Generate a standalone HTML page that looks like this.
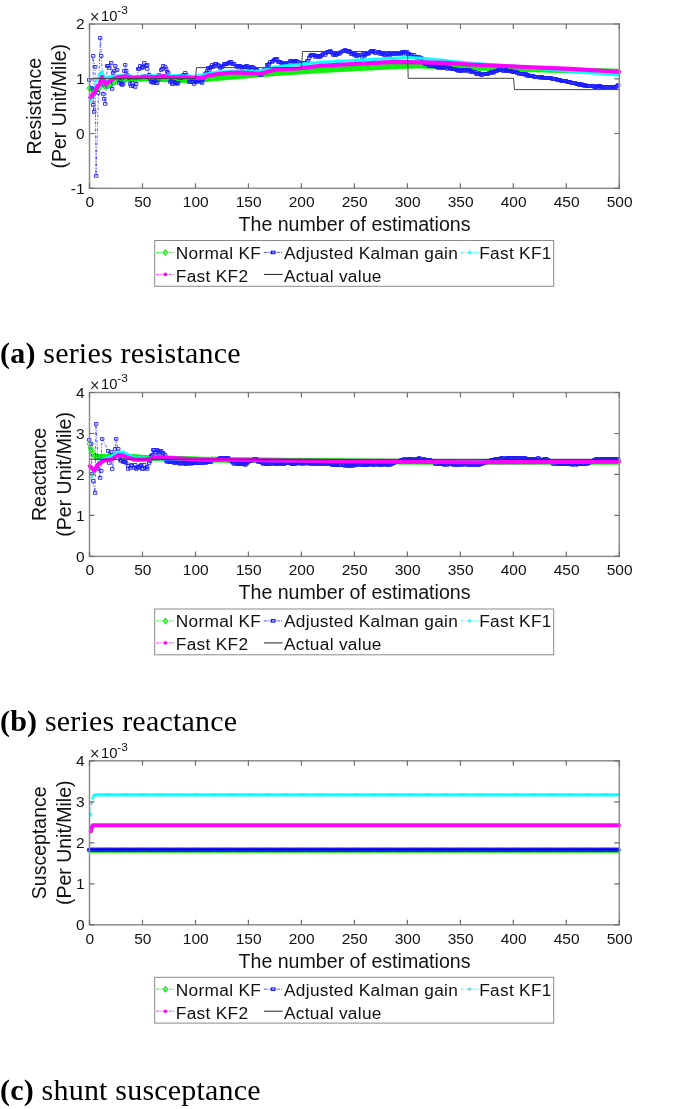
<!DOCTYPE html><html><head><meta charset="utf-8"><style>
html,body{margin:0;padding:0;background:#fff;width:685px;height:1109px;overflow:hidden}
svg{position:absolute;left:0;top:0;display:block;will-change:transform}
text{font-family:"Liberation Sans",sans-serif;fill:#111}
.cap{font-family:"Liberation Serif",serif;fill:#000}
</style></head><body>
<svg width="685" height="1109" viewBox="0 0 685 1109">
<polyline points="89.2,88 93.8,90.4 98.5,89.2 101.4,82.8 105.5,86.9 108.4,85.7 114.3,82.2 118.4,79.3 126,79.3 145,78.6 170,79.5 195,80.5 206.7,79 240,76.1 275,73.2 320,70.3 350,68.6 407.6,65.8 420,65.6 470,67.5 520,69 570,70.4 619,71.6" fill="none" stroke="#00f000" stroke-width="0.8" stroke-dasharray="3 1.5 1 1.5" opacity="0.8"/>
<path d="M89.5 85.5l2.7 2.7l-2.7 2.7l-2.7 -2.7zM90.6 86l2.7 2.7l-2.7 2.7l-2.7 -2.7zM91.6 86.6l2.7 2.7l-2.7 2.7l-2.7 -2.7zM92.7 87.1l2.7 2.7l-2.7 2.7l-2.7 -2.7zM93.7 87.7l2.7 2.7l-2.7 2.7l-2.7 -2.7zM94.8 87.4l2.7 2.7l-2.7 2.7l-2.7 -2.7zM95.9 87.2l2.7 2.7l-2.7 2.7l-2.7 -2.7zM96.9 86.9l2.7 2.7l-2.7 2.7l-2.7 -2.7zM98 86.6l2.7 2.7l-2.7 2.7l-2.7 -2.7zM99 85.3l2.7 2.7l-2.7 2.7l-2.7 -2.7zM100.1 83l2.7 2.7l-2.7 2.7l-2.7 -2.7zM101.2 80.6l2.7 2.7l-2.7 2.7l-2.7 -2.7zM102.2 80.9l2.7 2.7l-2.7 2.7l-2.7 -2.7zM103.3 82l2.7 2.7l-2.7 2.7l-2.7 -2.7zM104.3 83l2.7 2.7l-2.7 2.7l-2.7 -2.7zM105.4 84.1l2.7 2.7l-2.7 2.7l-2.7 -2.7zM106.5 83.8l2.7 2.7l-2.7 2.7l-2.7 -2.7zM107.5 83.4l2.7 2.7l-2.7 2.7l-2.7 -2.7zM108.6 82.9l2.7 2.7l-2.7 2.7l-2.7 -2.7zM109.6 82.3l2.7 2.7l-2.7 2.7l-2.7 -2.7zM110.7 81.6l2.7 2.7l-2.7 2.7l-2.7 -2.7zM111.8 81l2.7 2.7l-2.7 2.7l-2.7 -2.7zM112.8 80.4l2.7 2.7l-2.7 2.7l-2.7 -2.7zM113.9 79.8l2.7 2.7l-2.7 2.7l-2.7 -2.7zM114.9 79.1l2.7 2.7l-2.7 2.7l-2.7 -2.7zM116 78.3l2.7 2.7l-2.7 2.7l-2.7 -2.7zM117 77.6l2.7 2.7l-2.7 2.7l-2.7 -2.7zM118.1 76.8l2.7 2.7l-2.7 2.7l-2.7 -2.7zM119.2 76.6l2.7 2.7l-2.7 2.7l-2.7 -2.7zM120.2 76.6l2.7 2.7l-2.7 2.7l-2.7 -2.7zM121.3 76.6l2.7 2.7l-2.7 2.7l-2.7 -2.7zM122.3 76.6l2.7 2.7l-2.7 2.7l-2.7 -2.7zM123.4 76.6l2.7 2.7l-2.7 2.7l-2.7 -2.7zM124.5 76.6l2.7 2.7l-2.7 2.7l-2.7 -2.7zM125.5 76.6l2.7 2.7l-2.7 2.7l-2.7 -2.7zM126.6 76.6l2.7 2.7l-2.7 2.7l-2.7 -2.7zM127.6 76.5l2.7 2.7l-2.7 2.7l-2.7 -2.7zM128.7 76.5l2.7 2.7l-2.7 2.7l-2.7 -2.7zM129.8 76.5l2.7 2.7l-2.7 2.7l-2.7 -2.7zM130.8 76.4l2.7 2.7l-2.7 2.7l-2.7 -2.7zM131.9 76.4l2.7 2.7l-2.7 2.7l-2.7 -2.7zM132.9 76.3l2.7 2.7l-2.7 2.7l-2.7 -2.7zM134 76.3l2.7 2.7l-2.7 2.7l-2.7 -2.7zM135.1 76.3l2.7 2.7l-2.7 2.7l-2.7 -2.7zM136.1 76.2l2.7 2.7l-2.7 2.7l-2.7 -2.7zM137.2 76.2l2.7 2.7l-2.7 2.7l-2.7 -2.7zM138.2 76.1l2.7 2.7l-2.7 2.7l-2.7 -2.7zM139.3 76.1l2.7 2.7l-2.7 2.7l-2.7 -2.7zM140.4 76.1l2.7 2.7l-2.7 2.7l-2.7 -2.7zM141.4 76l2.7 2.7l-2.7 2.7l-2.7 -2.7zM142.5 76l2.7 2.7l-2.7 2.7l-2.7 -2.7zM143.5 76l2.7 2.7l-2.7 2.7l-2.7 -2.7zM144.6 75.9l2.7 2.7l-2.7 2.7l-2.7 -2.7zM145.7 75.9l2.7 2.7l-2.7 2.7l-2.7 -2.7zM146.7 76l2.7 2.7l-2.7 2.7l-2.7 -2.7zM147.8 76l2.7 2.7l-2.7 2.7l-2.7 -2.7zM148.8 76l2.7 2.7l-2.7 2.7l-2.7 -2.7zM149.9 76.1l2.7 2.7l-2.7 2.7l-2.7 -2.7zM151 76.1l2.7 2.7l-2.7 2.7l-2.7 -2.7zM152 76.2l2.7 2.7l-2.7 2.7l-2.7 -2.7zM153.1 76.2l2.7 2.7l-2.7 2.7l-2.7 -2.7zM154.1 76.2l2.7 2.7l-2.7 2.7l-2.7 -2.7zM155.2 76.3l2.7 2.7l-2.7 2.7l-2.7 -2.7zM156.3 76.3l2.7 2.7l-2.7 2.7l-2.7 -2.7zM157.3 76.3l2.7 2.7l-2.7 2.7l-2.7 -2.7zM158.4 76.4l2.7 2.7l-2.7 2.7l-2.7 -2.7zM159.4 76.4l2.7 2.7l-2.7 2.7l-2.7 -2.7zM160.5 76.5l2.7 2.7l-2.7 2.7l-2.7 -2.7zM161.6 76.5l2.7 2.7l-2.7 2.7l-2.7 -2.7zM162.6 76.5l2.7 2.7l-2.7 2.7l-2.7 -2.7zM163.7 76.6l2.7 2.7l-2.7 2.7l-2.7 -2.7zM164.7 76.6l2.7 2.7l-2.7 2.7l-2.7 -2.7zM165.8 76.6l2.7 2.7l-2.7 2.7l-2.7 -2.7zM166.9 76.7l2.7 2.7l-2.7 2.7l-2.7 -2.7zM167.9 76.7l2.7 2.7l-2.7 2.7l-2.7 -2.7zM169 76.8l2.7 2.7l-2.7 2.7l-2.7 -2.7zM170 76.8l2.7 2.7l-2.7 2.7l-2.7 -2.7zM171.1 76.8l2.7 2.7l-2.7 2.7l-2.7 -2.7zM172.1 76.9l2.7 2.7l-2.7 2.7l-2.7 -2.7zM173.2 76.9l2.7 2.7l-2.7 2.7l-2.7 -2.7zM174.3 77l2.7 2.7l-2.7 2.7l-2.7 -2.7zM175.3 77l2.7 2.7l-2.7 2.7l-2.7 -2.7zM176.4 77.1l2.7 2.7l-2.7 2.7l-2.7 -2.7zM177.4 77.1l2.7 2.7l-2.7 2.7l-2.7 -2.7zM178.5 77.1l2.7 2.7l-2.7 2.7l-2.7 -2.7zM179.6 77.2l2.7 2.7l-2.7 2.7l-2.7 -2.7zM180.6 77.2l2.7 2.7l-2.7 2.7l-2.7 -2.7zM181.7 77.3l2.7 2.7l-2.7 2.7l-2.7 -2.7zM182.7 77.3l2.7 2.7l-2.7 2.7l-2.7 -2.7zM183.8 77.4l2.7 2.7l-2.7 2.7l-2.7 -2.7zM184.9 77.4l2.7 2.7l-2.7 2.7l-2.7 -2.7zM185.9 77.4l2.7 2.7l-2.7 2.7l-2.7 -2.7zM187 77.5l2.7 2.7l-2.7 2.7l-2.7 -2.7zM188 77.5l2.7 2.7l-2.7 2.7l-2.7 -2.7zM189.1 77.6l2.7 2.7l-2.7 2.7l-2.7 -2.7zM190.2 77.6l2.7 2.7l-2.7 2.7l-2.7 -2.7zM191.2 77.6l2.7 2.7l-2.7 2.7l-2.7 -2.7zM192.3 77.7l2.7 2.7l-2.7 2.7l-2.7 -2.7zM193.3 77.7l2.7 2.7l-2.7 2.7l-2.7 -2.7zM194.4 77.8l2.7 2.7l-2.7 2.7l-2.7 -2.7zM195.5 77.7l2.7 2.7l-2.7 2.7l-2.7 -2.7zM196.5 77.6l2.7 2.7l-2.7 2.7l-2.7 -2.7zM197.6 77.5l2.7 2.7l-2.7 2.7l-2.7 -2.7zM198.6 77.3l2.7 2.7l-2.7 2.7l-2.7 -2.7zM199.7 77.2l2.7 2.7l-2.7 2.7l-2.7 -2.7zM200.8 77.1l2.7 2.7l-2.7 2.7l-2.7 -2.7zM201.8 76.9l2.7 2.7l-2.7 2.7l-2.7 -2.7zM202.9 76.8l2.7 2.7l-2.7 2.7l-2.7 -2.7zM203.9 76.7l2.7 2.7l-2.7 2.7l-2.7 -2.7zM205 76.5l2.7 2.7l-2.7 2.7l-2.7 -2.7zM206.1 76.4l2.7 2.7l-2.7 2.7l-2.7 -2.7zM207.1 76.3l2.7 2.7l-2.7 2.7l-2.7 -2.7zM208.2 76.2l2.7 2.7l-2.7 2.7l-2.7 -2.7zM209.2 76.1l2.7 2.7l-2.7 2.7l-2.7 -2.7zM210.3 76l2.7 2.7l-2.7 2.7l-2.7 -2.7zM211.4 75.9l2.7 2.7l-2.7 2.7l-2.7 -2.7zM212.4 75.8l2.7 2.7l-2.7 2.7l-2.7 -2.7zM213.5 75.7l2.7 2.7l-2.7 2.7l-2.7 -2.7zM214.5 75.6l2.7 2.7l-2.7 2.7l-2.7 -2.7zM215.6 75.5l2.7 2.7l-2.7 2.7l-2.7 -2.7zM216.7 75.4l2.7 2.7l-2.7 2.7l-2.7 -2.7zM217.7 75.3l2.7 2.7l-2.7 2.7l-2.7 -2.7zM218.8 75.2l2.7 2.7l-2.7 2.7l-2.7 -2.7zM219.8 75.2l2.7 2.7l-2.7 2.7l-2.7 -2.7zM220.9 75.1l2.7 2.7l-2.7 2.7l-2.7 -2.7zM221.9 75l2.7 2.7l-2.7 2.7l-2.7 -2.7zM223 74.9l2.7 2.7l-2.7 2.7l-2.7 -2.7zM224.1 74.8l2.7 2.7l-2.7 2.7l-2.7 -2.7zM225.1 74.7l2.7 2.7l-2.7 2.7l-2.7 -2.7zM226.2 74.6l2.7 2.7l-2.7 2.7l-2.7 -2.7zM227.2 74.5l2.7 2.7l-2.7 2.7l-2.7 -2.7zM228.3 74.4l2.7 2.7l-2.7 2.7l-2.7 -2.7zM229.4 74.3l2.7 2.7l-2.7 2.7l-2.7 -2.7zM230.4 74.2l2.7 2.7l-2.7 2.7l-2.7 -2.7zM231.5 74.1l2.7 2.7l-2.7 2.7l-2.7 -2.7zM232.5 74l2.7 2.7l-2.7 2.7l-2.7 -2.7zM233.6 74l2.7 2.7l-2.7 2.7l-2.7 -2.7zM234.7 73.9l2.7 2.7l-2.7 2.7l-2.7 -2.7zM235.7 73.8l2.7 2.7l-2.7 2.7l-2.7 -2.7zM236.8 73.7l2.7 2.7l-2.7 2.7l-2.7 -2.7zM237.8 73.6l2.7 2.7l-2.7 2.7l-2.7 -2.7zM238.9 73.5l2.7 2.7l-2.7 2.7l-2.7 -2.7zM240 73.4l2.7 2.7l-2.7 2.7l-2.7 -2.7zM241 73.3l2.7 2.7l-2.7 2.7l-2.7 -2.7zM242.1 73.2l2.7 2.7l-2.7 2.7l-2.7 -2.7zM243.1 73.1l2.7 2.7l-2.7 2.7l-2.7 -2.7zM244.2 73.1l2.7 2.7l-2.7 2.7l-2.7 -2.7zM245.3 73l2.7 2.7l-2.7 2.7l-2.7 -2.7zM246.3 72.9l2.7 2.7l-2.7 2.7l-2.7 -2.7zM247.4 72.8l2.7 2.7l-2.7 2.7l-2.7 -2.7zM248.4 72.7l2.7 2.7l-2.7 2.7l-2.7 -2.7zM249.5 72.6l2.7 2.7l-2.7 2.7l-2.7 -2.7zM250.6 72.5l2.7 2.7l-2.7 2.7l-2.7 -2.7zM251.6 72.4l2.7 2.7l-2.7 2.7l-2.7 -2.7zM252.7 72.3l2.7 2.7l-2.7 2.7l-2.7 -2.7zM253.7 72.3l2.7 2.7l-2.7 2.7l-2.7 -2.7zM254.8 72.2l2.7 2.7l-2.7 2.7l-2.7 -2.7zM255.9 72.1l2.7 2.7l-2.7 2.7l-2.7 -2.7zM256.9 72l2.7 2.7l-2.7 2.7l-2.7 -2.7zM258 71.9l2.7 2.7l-2.7 2.7l-2.7 -2.7zM259 71.8l2.7 2.7l-2.7 2.7l-2.7 -2.7zM260.1 71.7l2.7 2.7l-2.7 2.7l-2.7 -2.7zM261.2 71.6l2.7 2.7l-2.7 2.7l-2.7 -2.7zM262.2 71.6l2.7 2.7l-2.7 2.7l-2.7 -2.7zM263.3 71.5l2.7 2.7l-2.7 2.7l-2.7 -2.7zM264.3 71.4l2.7 2.7l-2.7 2.7l-2.7 -2.7zM265.4 71.3l2.7 2.7l-2.7 2.7l-2.7 -2.7zM266.5 71.2l2.7 2.7l-2.7 2.7l-2.7 -2.7zM267.5 71.1l2.7 2.7l-2.7 2.7l-2.7 -2.7zM268.6 71l2.7 2.7l-2.7 2.7l-2.7 -2.7zM269.6 70.9l2.7 2.7l-2.7 2.7l-2.7 -2.7zM270.7 70.9l2.7 2.7l-2.7 2.7l-2.7 -2.7zM271.8 70.8l2.7 2.7l-2.7 2.7l-2.7 -2.7zM272.8 70.7l2.7 2.7l-2.7 2.7l-2.7 -2.7zM273.9 70.6l2.7 2.7l-2.7 2.7l-2.7 -2.7zM274.9 70.5l2.7 2.7l-2.7 2.7l-2.7 -2.7zM276 70.4l2.7 2.7l-2.7 2.7l-2.7 -2.7zM277 70.4l2.7 2.7l-2.7 2.7l-2.7 -2.7zM278.1 70.3l2.7 2.7l-2.7 2.7l-2.7 -2.7zM279.2 70.2l2.7 2.7l-2.7 2.7l-2.7 -2.7zM280.2 70.2l2.7 2.7l-2.7 2.7l-2.7 -2.7zM281.3 70.1l2.7 2.7l-2.7 2.7l-2.7 -2.7zM282.3 70l2.7 2.7l-2.7 2.7l-2.7 -2.7zM283.4 70l2.7 2.7l-2.7 2.7l-2.7 -2.7zM284.5 69.9l2.7 2.7l-2.7 2.7l-2.7 -2.7zM285.5 69.8l2.7 2.7l-2.7 2.7l-2.7 -2.7zM286.6 69.8l2.7 2.7l-2.7 2.7l-2.7 -2.7zM287.6 69.7l2.7 2.7l-2.7 2.7l-2.7 -2.7zM288.7 69.6l2.7 2.7l-2.7 2.7l-2.7 -2.7zM289.8 69.5l2.7 2.7l-2.7 2.7l-2.7 -2.7zM290.8 69.5l2.7 2.7l-2.7 2.7l-2.7 -2.7zM291.9 69.4l2.7 2.7l-2.7 2.7l-2.7 -2.7zM292.9 69.3l2.7 2.7l-2.7 2.7l-2.7 -2.7zM294 69.3l2.7 2.7l-2.7 2.7l-2.7 -2.7zM295.1 69.2l2.7 2.7l-2.7 2.7l-2.7 -2.7zM296.1 69.1l2.7 2.7l-2.7 2.7l-2.7 -2.7zM297.2 69.1l2.7 2.7l-2.7 2.7l-2.7 -2.7zM298.2 69l2.7 2.7l-2.7 2.7l-2.7 -2.7zM299.3 68.9l2.7 2.7l-2.7 2.7l-2.7 -2.7zM300.4 68.9l2.7 2.7l-2.7 2.7l-2.7 -2.7zM301.4 68.8l2.7 2.7l-2.7 2.7l-2.7 -2.7zM302.5 68.7l2.7 2.7l-2.7 2.7l-2.7 -2.7zM303.5 68.7l2.7 2.7l-2.7 2.7l-2.7 -2.7zM304.6 68.6l2.7 2.7l-2.7 2.7l-2.7 -2.7zM305.7 68.5l2.7 2.7l-2.7 2.7l-2.7 -2.7zM306.7 68.5l2.7 2.7l-2.7 2.7l-2.7 -2.7zM307.8 68.4l2.7 2.7l-2.7 2.7l-2.7 -2.7zM308.8 68.3l2.7 2.7l-2.7 2.7l-2.7 -2.7zM309.9 68.3l2.7 2.7l-2.7 2.7l-2.7 -2.7zM311 68.2l2.7 2.7l-2.7 2.7l-2.7 -2.7zM312 68.1l2.7 2.7l-2.7 2.7l-2.7 -2.7zM313.1 68l2.7 2.7l-2.7 2.7l-2.7 -2.7zM314.1 68l2.7 2.7l-2.7 2.7l-2.7 -2.7zM315.2 67.9l2.7 2.7l-2.7 2.7l-2.7 -2.7zM316.3 67.8l2.7 2.7l-2.7 2.7l-2.7 -2.7zM317.3 67.8l2.7 2.7l-2.7 2.7l-2.7 -2.7zM318.4 67.7l2.7 2.7l-2.7 2.7l-2.7 -2.7zM319.4 67.6l2.7 2.7l-2.7 2.7l-2.7 -2.7zM320.5 67.6l2.7 2.7l-2.7 2.7l-2.7 -2.7zM321.6 67.5l2.7 2.7l-2.7 2.7l-2.7 -2.7zM322.6 67.5l2.7 2.7l-2.7 2.7l-2.7 -2.7zM323.7 67.4l2.7 2.7l-2.7 2.7l-2.7 -2.7zM324.7 67.3l2.7 2.7l-2.7 2.7l-2.7 -2.7zM325.8 67.3l2.7 2.7l-2.7 2.7l-2.7 -2.7zM326.9 67.2l2.7 2.7l-2.7 2.7l-2.7 -2.7zM327.9 67.2l2.7 2.7l-2.7 2.7l-2.7 -2.7zM329 67.1l2.7 2.7l-2.7 2.7l-2.7 -2.7zM330 67l2.7 2.7l-2.7 2.7l-2.7 -2.7zM331.1 67l2.7 2.7l-2.7 2.7l-2.7 -2.7zM332.1 66.9l2.7 2.7l-2.7 2.7l-2.7 -2.7zM333.2 66.9l2.7 2.7l-2.7 2.7l-2.7 -2.7zM334.3 66.8l2.7 2.7l-2.7 2.7l-2.7 -2.7zM335.3 66.7l2.7 2.7l-2.7 2.7l-2.7 -2.7zM336.4 66.7l2.7 2.7l-2.7 2.7l-2.7 -2.7zM337.4 66.6l2.7 2.7l-2.7 2.7l-2.7 -2.7zM338.5 66.6l2.7 2.7l-2.7 2.7l-2.7 -2.7zM339.6 66.5l2.7 2.7l-2.7 2.7l-2.7 -2.7zM340.6 66.4l2.7 2.7l-2.7 2.7l-2.7 -2.7zM341.7 66.4l2.7 2.7l-2.7 2.7l-2.7 -2.7zM342.7 66.3l2.7 2.7l-2.7 2.7l-2.7 -2.7zM343.8 66.3l2.7 2.7l-2.7 2.7l-2.7 -2.7zM344.9 66.2l2.7 2.7l-2.7 2.7l-2.7 -2.7zM345.9 66.1l2.7 2.7l-2.7 2.7l-2.7 -2.7zM347 66.1l2.7 2.7l-2.7 2.7l-2.7 -2.7zM348 66l2.7 2.7l-2.7 2.7l-2.7 -2.7zM349.1 66l2.7 2.7l-2.7 2.7l-2.7 -2.7zM350.2 65.9l2.7 2.7l-2.7 2.7l-2.7 -2.7zM351.2 65.8l2.7 2.7l-2.7 2.7l-2.7 -2.7zM352.3 65.8l2.7 2.7l-2.7 2.7l-2.7 -2.7zM353.3 65.7l2.7 2.7l-2.7 2.7l-2.7 -2.7zM354.4 65.7l2.7 2.7l-2.7 2.7l-2.7 -2.7zM355.5 65.6l2.7 2.7l-2.7 2.7l-2.7 -2.7zM356.5 65.6l2.7 2.7l-2.7 2.7l-2.7 -2.7zM357.6 65.5l2.7 2.7l-2.7 2.7l-2.7 -2.7zM358.6 65.5l2.7 2.7l-2.7 2.7l-2.7 -2.7zM359.7 65.4l2.7 2.7l-2.7 2.7l-2.7 -2.7zM360.8 65.4l2.7 2.7l-2.7 2.7l-2.7 -2.7zM361.8 65.3l2.7 2.7l-2.7 2.7l-2.7 -2.7zM362.9 65.3l2.7 2.7l-2.7 2.7l-2.7 -2.7zM363.9 65.2l2.7 2.7l-2.7 2.7l-2.7 -2.7zM365 65.2l2.7 2.7l-2.7 2.7l-2.7 -2.7zM366.1 65.1l2.7 2.7l-2.7 2.7l-2.7 -2.7zM367.1 65.1l2.7 2.7l-2.7 2.7l-2.7 -2.7zM368.2 65l2.7 2.7l-2.7 2.7l-2.7 -2.7zM369.2 65l2.7 2.7l-2.7 2.7l-2.7 -2.7zM370.3 64.9l2.7 2.7l-2.7 2.7l-2.7 -2.7zM371.4 64.9l2.7 2.7l-2.7 2.7l-2.7 -2.7zM372.4 64.8l2.7 2.7l-2.7 2.7l-2.7 -2.7zM373.5 64.8l2.7 2.7l-2.7 2.7l-2.7 -2.7zM374.5 64.7l2.7 2.7l-2.7 2.7l-2.7 -2.7zM375.6 64.7l2.7 2.7l-2.7 2.7l-2.7 -2.7zM376.7 64.6l2.7 2.7l-2.7 2.7l-2.7 -2.7zM377.7 64.6l2.7 2.7l-2.7 2.7l-2.7 -2.7zM378.8 64.5l2.7 2.7l-2.7 2.7l-2.7 -2.7zM379.8 64.4l2.7 2.7l-2.7 2.7l-2.7 -2.7zM380.9 64.4l2.7 2.7l-2.7 2.7l-2.7 -2.7zM381.9 64.3l2.7 2.7l-2.7 2.7l-2.7 -2.7zM383 64.3l2.7 2.7l-2.7 2.7l-2.7 -2.7zM384.1 64.2l2.7 2.7l-2.7 2.7l-2.7 -2.7zM385.1 64.2l2.7 2.7l-2.7 2.7l-2.7 -2.7zM386.2 64.1l2.7 2.7l-2.7 2.7l-2.7 -2.7zM387.2 64.1l2.7 2.7l-2.7 2.7l-2.7 -2.7zM388.3 64l2.7 2.7l-2.7 2.7l-2.7 -2.7zM389.4 64l2.7 2.7l-2.7 2.7l-2.7 -2.7zM390.4 63.9l2.7 2.7l-2.7 2.7l-2.7 -2.7zM391.5 63.9l2.7 2.7l-2.7 2.7l-2.7 -2.7zM392.5 63.8l2.7 2.7l-2.7 2.7l-2.7 -2.7zM393.6 63.8l2.7 2.7l-2.7 2.7l-2.7 -2.7zM394.7 63.7l2.7 2.7l-2.7 2.7l-2.7 -2.7zM395.7 63.7l2.7 2.7l-2.7 2.7l-2.7 -2.7zM396.8 63.6l2.7 2.7l-2.7 2.7l-2.7 -2.7zM397.8 63.6l2.7 2.7l-2.7 2.7l-2.7 -2.7zM398.9 63.5l2.7 2.7l-2.7 2.7l-2.7 -2.7zM400 63.5l2.7 2.7l-2.7 2.7l-2.7 -2.7zM401 63.4l2.7 2.7l-2.7 2.7l-2.7 -2.7zM402.1 63.4l2.7 2.7l-2.7 2.7l-2.7 -2.7zM403.1 63.3l2.7 2.7l-2.7 2.7l-2.7 -2.7zM404.2 63.3l2.7 2.7l-2.7 2.7l-2.7 -2.7zM405.3 63.2l2.7 2.7l-2.7 2.7l-2.7 -2.7zM406.3 63.2l2.7 2.7l-2.7 2.7l-2.7 -2.7zM407.4 63.1l2.7 2.7l-2.7 2.7l-2.7 -2.7zM408.4 63.1l2.7 2.7l-2.7 2.7l-2.7 -2.7zM409.5 63.1l2.7 2.7l-2.7 2.7l-2.7 -2.7zM410.6 63.1l2.7 2.7l-2.7 2.7l-2.7 -2.7zM411.6 63l2.7 2.7l-2.7 2.7l-2.7 -2.7zM412.7 63l2.7 2.7l-2.7 2.7l-2.7 -2.7zM413.7 63l2.7 2.7l-2.7 2.7l-2.7 -2.7zM414.8 63l2.7 2.7l-2.7 2.7l-2.7 -2.7zM415.9 63l2.7 2.7l-2.7 2.7l-2.7 -2.7zM416.9 62.9l2.7 2.7l-2.7 2.7l-2.7 -2.7zM418 62.9l2.7 2.7l-2.7 2.7l-2.7 -2.7zM419 62.9l2.7 2.7l-2.7 2.7l-2.7 -2.7zM420.1 62.9l2.7 2.7l-2.7 2.7l-2.7 -2.7zM421.2 62.9l2.7 2.7l-2.7 2.7l-2.7 -2.7zM422.2 63l2.7 2.7l-2.7 2.7l-2.7 -2.7zM423.3 63l2.7 2.7l-2.7 2.7l-2.7 -2.7zM424.3 63.1l2.7 2.7l-2.7 2.7l-2.7 -2.7zM425.4 63.1l2.7 2.7l-2.7 2.7l-2.7 -2.7zM426.5 63.1l2.7 2.7l-2.7 2.7l-2.7 -2.7zM427.5 63.2l2.7 2.7l-2.7 2.7l-2.7 -2.7zM428.6 63.2l2.7 2.7l-2.7 2.7l-2.7 -2.7zM429.6 63.3l2.7 2.7l-2.7 2.7l-2.7 -2.7zM430.7 63.3l2.7 2.7l-2.7 2.7l-2.7 -2.7zM431.8 63.3l2.7 2.7l-2.7 2.7l-2.7 -2.7zM432.8 63.4l2.7 2.7l-2.7 2.7l-2.7 -2.7zM433.9 63.4l2.7 2.7l-2.7 2.7l-2.7 -2.7zM434.9 63.5l2.7 2.7l-2.7 2.7l-2.7 -2.7zM436 63.5l2.7 2.7l-2.7 2.7l-2.7 -2.7zM437 63.5l2.7 2.7l-2.7 2.7l-2.7 -2.7zM438.1 63.6l2.7 2.7l-2.7 2.7l-2.7 -2.7zM439.2 63.6l2.7 2.7l-2.7 2.7l-2.7 -2.7zM440.2 63.7l2.7 2.7l-2.7 2.7l-2.7 -2.7zM441.3 63.7l2.7 2.7l-2.7 2.7l-2.7 -2.7zM442.3 63.7l2.7 2.7l-2.7 2.7l-2.7 -2.7zM443.4 63.8l2.7 2.7l-2.7 2.7l-2.7 -2.7zM444.5 63.8l2.7 2.7l-2.7 2.7l-2.7 -2.7zM445.5 63.9l2.7 2.7l-2.7 2.7l-2.7 -2.7zM446.6 63.9l2.7 2.7l-2.7 2.7l-2.7 -2.7zM447.6 64l2.7 2.7l-2.7 2.7l-2.7 -2.7zM448.7 64l2.7 2.7l-2.7 2.7l-2.7 -2.7zM449.8 64l2.7 2.7l-2.7 2.7l-2.7 -2.7zM450.8 64.1l2.7 2.7l-2.7 2.7l-2.7 -2.7zM451.9 64.1l2.7 2.7l-2.7 2.7l-2.7 -2.7zM452.9 64.2l2.7 2.7l-2.7 2.7l-2.7 -2.7zM454 64.2l2.7 2.7l-2.7 2.7l-2.7 -2.7zM455.1 64.2l2.7 2.7l-2.7 2.7l-2.7 -2.7zM456.1 64.3l2.7 2.7l-2.7 2.7l-2.7 -2.7zM457.2 64.3l2.7 2.7l-2.7 2.7l-2.7 -2.7zM458.2 64.4l2.7 2.7l-2.7 2.7l-2.7 -2.7zM459.3 64.4l2.7 2.7l-2.7 2.7l-2.7 -2.7zM460.4 64.4l2.7 2.7l-2.7 2.7l-2.7 -2.7zM461.4 64.5l2.7 2.7l-2.7 2.7l-2.7 -2.7zM462.5 64.5l2.7 2.7l-2.7 2.7l-2.7 -2.7zM463.5 64.6l2.7 2.7l-2.7 2.7l-2.7 -2.7zM464.6 64.6l2.7 2.7l-2.7 2.7l-2.7 -2.7zM465.7 64.6l2.7 2.7l-2.7 2.7l-2.7 -2.7zM466.7 64.7l2.7 2.7l-2.7 2.7l-2.7 -2.7zM467.8 64.7l2.7 2.7l-2.7 2.7l-2.7 -2.7zM468.8 64.8l2.7 2.7l-2.7 2.7l-2.7 -2.7zM469.9 64.8l2.7 2.7l-2.7 2.7l-2.7 -2.7zM471 64.8l2.7 2.7l-2.7 2.7l-2.7 -2.7zM472 64.9l2.7 2.7l-2.7 2.7l-2.7 -2.7zM473.1 64.9l2.7 2.7l-2.7 2.7l-2.7 -2.7zM474.1 64.9l2.7 2.7l-2.7 2.7l-2.7 -2.7zM475.2 65l2.7 2.7l-2.7 2.7l-2.7 -2.7zM476.3 65l2.7 2.7l-2.7 2.7l-2.7 -2.7zM477.3 65l2.7 2.7l-2.7 2.7l-2.7 -2.7zM478.4 65.1l2.7 2.7l-2.7 2.7l-2.7 -2.7zM479.4 65.1l2.7 2.7l-2.7 2.7l-2.7 -2.7zM480.5 65.1l2.7 2.7l-2.7 2.7l-2.7 -2.7zM481.6 65.1l2.7 2.7l-2.7 2.7l-2.7 -2.7zM482.6 65.2l2.7 2.7l-2.7 2.7l-2.7 -2.7zM483.7 65.2l2.7 2.7l-2.7 2.7l-2.7 -2.7zM484.7 65.2l2.7 2.7l-2.7 2.7l-2.7 -2.7zM485.8 65.3l2.7 2.7l-2.7 2.7l-2.7 -2.7zM486.8 65.3l2.7 2.7l-2.7 2.7l-2.7 -2.7zM487.9 65.3l2.7 2.7l-2.7 2.7l-2.7 -2.7zM489 65.4l2.7 2.7l-2.7 2.7l-2.7 -2.7zM490 65.4l2.7 2.7l-2.7 2.7l-2.7 -2.7zM491.1 65.4l2.7 2.7l-2.7 2.7l-2.7 -2.7zM492.1 65.5l2.7 2.7l-2.7 2.7l-2.7 -2.7zM493.2 65.5l2.7 2.7l-2.7 2.7l-2.7 -2.7zM494.3 65.5l2.7 2.7l-2.7 2.7l-2.7 -2.7zM495.3 65.6l2.7 2.7l-2.7 2.7l-2.7 -2.7zM496.4 65.6l2.7 2.7l-2.7 2.7l-2.7 -2.7zM497.4 65.6l2.7 2.7l-2.7 2.7l-2.7 -2.7zM498.5 65.7l2.7 2.7l-2.7 2.7l-2.7 -2.7zM499.6 65.7l2.7 2.7l-2.7 2.7l-2.7 -2.7zM500.6 65.7l2.7 2.7l-2.7 2.7l-2.7 -2.7zM501.7 65.8l2.7 2.7l-2.7 2.7l-2.7 -2.7zM502.7 65.8l2.7 2.7l-2.7 2.7l-2.7 -2.7zM503.8 65.8l2.7 2.7l-2.7 2.7l-2.7 -2.7zM504.9 65.8l2.7 2.7l-2.7 2.7l-2.7 -2.7zM505.9 65.9l2.7 2.7l-2.7 2.7l-2.7 -2.7zM507 65.9l2.7 2.7l-2.7 2.7l-2.7 -2.7zM508 65.9l2.7 2.7l-2.7 2.7l-2.7 -2.7zM509.1 66l2.7 2.7l-2.7 2.7l-2.7 -2.7zM510.2 66l2.7 2.7l-2.7 2.7l-2.7 -2.7zM511.2 66l2.7 2.7l-2.7 2.7l-2.7 -2.7zM512.3 66.1l2.7 2.7l-2.7 2.7l-2.7 -2.7zM513.3 66.1l2.7 2.7l-2.7 2.7l-2.7 -2.7zM514.4 66.1l2.7 2.7l-2.7 2.7l-2.7 -2.7zM515.5 66.2l2.7 2.7l-2.7 2.7l-2.7 -2.7zM516.5 66.2l2.7 2.7l-2.7 2.7l-2.7 -2.7zM517.6 66.2l2.7 2.7l-2.7 2.7l-2.7 -2.7zM518.6 66.3l2.7 2.7l-2.7 2.7l-2.7 -2.7zM519.7 66.3l2.7 2.7l-2.7 2.7l-2.7 -2.7zM520.8 66.3l2.7 2.7l-2.7 2.7l-2.7 -2.7zM521.8 66.4l2.7 2.7l-2.7 2.7l-2.7 -2.7zM522.9 66.4l2.7 2.7l-2.7 2.7l-2.7 -2.7zM523.9 66.4l2.7 2.7l-2.7 2.7l-2.7 -2.7zM525 66.4l2.7 2.7l-2.7 2.7l-2.7 -2.7zM526.1 66.5l2.7 2.7l-2.7 2.7l-2.7 -2.7zM527.1 66.5l2.7 2.7l-2.7 2.7l-2.7 -2.7zM528.2 66.5l2.7 2.7l-2.7 2.7l-2.7 -2.7zM529.2 66.6l2.7 2.7l-2.7 2.7l-2.7 -2.7zM530.3 66.6l2.7 2.7l-2.7 2.7l-2.7 -2.7zM531.4 66.6l2.7 2.7l-2.7 2.7l-2.7 -2.7zM532.4 66.6l2.7 2.7l-2.7 2.7l-2.7 -2.7zM533.5 66.7l2.7 2.7l-2.7 2.7l-2.7 -2.7zM534.5 66.7l2.7 2.7l-2.7 2.7l-2.7 -2.7zM535.6 66.7l2.7 2.7l-2.7 2.7l-2.7 -2.7zM536.7 66.8l2.7 2.7l-2.7 2.7l-2.7 -2.7zM537.7 66.8l2.7 2.7l-2.7 2.7l-2.7 -2.7zM538.8 66.8l2.7 2.7l-2.7 2.7l-2.7 -2.7zM539.8 66.9l2.7 2.7l-2.7 2.7l-2.7 -2.7zM540.9 66.9l2.7 2.7l-2.7 2.7l-2.7 -2.7zM541.9 66.9l2.7 2.7l-2.7 2.7l-2.7 -2.7zM543 66.9l2.7 2.7l-2.7 2.7l-2.7 -2.7zM544.1 67l2.7 2.7l-2.7 2.7l-2.7 -2.7zM545.1 67l2.7 2.7l-2.7 2.7l-2.7 -2.7zM546.2 67l2.7 2.7l-2.7 2.7l-2.7 -2.7zM547.2 67.1l2.7 2.7l-2.7 2.7l-2.7 -2.7zM548.3 67.1l2.7 2.7l-2.7 2.7l-2.7 -2.7zM549.4 67.1l2.7 2.7l-2.7 2.7l-2.7 -2.7zM550.4 67.2l2.7 2.7l-2.7 2.7l-2.7 -2.7zM551.5 67.2l2.7 2.7l-2.7 2.7l-2.7 -2.7zM552.5 67.2l2.7 2.7l-2.7 2.7l-2.7 -2.7zM553.6 67.2l2.7 2.7l-2.7 2.7l-2.7 -2.7zM554.7 67.3l2.7 2.7l-2.7 2.7l-2.7 -2.7zM555.7 67.3l2.7 2.7l-2.7 2.7l-2.7 -2.7zM556.8 67.3l2.7 2.7l-2.7 2.7l-2.7 -2.7zM557.8 67.4l2.7 2.7l-2.7 2.7l-2.7 -2.7zM558.9 67.4l2.7 2.7l-2.7 2.7l-2.7 -2.7zM560 67.4l2.7 2.7l-2.7 2.7l-2.7 -2.7zM561 67.4l2.7 2.7l-2.7 2.7l-2.7 -2.7zM562.1 67.5l2.7 2.7l-2.7 2.7l-2.7 -2.7zM563.1 67.5l2.7 2.7l-2.7 2.7l-2.7 -2.7zM564.2 67.5l2.7 2.7l-2.7 2.7l-2.7 -2.7zM565.3 67.6l2.7 2.7l-2.7 2.7l-2.7 -2.7zM566.3 67.6l2.7 2.7l-2.7 2.7l-2.7 -2.7zM567.4 67.6l2.7 2.7l-2.7 2.7l-2.7 -2.7zM568.4 67.7l2.7 2.7l-2.7 2.7l-2.7 -2.7zM569.5 67.7l2.7 2.7l-2.7 2.7l-2.7 -2.7zM570.6 67.7l2.7 2.7l-2.7 2.7l-2.7 -2.7zM571.6 67.7l2.7 2.7l-2.7 2.7l-2.7 -2.7zM572.7 67.8l2.7 2.7l-2.7 2.7l-2.7 -2.7zM573.7 67.8l2.7 2.7l-2.7 2.7l-2.7 -2.7zM574.8 67.8l2.7 2.7l-2.7 2.7l-2.7 -2.7zM575.9 67.8l2.7 2.7l-2.7 2.7l-2.7 -2.7zM576.9 67.9l2.7 2.7l-2.7 2.7l-2.7 -2.7zM578 67.9l2.7 2.7l-2.7 2.7l-2.7 -2.7zM579 67.9l2.7 2.7l-2.7 2.7l-2.7 -2.7zM580.1 67.9l2.7 2.7l-2.7 2.7l-2.7 -2.7zM581.2 68l2.7 2.7l-2.7 2.7l-2.7 -2.7zM582.2 68l2.7 2.7l-2.7 2.7l-2.7 -2.7zM583.3 68l2.7 2.7l-2.7 2.7l-2.7 -2.7zM584.3 68.1l2.7 2.7l-2.7 2.7l-2.7 -2.7zM585.4 68.1l2.7 2.7l-2.7 2.7l-2.7 -2.7zM586.5 68.1l2.7 2.7l-2.7 2.7l-2.7 -2.7zM587.5 68.1l2.7 2.7l-2.7 2.7l-2.7 -2.7zM588.6 68.2l2.7 2.7l-2.7 2.7l-2.7 -2.7zM589.6 68.2l2.7 2.7l-2.7 2.7l-2.7 -2.7zM590.7 68.2l2.7 2.7l-2.7 2.7l-2.7 -2.7zM591.8 68.2l2.7 2.7l-2.7 2.7l-2.7 -2.7zM592.8 68.3l2.7 2.7l-2.7 2.7l-2.7 -2.7zM593.9 68.3l2.7 2.7l-2.7 2.7l-2.7 -2.7zM594.9 68.3l2.7 2.7l-2.7 2.7l-2.7 -2.7zM596 68.3l2.7 2.7l-2.7 2.7l-2.7 -2.7zM597 68.4l2.7 2.7l-2.7 2.7l-2.7 -2.7zM598.1 68.4l2.7 2.7l-2.7 2.7l-2.7 -2.7zM599.2 68.4l2.7 2.7l-2.7 2.7l-2.7 -2.7zM600.2 68.4l2.7 2.7l-2.7 2.7l-2.7 -2.7zM601.3 68.5l2.7 2.7l-2.7 2.7l-2.7 -2.7zM602.3 68.5l2.7 2.7l-2.7 2.7l-2.7 -2.7zM603.4 68.5l2.7 2.7l-2.7 2.7l-2.7 -2.7zM604.5 68.5l2.7 2.7l-2.7 2.7l-2.7 -2.7zM605.5 68.6l2.7 2.7l-2.7 2.7l-2.7 -2.7zM606.6 68.6l2.7 2.7l-2.7 2.7l-2.7 -2.7zM607.6 68.6l2.7 2.7l-2.7 2.7l-2.7 -2.7zM608.7 68.6l2.7 2.7l-2.7 2.7l-2.7 -2.7zM609.8 68.7l2.7 2.7l-2.7 2.7l-2.7 -2.7zM610.8 68.7l2.7 2.7l-2.7 2.7l-2.7 -2.7zM611.9 68.7l2.7 2.7l-2.7 2.7l-2.7 -2.7zM612.9 68.8l2.7 2.7l-2.7 2.7l-2.7 -2.7zM614 68.8l2.7 2.7l-2.7 2.7l-2.7 -2.7zM615.1 68.8l2.7 2.7l-2.7 2.7l-2.7 -2.7zM616.1 68.8l2.7 2.7l-2.7 2.7l-2.7 -2.7zM617.2 68.9l2.7 2.7l-2.7 2.7l-2.7 -2.7zM618.2 68.9l2.7 2.7l-2.7 2.7l-2.7 -2.7z" fill="none" stroke="#00f000" stroke-width="1"/>
<polyline points="89.5,80 90.9,87.8 92,97.1 93.2,105.3 93.9,112.3 92.7,56.3 95,67.1 96,175.4 98.5,93.1 100.3,37.9 101.4,55.7 103.2,94.2 104.4,98.9 105.5,103.8 107.3,66.2 109.6,67.4 110.8,62.7 111.9,89 113.1,73.2 115.4,65.6 117.2,70.3 119.5,82.6 123,83.7 125.4,64.8 126.5,70.9 130,84.3 133.5,86.1 135.9,84 138.2,68.5 141.7,66.8 144.6,62.7 145.8,65.6 147.6,68.5 151.1,81.4 154,82 158,80.2 161,69.7 163.3,66.2 165.8,68.5 167,72 170.5,82 171.1,80.5 172.1,83.9 173.2,83.8 174.3,81.8 175.3,83.2 176.4,83.2 177.4,84.4 178.5,83.1 179.6,78.1 180.6,75.8 181.7,77.4 182.7,74.8 183.8,76.3 184.9,73.1 185.9,75.2 187,76.6 188,76.6 189.1,82 190.2,82.4 191.2,79 192.3,79.4 193.3,82.1 194.4,84.3 195.5,82.1 196.5,81.4 197.6,82.3 198.6,80.5 199.7,81.4 200.8,82.3 201.8,82.6 202.9,79.1 203.9,76.6 205,73.7 206.1,72.7 207.1,70.6 208.2,68.2 209.2,69.5 210.3,67.4 211.4,66.5 212.4,64.7 213.5,66.8 214.5,66.1 215.6,63.6 216.7,63.9 217.7,65.3 218.8,66.3 219.8,68 220.9,67.1 221.9,67.3 223,65.8 224.1,63.7 225.1,63.5 226.2,64.1 227.2,64 228.3,63 229.4,63.3 230.4,61.6 231.5,62.2 232.5,64 233.6,63.6 234.7,63.6 235.7,65.4 236.8,66.6 237.8,66.8 238.9,66 240,66.3 241,66.6 242.1,67.4 243.1,66.7 244.2,66.4 245.3,66.8 246.3,65.7 247.4,65.8 248.4,67.4 249.5,68.2 250.6,67.6 251.6,67.4 252.7,67.2 253.7,68.3 254.8,69.7 255.9,69.5 256.9,70 258,72.6 259,72.9 260.1,74.8 261.2,74.7 262.2,72.6 263.3,71.1 264.3,69.5 265.4,69 266.5,68.5 267.5,64.6 268.6,64.9 269.6,63.4 270.7,62.3 271.8,61.4 272.8,61 273.9,59.8 274.9,59.4 276,59.6 277,59.4 278.1,62 279.2,61.9 280.2,61.6 281.3,62.7 282.3,63.1 283.4,63.2 284.5,63.5 285.5,63.7 286.6,63.5 287.6,63.2 288.7,62.5 289.8,61.1 290.8,61.3 291.9,60.9 292.9,61.5 294,61.9 295.1,61.4 296.1,61.2 297.2,62 298.2,61.5 299.3,63.7 300.4,64.1 301.4,62.9 302.5,62.7 303.5,62.7 304.6,64.5 305.7,62.9 306.7,61 307.8,60.6 308.8,58.3 309.9,56 311,54.7 312,55.3 313.1,54.7 314.1,55.2 315.2,56.4 316.3,56 317.3,55.9 318.4,56.5 319.4,55.7 320.5,56.4 321.6,55.8 322.6,54.5 323.7,53.6 324.7,54.8 325.8,53.2 326.9,51.8 327.9,52 329,52.1 330,50.8 331.1,51.5 332.1,52.4 333.2,54.5 334.3,53.8 335.3,55 336.4,54.5 337.4,53.7 338.5,52.4 339.6,53.8 340.6,52.9 341.7,51.8 342.7,50.6 343.8,51.2 344.9,50.2 345.9,51 347,50.9 348,52 349.1,51.1 350.2,52.1 351.2,54.2 352.3,54.4 353.3,53.3 354.4,55 355.5,54.1 356.5,55.9 357.6,55.8 358.6,55.4 359.7,55.3 360.8,55.1 361.8,56.8 362.9,54.2 363.9,55.5 365,55.4 366.1,53.9 367.1,52.4 368.2,53.5 369.2,53.3 370.3,52.1 371.4,51.3 372.4,51.2 373.5,51.4 374.5,51.3 375.6,52.7 376.7,52.4 377.7,52.1 378.8,52.2 379.8,53.8 380.9,53.1 381.9,53.9 383,53.7 384.1,55.1 385.1,55.3 386.2,53.3 387.2,53.8 388.3,54.2 389.4,55.9 390.4,55.4 391.5,54 392.5,53.4 393.6,54.1 394.7,54.2 395.7,54.1 396.8,52.4 397.8,53.5 398.9,53.1 400,52.6 401,53.8 402.1,52.1 403.1,53.3 404.2,51.7 405.3,52 406.3,53.8 407.4,52.1 408.4,53.9 409.5,54.1 410.6,55.2 411.6,54.6 412.7,55.1 413.7,55.4 414.8,57.1 415.9,56.9 416.9,58.1 418,58.3 419,56.8 420.1,58.1 421.2,58.4 422.2,59.4 423.3,60.5 424.3,62.5 425.4,63.4 426.5,64.1 427.5,64 428.6,64.8 429.6,65.4 430.7,65.4 431.8,66 432.8,65.8 433.9,65.9 434.9,66.3 436,67.3 437,67.1 438.1,67.8 439.2,67.4 440.2,67.2 441.3,67.8 442.3,67.9 443.4,66.9 444.5,67.7 445.5,67.1 446.6,67.4 447.6,68.5 448.7,67.7 449.8,68.2 450.8,69.3 451.9,68.8 452.9,68.7 454,69 455.1,69.3 456.1,70.1 457.2,69.5 458.2,70.5 459.3,69.9 460.4,70.7 461.4,70.7 462.5,70.1 463.5,70.1 464.6,70.4 465.7,70 466.7,70.8 467.8,70.1 468.8,70.3 469.9,71.7 471,71.2 472,71.9 473.1,72 474.1,72.1 475.2,72.1 476.3,73.4 477.3,73.8 478.4,74.1 479.4,73.3 480.5,73.7 481.6,74.4 482.6,74.8 483.7,74.1 484.7,74.2 485.8,74.1 486.8,73.5 487.9,73.7 489,73.2 490,72.8 491.1,72.2 492.1,72 493.2,72.5 494.3,71.5 495.3,71.3 496.4,70.9 497.4,70.9 498.5,69.9 499.6,69.7 500.6,69.9 501.7,69.9 502.7,70.7 503.8,70.8 504.9,70.2 505.9,70.3 507,70.7 508,70.9 509.1,71.2 510.2,71 511.2,71 512.3,71.5 513.3,71.5 514.4,72.4 515.5,72 516.5,72.3 517.6,73.2 518.6,73 519.7,73.9 520.8,73.7 521.8,74.4 522.9,73.8 523.9,74.4 525,74.9 526.1,74.3 527.1,75.6 528.2,74.8 529.2,75.8 530.3,76.2 531.4,76.2 532.4,75.8 533.5,75.8 534.5,76.5 535.6,77.1 536.7,76.5 537.7,77.3 538.8,76.5 539.8,77.5 540.9,76.6 541.9,77 543,77.8 544.1,77.8 545.1,78.1 546.2,78.1 547.2,78.1 548.3,78.1 549.4,77.6 550.4,78.2 551.5,78 552.5,78.9 553.6,79.1 554.7,78.8 555.7,78.8 556.8,80.1 557.8,80.1 558.9,80 560,80.2 561,80.8 562.1,80.5 563.1,80.6 564.2,80.8 565.3,81 566.3,81 567.4,82 568.4,81.9 569.5,82.4 570.6,82 571.6,82.7 572.7,82.7 573.7,82.9 574.8,83.3 575.9,84.3 576.9,84 578,84.3 579,84.7 580.1,84.4 581.2,84.3 582.2,85 583.3,85.1 584.3,85.5 585.4,85.3 586.5,85.8 587.5,86 588.6,85.5 589.6,86 590.7,86.1 591.8,85.9 592.8,86.3 593.9,86.5 594.9,87 596,87 597,86.3 598.1,86.8 599.2,86.1 600.2,86.2 601.3,86.8 602.3,87.2 603.4,86.4 604.5,87.2 605.5,87.4 606.6,86.7 607.6,87.2 608.7,87.3 609.8,86.6 610.8,86.8 611.9,86.7 612.9,86.4 614,86.6 615.1,86.5 616.1,86.4 617.2,85.8 618.2,85.2" fill="none" stroke="#0000ff" stroke-width="0.8" stroke-dasharray="3 1.5 1 1.5" opacity="0.8"/>
<path d="M87.5 78.5h3.4v2.8h-3.4zM89.5 86.5h3.4v2.8h-3.4zM90.5 95.5h3.4v2.8h-3.4zM91.5 54.5h3.4v2.8h-3.4zM91.5 103.5h3.4v2.8h-3.4zM92.5 110.5h3.4v2.8h-3.4zM93.5 65.5h3.4v2.8h-3.4zM94.5 174.5h3.4v2.8h-3.4zM96.5 91.5h3.4v2.8h-3.4zM98.5 36.5h3.4v2.8h-3.4zM99.5 54.5h3.4v2.8h-3.4zM101.5 92.5h3.4v2.8h-3.4zM102.5 97.5h3.4v2.8h-3.4zM103.5 102.5h3.4v2.8h-3.4zM104.5 81.5h3.4v2.8h-3.4zM105.5 64.5h3.4v2.8h-3.4zM106.5 64.5h3.4v2.8h-3.4zM107.5 66.5h3.4v2.8h-3.4zM109.5 61.5h3.4v2.8h-3.4zM110.5 87.5h3.4v2.8h-3.4zM111.5 71.5h3.4v2.8h-3.4zM112.5 69.5h3.4v2.8h-3.4zM113.5 64.5h3.4v2.8h-3.4zM115.5 68.5h3.4v2.8h-3.4zM116.5 75.5h3.4v2.8h-3.4zM117.5 81.5h3.4v2.8h-3.4zM118.5 79.5h3.4v2.8h-3.4zM119.5 82.5h3.4v2.8h-3.4zM120.5 83.5h3.4v2.8h-3.4zM121.5 82.5h3.4v2.8h-3.4zM122.5 69.5h3.4v2.8h-3.4zM123.5 63.5h3.4v2.8h-3.4zM124.5 69.5h3.4v2.8h-3.4zM125.5 73.5h3.4v2.8h-3.4zM127.5 76.5h3.4v2.8h-3.4zM128.5 82.5h3.4v2.8h-3.4zM129.5 84.5h3.4v2.8h-3.4zM130.5 81.5h3.4v2.8h-3.4zM131.5 84.5h3.4v2.8h-3.4zM133.5 85.5h3.4v2.8h-3.4zM134.5 82.5h3.4v2.8h-3.4zM135.5 75.5h3.4v2.8h-3.4zM136.5 67.5h3.4v2.8h-3.4zM137.5 67.5h3.4v2.8h-3.4zM138.5 64.5h3.4v2.8h-3.4zM140.5 65.5h3.4v2.8h-3.4zM140.5 66.5h3.4v2.8h-3.4zM141.5 65.5h3.4v2.8h-3.4zM142.5 61.5h3.4v2.8h-3.4zM144.5 64.5h3.4v2.8h-3.4zM145.5 63.5h3.4v2.8h-3.4zM145.5 67.5h3.4v2.8h-3.4zM147.5 73.5h3.4v2.8h-3.4zM148.5 77.5h3.4v2.8h-3.4zM149.5 80.5h3.4v2.8h-3.4zM150.5 80.5h3.4v2.8h-3.4zM151.5 81.5h3.4v2.8h-3.4zM152.5 80.5h3.4v2.8h-3.4zM153.5 79.5h3.4v2.8h-3.4zM154.5 81.5h3.4v2.8h-3.4zM155.5 81.5h3.4v2.8h-3.4zM156.5 78.5h3.4v2.8h-3.4zM157.5 73.5h3.4v2.8h-3.4zM159.5 68.5h3.4v2.8h-3.4zM160.5 67.5h3.4v2.8h-3.4zM161.5 64.5h3.4v2.8h-3.4zM163.5 65.5h3.4v2.8h-3.4zM164.5 67.5h3.4v2.8h-3.4zM165.5 70.5h3.4v2.8h-3.4zM166.5 71.5h3.4v2.8h-3.4zM167.5 75.5h3.4v2.8h-3.4zM168.5 80.5h3.4v2.8h-3.4zM169.5 79.5h3.4v2.8h-3.4zM170.5 82.5h3.4v2.8h-3.4zM171.5 82.5h3.4v2.8h-3.4zM172.5 80.5h3.4v2.8h-3.4zM173.5 81.5h3.4v2.8h-3.4zM174.5 81.5h3.4v2.8h-3.4zM175.5 82.5h3.4v2.8h-3.4zM176.5 81.5h3.4v2.8h-3.4zM177.5 76.5h3.4v2.8h-3.4zM178.5 74.5h3.4v2.8h-3.4zM179.5 76.5h3.4v2.8h-3.4zM181.5 73.5h3.4v2.8h-3.4zM182.5 74.5h3.4v2.8h-3.4zM183.5 71.5h3.4v2.8h-3.4zM184.5 73.5h3.4v2.8h-3.4zM185.5 75.5h3.4v2.8h-3.4zM186.5 75.5h3.4v2.8h-3.4zM187.5 80.5h3.4v2.8h-3.4zM188.5 80.5h3.4v2.8h-3.4zM189.5 77.5h3.4v2.8h-3.4zM190.5 77.5h3.4v2.8h-3.4zM191.5 80.5h3.4v2.8h-3.4zM192.5 82.5h3.4v2.8h-3.4zM193.5 80.5h3.4v2.8h-3.4zM194.5 79.5h3.4v2.8h-3.4zM195.5 80.5h3.4v2.8h-3.4zM196.5 79.5h3.4v2.8h-3.4zM197.5 79.5h3.4v2.8h-3.4zM199.5 80.5h3.4v2.8h-3.4zM200.5 81.5h3.4v2.8h-3.4zM201.5 77.5h3.4v2.8h-3.4zM202.5 75.5h3.4v2.8h-3.4zM203.5 72.5h3.4v2.8h-3.4zM204.5 71.5h3.4v2.8h-3.4zM205.5 69.5h3.4v2.8h-3.4zM206.5 66.5h3.4v2.8h-3.4zM207.5 68.5h3.4v2.8h-3.4zM208.5 66.5h3.4v2.8h-3.4zM209.5 65.5h3.4v2.8h-3.4zM210.5 63.5h3.4v2.8h-3.4zM211.5 65.5h3.4v2.8h-3.4zM212.5 64.5h3.4v2.8h-3.4zM213.5 62.5h3.4v2.8h-3.4zM214.5 62.5h3.4v2.8h-3.4zM216.5 63.5h3.4v2.8h-3.4zM217.5 64.5h3.4v2.8h-3.4zM218.5 66.5h3.4v2.8h-3.4zM219.5 65.5h3.4v2.8h-3.4zM220.5 65.5h3.4v2.8h-3.4zM221.5 64.5h3.4v2.8h-3.4zM222.5 62.5h3.4v2.8h-3.4zM223.5 62.5h3.4v2.8h-3.4zM224.5 62.5h3.4v2.8h-3.4zM225.5 62.5h3.4v2.8h-3.4zM226.5 61.5h3.4v2.8h-3.4zM227.5 61.5h3.4v2.8h-3.4zM228.5 60.5h3.4v2.8h-3.4zM229.5 60.5h3.4v2.8h-3.4zM230.5 62.5h3.4v2.8h-3.4zM231.5 62.5h3.4v2.8h-3.4zM232.5 62.5h3.4v2.8h-3.4zM234.5 64.5h3.4v2.8h-3.4zM235.5 65.5h3.4v2.8h-3.4zM236.5 65.5h3.4v2.8h-3.4zM237.5 64.5h3.4v2.8h-3.4zM238.5 64.5h3.4v2.8h-3.4zM239.5 65.5h3.4v2.8h-3.4zM240.5 66.5h3.4v2.8h-3.4zM241.5 65.5h3.4v2.8h-3.4zM242.5 65.5h3.4v2.8h-3.4zM243.5 65.5h3.4v2.8h-3.4zM244.5 64.5h3.4v2.8h-3.4zM245.5 64.5h3.4v2.8h-3.4zM246.5 66.5h3.4v2.8h-3.4zM247.5 66.5h3.4v2.8h-3.4zM248.5 66.5h3.4v2.8h-3.4zM249.5 65.5h3.4v2.8h-3.4zM250.5 65.5h3.4v2.8h-3.4zM252.5 66.5h3.4v2.8h-3.4zM253.5 68.5h3.4v2.8h-3.4zM254.5 68.5h3.4v2.8h-3.4zM255.5 68.5h3.4v2.8h-3.4zM256.5 71.5h3.4v2.8h-3.4zM257.5 71.5h3.4v2.8h-3.4zM258.5 73.5h3.4v2.8h-3.4zM259.5 73.5h3.4v2.8h-3.4zM260.5 71.5h3.4v2.8h-3.4zM261.5 69.5h3.4v2.8h-3.4zM262.5 68.5h3.4v2.8h-3.4zM263.5 67.5h3.4v2.8h-3.4zM264.5 67.5h3.4v2.8h-3.4zM265.5 63.5h3.4v2.8h-3.4zM266.5 63.5h3.4v2.8h-3.4zM267.5 62.5h3.4v2.8h-3.4zM268.5 60.5h3.4v2.8h-3.4zM270.5 60.5h3.4v2.8h-3.4zM271.5 59.5h3.4v2.8h-3.4zM272.5 58.5h3.4v2.8h-3.4zM273.5 57.5h3.4v2.8h-3.4zM274.5 58.5h3.4v2.8h-3.4zM275.5 57.5h3.4v2.8h-3.4zM276.5 60.5h3.4v2.8h-3.4zM277.5 60.5h3.4v2.8h-3.4zM278.5 60.5h3.4v2.8h-3.4zM279.5 61.5h3.4v2.8h-3.4zM280.5 61.5h3.4v2.8h-3.4zM281.5 61.5h3.4v2.8h-3.4zM282.5 62.5h3.4v2.8h-3.4zM283.5 62.5h3.4v2.8h-3.4zM284.5 62.5h3.4v2.8h-3.4zM285.5 61.5h3.4v2.8h-3.4zM287.5 61.5h3.4v2.8h-3.4zM288.5 59.5h3.4v2.8h-3.4zM289.5 59.5h3.4v2.8h-3.4zM290.5 59.5h3.4v2.8h-3.4zM291.5 60.5h3.4v2.8h-3.4zM292.5 60.5h3.4v2.8h-3.4zM293.5 59.5h3.4v2.8h-3.4zM294.5 59.5h3.4v2.8h-3.4zM295.5 60.5h3.4v2.8h-3.4zM296.5 60.5h3.4v2.8h-3.4zM297.5 62.5h3.4v2.8h-3.4zM298.5 62.5h3.4v2.8h-3.4zM299.5 61.5h3.4v2.8h-3.4zM300.5 61.5h3.4v2.8h-3.4zM301.5 61.5h3.4v2.8h-3.4zM302.5 63.5h3.4v2.8h-3.4zM303.5 61.5h3.4v2.8h-3.4zM305.5 59.5h3.4v2.8h-3.4zM306.5 59.5h3.4v2.8h-3.4zM307.5 56.5h3.4v2.8h-3.4zM308.5 54.5h3.4v2.8h-3.4zM309.5 53.5h3.4v2.8h-3.4zM310.5 53.5h3.4v2.8h-3.4zM311.5 53.5h3.4v2.8h-3.4zM312.5 53.5h3.4v2.8h-3.4zM313.5 55.5h3.4v2.8h-3.4zM314.5 54.5h3.4v2.8h-3.4zM315.5 54.5h3.4v2.8h-3.4zM316.5 55.5h3.4v2.8h-3.4zM317.5 54.5h3.4v2.8h-3.4zM318.5 55.5h3.4v2.8h-3.4zM319.5 54.5h3.4v2.8h-3.4zM320.5 53.5h3.4v2.8h-3.4zM321.5 52.5h3.4v2.8h-3.4zM323.5 53.5h3.4v2.8h-3.4zM324.5 51.5h3.4v2.8h-3.4zM325.5 50.5h3.4v2.8h-3.4zM326.5 50.5h3.4v2.8h-3.4zM327.5 50.5h3.4v2.8h-3.4zM328.5 49.5h3.4v2.8h-3.4zM329.5 50.5h3.4v2.8h-3.4zM330.5 51.5h3.4v2.8h-3.4zM331.5 53.5h3.4v2.8h-3.4zM332.5 52.5h3.4v2.8h-3.4zM333.5 53.5h3.4v2.8h-3.4zM334.5 53.5h3.4v2.8h-3.4zM335.5 52.5h3.4v2.8h-3.4zM336.5 51.5h3.4v2.8h-3.4zM337.5 52.5h3.4v2.8h-3.4zM338.5 51.5h3.4v2.8h-3.4zM339.5 50.5h3.4v2.8h-3.4zM341.5 49.5h3.4v2.8h-3.4zM342.5 49.5h3.4v2.8h-3.4zM343.5 48.5h3.4v2.8h-3.4zM344.5 49.5h3.4v2.8h-3.4zM345.5 49.5h3.4v2.8h-3.4zM346.5 50.5h3.4v2.8h-3.4zM347.5 49.5h3.4v2.8h-3.4zM348.5 50.5h3.4v2.8h-3.4zM349.5 52.5h3.4v2.8h-3.4zM350.5 52.5h3.4v2.8h-3.4zM351.5 51.5h3.4v2.8h-3.4zM352.5 53.5h3.4v2.8h-3.4zM353.5 52.5h3.4v2.8h-3.4zM354.5 54.5h3.4v2.8h-3.4zM355.5 54.5h3.4v2.8h-3.4zM356.5 53.5h3.4v2.8h-3.4zM357.5 53.5h3.4v2.8h-3.4zM359.5 53.5h3.4v2.8h-3.4zM360.5 55.5h3.4v2.8h-3.4zM361.5 52.5h3.4v2.8h-3.4zM362.5 54.5h3.4v2.8h-3.4zM363.5 53.5h3.4v2.8h-3.4zM364.5 52.5h3.4v2.8h-3.4zM365.5 51.5h3.4v2.8h-3.4zM366.5 52.5h3.4v2.8h-3.4zM367.5 51.5h3.4v2.8h-3.4zM368.5 50.5h3.4v2.8h-3.4zM369.5 49.5h3.4v2.8h-3.4zM370.5 49.5h3.4v2.8h-3.4zM371.5 50.5h3.4v2.8h-3.4zM372.5 49.5h3.4v2.8h-3.4zM373.5 51.5h3.4v2.8h-3.4zM374.5 51.5h3.4v2.8h-3.4zM376.5 50.5h3.4v2.8h-3.4zM377.5 50.5h3.4v2.8h-3.4zM378.5 52.5h3.4v2.8h-3.4zM379.5 51.5h3.4v2.8h-3.4zM380.5 52.5h3.4v2.8h-3.4zM381.5 52.5h3.4v2.8h-3.4zM382.5 53.5h3.4v2.8h-3.4zM383.5 53.5h3.4v2.8h-3.4zM384.5 51.5h3.4v2.8h-3.4zM385.5 52.5h3.4v2.8h-3.4zM386.5 52.5h3.4v2.8h-3.4zM387.5 54.5h3.4v2.8h-3.4zM388.5 53.5h3.4v2.8h-3.4zM389.5 52.5h3.4v2.8h-3.4zM390.5 51.5h3.4v2.8h-3.4zM391.5 52.5h3.4v2.8h-3.4zM392.5 52.5h3.4v2.8h-3.4zM394.5 52.5h3.4v2.8h-3.4zM395.5 51.5h3.4v2.8h-3.4zM396.5 52.5h3.4v2.8h-3.4zM397.5 51.5h3.4v2.8h-3.4zM398.5 51.5h3.4v2.8h-3.4zM399.5 52.5h3.4v2.8h-3.4zM400.5 50.5h3.4v2.8h-3.4zM401.5 51.5h3.4v2.8h-3.4zM402.5 50.5h3.4v2.8h-3.4zM403.5 50.5h3.4v2.8h-3.4zM404.5 52.5h3.4v2.8h-3.4zM405.5 50.5h3.4v2.8h-3.4zM406.5 52.5h3.4v2.8h-3.4zM407.5 52.5h3.4v2.8h-3.4zM408.5 53.5h3.4v2.8h-3.4zM409.5 53.5h3.4v2.8h-3.4zM410.5 53.5h3.4v2.8h-3.4zM412.5 53.5h3.4v2.8h-3.4zM413.5 55.5h3.4v2.8h-3.4zM414.5 55.5h3.4v2.8h-3.4zM415.5 56.5h3.4v2.8h-3.4zM416.5 56.5h3.4v2.8h-3.4zM417.5 55.5h3.4v2.8h-3.4zM418.5 56.5h3.4v2.8h-3.4zM419.5 56.5h3.4v2.8h-3.4zM420.5 57.5h3.4v2.8h-3.4zM421.5 59.5h3.4v2.8h-3.4zM422.5 61.5h3.4v2.8h-3.4zM423.5 62.5h3.4v2.8h-3.4zM424.5 62.5h3.4v2.8h-3.4zM425.5 62.5h3.4v2.8h-3.4zM426.5 63.5h3.4v2.8h-3.4zM427.5 64.5h3.4v2.8h-3.4zM428.5 64.5h3.4v2.8h-3.4zM430.5 64.5h3.4v2.8h-3.4zM431.5 64.5h3.4v2.8h-3.4zM432.5 64.5h3.4v2.8h-3.4zM433.5 64.5h3.4v2.8h-3.4zM434.5 65.5h3.4v2.8h-3.4zM435.5 65.5h3.4v2.8h-3.4zM436.5 66.5h3.4v2.8h-3.4zM437.5 65.5h3.4v2.8h-3.4zM438.5 65.5h3.4v2.8h-3.4zM439.5 66.5h3.4v2.8h-3.4zM440.5 66.5h3.4v2.8h-3.4zM441.5 65.5h3.4v2.8h-3.4zM442.5 66.5h3.4v2.8h-3.4zM443.5 65.5h3.4v2.8h-3.4zM444.5 65.5h3.4v2.8h-3.4zM445.5 67.5h3.4v2.8h-3.4zM447.5 66.5h3.4v2.8h-3.4zM448.5 66.5h3.4v2.8h-3.4zM449.5 67.5h3.4v2.8h-3.4zM450.5 67.5h3.4v2.8h-3.4zM451.5 67.5h3.4v2.8h-3.4zM452.5 67.5h3.4v2.8h-3.4zM453.5 67.5h3.4v2.8h-3.4zM454.5 68.5h3.4v2.8h-3.4zM455.5 68.5h3.4v2.8h-3.4zM456.5 69.5h3.4v2.8h-3.4zM457.5 68.5h3.4v2.8h-3.4zM458.5 69.5h3.4v2.8h-3.4zM459.5 69.5h3.4v2.8h-3.4zM460.5 68.5h3.4v2.8h-3.4zM461.5 68.5h3.4v2.8h-3.4zM462.5 69.5h3.4v2.8h-3.4zM463.5 68.5h3.4v2.8h-3.4zM465.5 69.5h3.4v2.8h-3.4zM466.5 68.5h3.4v2.8h-3.4zM467.5 68.5h3.4v2.8h-3.4zM468.5 70.5h3.4v2.8h-3.4zM469.5 69.5h3.4v2.8h-3.4zM470.5 70.5h3.4v2.8h-3.4zM471.5 70.5h3.4v2.8h-3.4zM472.5 70.5h3.4v2.8h-3.4zM473.5 70.5h3.4v2.8h-3.4zM474.5 72.5h3.4v2.8h-3.4zM475.5 72.5h3.4v2.8h-3.4zM476.5 72.5h3.4v2.8h-3.4zM477.5 71.5h3.4v2.8h-3.4zM478.5 72.5h3.4v2.8h-3.4zM479.5 73.5h3.4v2.8h-3.4zM480.5 73.5h3.4v2.8h-3.4zM481.5 72.5h3.4v2.8h-3.4zM483.5 72.5h3.4v2.8h-3.4zM484.5 72.5h3.4v2.8h-3.4zM485.5 72.5h3.4v2.8h-3.4zM486.5 72.5h3.4v2.8h-3.4zM487.5 71.5h3.4v2.8h-3.4zM488.5 71.5h3.4v2.8h-3.4zM489.5 70.5h3.4v2.8h-3.4zM490.5 70.5h3.4v2.8h-3.4zM491.5 71.5h3.4v2.8h-3.4zM492.5 70.5h3.4v2.8h-3.4zM493.5 69.5h3.4v2.8h-3.4zM494.5 69.5h3.4v2.8h-3.4zM495.5 69.5h3.4v2.8h-3.4zM496.5 68.5h3.4v2.8h-3.4zM497.5 68.5h3.4v2.8h-3.4zM498.5 68.5h3.4v2.8h-3.4zM499.5 68.5h3.4v2.8h-3.4zM501.5 69.5h3.4v2.8h-3.4zM502.5 69.5h3.4v2.8h-3.4zM503.5 68.5h3.4v2.8h-3.4zM504.5 68.5h3.4v2.8h-3.4zM505.5 69.5h3.4v2.8h-3.4zM506.5 69.5h3.4v2.8h-3.4zM507.5 69.5h3.4v2.8h-3.4zM508.5 69.5h3.4v2.8h-3.4zM509.5 69.5h3.4v2.8h-3.4zM510.5 70.5h3.4v2.8h-3.4zM511.5 70.5h3.4v2.8h-3.4zM512.5 70.5h3.4v2.8h-3.4zM513.5 70.5h3.4v2.8h-3.4zM514.5 70.5h3.4v2.8h-3.4zM515.5 71.5h3.4v2.8h-3.4zM516.5 71.5h3.4v2.8h-3.4zM517.5 72.5h3.4v2.8h-3.4zM519.5 72.5h3.4v2.8h-3.4zM520.5 72.5h3.4v2.8h-3.4zM521.5 72.5h3.4v2.8h-3.4zM522.5 72.5h3.4v2.8h-3.4zM523.5 73.5h3.4v2.8h-3.4zM524.5 72.5h3.4v2.8h-3.4zM525.5 74.5h3.4v2.8h-3.4zM526.5 73.5h3.4v2.8h-3.4zM527.5 74.5h3.4v2.8h-3.4zM528.5 74.5h3.4v2.8h-3.4zM529.5 74.5h3.4v2.8h-3.4zM530.5 74.5h3.4v2.8h-3.4zM531.5 74.5h3.4v2.8h-3.4zM532.5 75.5h3.4v2.8h-3.4zM533.5 75.5h3.4v2.8h-3.4zM534.5 75.5h3.4v2.8h-3.4zM536.5 75.5h3.4v2.8h-3.4zM537.5 75.5h3.4v2.8h-3.4zM538.5 76.5h3.4v2.8h-3.4zM539.5 75.5h3.4v2.8h-3.4zM540.5 75.5h3.4v2.8h-3.4zM541.5 76.5h3.4v2.8h-3.4zM542.5 76.5h3.4v2.8h-3.4zM543.5 76.5h3.4v2.8h-3.4zM544.5 76.5h3.4v2.8h-3.4zM545.5 76.5h3.4v2.8h-3.4zM546.5 76.5h3.4v2.8h-3.4zM547.5 76.5h3.4v2.8h-3.4zM548.5 76.5h3.4v2.8h-3.4zM549.5 76.5h3.4v2.8h-3.4zM550.5 77.5h3.4v2.8h-3.4zM551.5 77.5h3.4v2.8h-3.4zM552.5 77.5h3.4v2.8h-3.4zM554.5 77.5h3.4v2.8h-3.4zM555.5 78.5h3.4v2.8h-3.4zM556.5 78.5h3.4v2.8h-3.4zM557.5 78.5h3.4v2.8h-3.4zM558.5 78.5h3.4v2.8h-3.4zM559.5 79.5h3.4v2.8h-3.4zM560.5 79.5h3.4v2.8h-3.4zM561.5 79.5h3.4v2.8h-3.4zM562.5 79.5h3.4v2.8h-3.4zM563.5 79.5h3.4v2.8h-3.4zM564.5 79.5h3.4v2.8h-3.4zM565.5 80.5h3.4v2.8h-3.4zM566.5 80.5h3.4v2.8h-3.4zM567.5 80.5h3.4v2.8h-3.4zM568.5 80.5h3.4v2.8h-3.4zM569.5 81.5h3.4v2.8h-3.4zM570.5 81.5h3.4v2.8h-3.4zM572.5 81.5h3.4v2.8h-3.4zM573.5 81.5h3.4v2.8h-3.4zM574.5 82.5h3.4v2.8h-3.4zM575.5 82.5h3.4v2.8h-3.4zM576.5 82.5h3.4v2.8h-3.4zM577.5 83.5h3.4v2.8h-3.4zM578.5 83.5h3.4v2.8h-3.4zM579.5 82.5h3.4v2.8h-3.4zM580.5 83.5h3.4v2.8h-3.4zM581.5 83.5h3.4v2.8h-3.4zM582.5 84.5h3.4v2.8h-3.4zM583.5 83.5h3.4v2.8h-3.4zM584.5 84.5h3.4v2.8h-3.4zM585.5 84.5h3.4v2.8h-3.4zM586.5 84.5h3.4v2.8h-3.4zM587.5 84.5h3.4v2.8h-3.4zM588.5 84.5h3.4v2.8h-3.4zM590.5 84.5h3.4v2.8h-3.4zM591.5 84.5h3.4v2.8h-3.4zM592.5 85.5h3.4v2.8h-3.4zM593.5 85.5h3.4v2.8h-3.4zM594.5 85.5h3.4v2.8h-3.4zM595.5 84.5h3.4v2.8h-3.4zM596.5 85.5h3.4v2.8h-3.4zM597.5 84.5h3.4v2.8h-3.4zM598.5 84.5h3.4v2.8h-3.4zM599.5 85.5h3.4v2.8h-3.4zM600.5 85.5h3.4v2.8h-3.4zM601.5 85.5h3.4v2.8h-3.4zM602.5 85.5h3.4v2.8h-3.4zM603.5 85.5h3.4v2.8h-3.4zM604.5 85.5h3.4v2.8h-3.4zM605.5 85.5h3.4v2.8h-3.4zM607.5 85.5h3.4v2.8h-3.4zM608.5 85.5h3.4v2.8h-3.4zM609.5 85.5h3.4v2.8h-3.4zM610.5 85.5h3.4v2.8h-3.4zM611.5 85.5h3.4v2.8h-3.4zM612.5 85.5h3.4v2.8h-3.4zM613.5 85.5h3.4v2.8h-3.4zM614.5 85.5h3.4v2.8h-3.4zM615.5 84.5h3.4v2.8h-3.4zM616.5 83.5h3.4v2.8h-3.4z" fill="none" stroke="#1a1aff" stroke-width="0.85"/>
<polyline points="90.3,101.5 92.7,95.6 96.2,80.4 102,71.1 105.5,79.3 108.4,77 117.2,76.3 125.4,75 134.7,77 145,75.8 165,75.3 195,76.5 209,73.5 220,71.8 240,71 258,71.5 275,67 320,62.3 407.6,57.5 420,58.2 445,60.5 470,63.3 520,66.8 570,71.2 619,75" fill="none" stroke="#00ffff" stroke-width="0.8" stroke-dasharray="3 1.5 1 1.5" opacity="0.8"/>
<path d="M88.9 100.9h3.4M90.6 99.2v3.4M89.9 98.3h3.4M91.6 96.6v3.4M91 95.7h3.4M92.7 94v3.4M92 91.1h3.4M93.7 89.4v3.4M93.1 86.5h3.4M94.8 84.8v3.4M94.2 81.9h3.4M95.9 80.2v3.4M95.2 79.3h3.4M96.9 77.6v3.4M96.3 77.6h3.4M98 75.9v3.4M97.3 75.9h3.4M99 74.2v3.4M98.4 74.2h3.4M100.1 72.5v3.4M99.5 72.5h3.4M101.2 70.8v3.4M100.5 71.6h3.4M102.2 69.9v3.4M101.6 74.1h3.4M103.3 72.4v3.4M102.6 76.6h3.4M104.3 74.9v3.4M103.7 79.1h3.4M105.4 77.4v3.4M104.8 78.5h3.4M106.5 76.8v3.4M105.8 77.7h3.4M107.5 76v3.4M106.9 77h3.4M108.6 75.3v3.4M107.9 76.9h3.4M109.6 75.2v3.4M109 76.8h3.4M110.7 75.1v3.4M110.1 76.7h3.4M111.8 75v3.4M111.1 76.6h3.4M112.8 74.9v3.4M112.2 76.6h3.4M113.9 74.9v3.4M113.2 76.5h3.4M114.9 74.8v3.4M114.3 76.4h3.4M116 74.7v3.4M115.3 76.3h3.4M117 74.6v3.4M116.4 76.2h3.4M118.1 74.5v3.4M117.5 76h3.4M119.2 74.3v3.4M118.5 75.8h3.4M120.2 74.1v3.4M119.6 75.7h3.4M121.3 74v3.4M120.6 75.5h3.4M122.3 73.8v3.4M121.7 75.3h3.4M123.4 73.6v3.4M122.8 75.1h3.4M124.5 73.4v3.4M123.8 75h3.4M125.5 73.3v3.4M124.9 75.3h3.4M126.6 73.6v3.4M125.9 75.5h3.4M127.6 73.8v3.4M127 75.7h3.4M128.7 74v3.4M128.1 75.9h3.4M129.8 74.2v3.4M129.1 76.2h3.4M130.8 74.5v3.4M130.2 76.4h3.4M131.9 74.7v3.4M131.2 76.6h3.4M132.9 74.9v3.4M132.3 76.9h3.4M134 75.2v3.4M133.4 77h3.4M135.1 75.3v3.4M134.4 76.8h3.4M136.1 75.1v3.4M135.5 76.7h3.4M137.2 75v3.4M136.5 76.6h3.4M138.2 74.9v3.4M137.6 76.5h3.4M139.3 74.8v3.4M138.7 76.3h3.4M140.4 74.6v3.4M139.7 76.2h3.4M141.4 74.5v3.4M140.8 76.1h3.4M142.5 74.4v3.4M141.8 76h3.4M143.5 74.3v3.4M142.9 75.8h3.4M144.6 74.1v3.4M144 75.8h3.4M145.7 74.1v3.4M145 75.8h3.4M146.7 74.1v3.4M146.1 75.7h3.4M147.8 74v3.4M147.1 75.7h3.4M148.8 74v3.4M148.2 75.7h3.4M149.9 74v3.4M149.3 75.7h3.4M151 74v3.4M150.3 75.6h3.4M152 73.9v3.4M151.4 75.6h3.4M153.1 73.9v3.4M152.4 75.6h3.4M154.1 73.9v3.4M153.5 75.5h3.4M155.2 73.8v3.4M154.6 75.5h3.4M156.3 73.8v3.4M155.6 75.5h3.4M157.3 73.8v3.4M156.7 75.5h3.4M158.4 73.8v3.4M157.7 75.4h3.4M159.4 73.7v3.4M158.8 75.4h3.4M160.5 73.7v3.4M159.9 75.4h3.4M161.6 73.7v3.4M160.9 75.4h3.4M162.6 73.7v3.4M162 75.3h3.4M163.7 73.6v3.4M163 75.3h3.4M164.7 73.6v3.4M164.1 75.3h3.4M165.8 73.6v3.4M165.2 75.4h3.4M166.9 73.7v3.4M166.2 75.4h3.4M167.9 73.7v3.4M167.3 75.5h3.4M169 73.8v3.4M168.3 75.5h3.4M170 73.8v3.4M169.4 75.5h3.4M171.1 73.8v3.4M170.4 75.6h3.4M172.1 73.9v3.4M171.5 75.6h3.4M173.2 73.9v3.4M172.6 75.7h3.4M174.3 74v3.4M173.6 75.7h3.4M175.3 74v3.4M174.7 75.8h3.4M176.4 74.1v3.4M175.7 75.8h3.4M177.4 74.1v3.4M176.8 75.8h3.4M178.5 74.1v3.4M177.9 75.9h3.4M179.6 74.2v3.4M178.9 75.9h3.4M180.6 74.2v3.4M180 76h3.4M181.7 74.3v3.4M181 76h3.4M182.7 74.3v3.4M182.1 76.1h3.4M183.8 74.4v3.4M183.2 76.1h3.4M184.9 74.4v3.4M184.2 76.1h3.4M185.9 74.4v3.4M185.3 76.2h3.4M187 74.5v3.4M186.3 76.2h3.4M188 74.5v3.4M187.4 76.3h3.4M189.1 74.6v3.4M188.5 76.3h3.4M190.2 74.6v3.4M189.5 76.3h3.4M191.2 74.6v3.4M190.6 76.4h3.4M192.3 74.7v3.4M191.6 76.4h3.4M193.3 74.7v3.4M192.7 76.5h3.4M194.4 74.8v3.4M193.8 76.4h3.4M195.5 74.7v3.4M194.8 76.2h3.4M196.5 74.5v3.4M195.9 75.9h3.4M197.6 74.2v3.4M196.9 75.7h3.4M198.6 74v3.4M198 75.5h3.4M199.7 73.8v3.4M199.1 75.3h3.4M200.8 73.6v3.4M200.1 75h3.4M201.8 73.3v3.4M201.2 74.8h3.4M202.9 73.1v3.4M202.2 74.6h3.4M203.9 72.9v3.4M203.3 74.4h3.4M205 72.7v3.4M204.4 74.1h3.4M206.1 72.4v3.4M205.4 73.9h3.4M207.1 72.2v3.4M206.5 73.7h3.4M208.2 72v3.4M207.5 73.5h3.4M209.2 71.8v3.4M208.6 73.3h3.4M210.3 71.6v3.4M209.7 73.1h3.4M211.4 71.4v3.4M210.7 73h3.4M212.4 71.3v3.4M211.8 72.8h3.4M213.5 71.1v3.4M212.8 72.6h3.4M214.5 70.9v3.4M213.9 72.5h3.4M215.6 70.8v3.4M215 72.3h3.4M216.7 70.6v3.4M216 72.2h3.4M217.7 70.5v3.4M217.1 72h3.4M218.8 70.3v3.4M218.1 71.8h3.4M219.8 70.1v3.4M219.2 71.8h3.4M220.9 70.1v3.4M220.2 71.7h3.4M221.9 70v3.4M221.3 71.7h3.4M223 70v3.4M222.4 71.6h3.4M224.1 69.9v3.4M223.4 71.6h3.4M225.1 69.9v3.4M224.5 71.6h3.4M226.2 69.9v3.4M225.5 71.5h3.4M227.2 69.8v3.4M226.6 71.5h3.4M228.3 69.8v3.4M227.7 71.4h3.4M229.4 69.7v3.4M228.7 71.4h3.4M230.4 69.7v3.4M229.8 71.3h3.4M231.5 69.6v3.4M230.8 71.3h3.4M232.5 69.6v3.4M231.9 71.3h3.4M233.6 69.6v3.4M233 71.2h3.4M234.7 69.5v3.4M234 71.2h3.4M235.7 69.5v3.4M235.1 71.1h3.4M236.8 69.4v3.4M236.1 71.1h3.4M237.8 69.4v3.4M237.2 71h3.4M238.9 69.3v3.4M238.3 71h3.4M240 69.3v3.4M239.3 71h3.4M241 69.3v3.4M240.4 71.1h3.4M242.1 69.4v3.4M241.4 71.1h3.4M243.1 69.4v3.4M242.5 71.1h3.4M244.2 69.4v3.4M243.6 71.1h3.4M245.3 69.4v3.4M244.6 71.2h3.4M246.3 69.5v3.4M245.7 71.2h3.4M247.4 69.5v3.4M246.7 71.2h3.4M248.4 69.5v3.4M247.8 71.3h3.4M249.5 69.6v3.4M248.9 71.3h3.4M250.6 69.6v3.4M249.9 71.3h3.4M251.6 69.6v3.4M251 71.4h3.4M252.7 69.7v3.4M252 71.4h3.4M253.7 69.7v3.4M253.1 71.4h3.4M254.8 69.7v3.4M254.2 71.4h3.4M255.9 69.7v3.4M255.2 71.5h3.4M256.9 69.8v3.4M256.3 71.5h3.4M258 69.8v3.4M257.3 71.2h3.4M259 69.5v3.4M258.4 70.9h3.4M260.1 69.2v3.4M259.5 70.7h3.4M261.2 69v3.4M260.5 70.4h3.4M262.2 68.7v3.4M261.6 70.1h3.4M263.3 68.4v3.4M262.6 69.8h3.4M264.3 68.1v3.4M263.7 69.5h3.4M265.4 67.8v3.4M264.8 69.3h3.4M266.5 67.6v3.4M265.8 69h3.4M267.5 67.3v3.4M266.9 68.7h3.4M268.6 67v3.4M267.9 68.4h3.4M269.6 66.7v3.4M269 68.1h3.4M270.7 66.4v3.4M270.1 67.9h3.4M271.8 66.2v3.4M271.1 67.6h3.4M272.8 65.9v3.4M272.2 67.3h3.4M273.9 65.6v3.4M273.2 67h3.4M274.9 65.3v3.4M274.3 66.9h3.4M276 65.2v3.4M275.3 66.8h3.4M277 65.1v3.4M276.4 66.7h3.4M278.1 65v3.4M277.5 66.6h3.4M279.2 64.9v3.4M278.5 66.5h3.4M280.2 64.8v3.4M279.6 66.3h3.4M281.3 64.6v3.4M280.6 66.2h3.4M282.3 64.5v3.4M281.7 66.1h3.4M283.4 64.4v3.4M282.8 66h3.4M284.5 64.3v3.4M283.8 65.9h3.4M285.5 64.2v3.4M284.9 65.8h3.4M286.6 64.1v3.4M285.9 65.7h3.4M287.6 64v3.4M287 65.6h3.4M288.7 63.9v3.4M288.1 65.5h3.4M289.8 63.8v3.4M289.1 65.3h3.4M290.8 63.6v3.4M290.2 65.2h3.4M291.9 63.5v3.4M291.2 65.1h3.4M292.9 63.4v3.4M292.3 65h3.4M294 63.3v3.4M293.4 64.9h3.4M295.1 63.2v3.4M294.4 64.8h3.4M296.1 63.1v3.4M295.5 64.7h3.4M297.2 63v3.4M296.5 64.6h3.4M298.2 62.9v3.4M297.6 64.5h3.4M299.3 62.8v3.4M298.7 64.4h3.4M300.4 62.7v3.4M299.7 64.2h3.4M301.4 62.5v3.4M300.8 64.1h3.4M302.5 62.4v3.4M301.8 64h3.4M303.5 62.3v3.4M302.9 63.9h3.4M304.6 62.2v3.4M304 63.8h3.4M305.7 62.1v3.4M305 63.7h3.4M306.7 62v3.4M306.1 63.6h3.4M307.8 61.9v3.4M307.1 63.5h3.4M308.8 61.8v3.4M308.2 63.4h3.4M309.9 61.7v3.4M309.3 63.2h3.4M311 61.5v3.4M310.3 63.1h3.4M312 61.4v3.4M311.4 63h3.4M313.1 61.3v3.4M312.4 62.9h3.4M314.1 61.2v3.4M313.5 62.8h3.4M315.2 61.1v3.4M314.6 62.7h3.4M316.3 61v3.4M315.6 62.6h3.4M317.3 60.9v3.4M316.7 62.5h3.4M318.4 60.8v3.4M317.7 62.4h3.4M319.4 60.7v3.4M318.8 62.3h3.4M320.5 60.6v3.4M319.9 62.2h3.4M321.6 60.5v3.4M320.9 62.2h3.4M322.6 60.5v3.4M322 62.1h3.4M323.7 60.4v3.4M323 62h3.4M324.7 60.3v3.4M324.1 62h3.4M325.8 60.3v3.4M325.2 61.9h3.4M326.9 60.2v3.4M326.2 61.9h3.4M327.9 60.2v3.4M327.3 61.8h3.4M329 60.1v3.4M328.3 61.8h3.4M330 60.1v3.4M329.4 61.7h3.4M331.1 60v3.4M330.4 61.6h3.4M332.1 59.9v3.4M331.5 61.6h3.4M333.2 59.9v3.4M332.6 61.5h3.4M334.3 59.8v3.4M333.6 61.5h3.4M335.3 59.8v3.4M334.7 61.4h3.4M336.4 59.7v3.4M335.7 61.3h3.4M337.4 59.6v3.4M336.8 61.3h3.4M338.5 59.6v3.4M337.9 61.2h3.4M339.6 59.5v3.4M338.9 61.2h3.4M340.6 59.5v3.4M340 61.1h3.4M341.7 59.4v3.4M341 61.1h3.4M342.7 59.4v3.4M342.1 61h3.4M343.8 59.3v3.4M343.2 60.9h3.4M344.9 59.2v3.4M344.2 60.9h3.4M345.9 59.2v3.4M345.3 60.8h3.4M347 59.1v3.4M346.3 60.8h3.4M348 59.1v3.4M347.4 60.7h3.4M349.1 59v3.4M348.5 60.6h3.4M350.2 58.9v3.4M349.5 60.6h3.4M351.2 58.9v3.4M350.6 60.5h3.4M352.3 58.8v3.4M351.6 60.5h3.4M353.3 58.8v3.4M352.7 60.4h3.4M354.4 58.7v3.4M353.8 60.4h3.4M355.5 58.7v3.4M354.8 60.3h3.4M356.5 58.6v3.4M355.9 60.2h3.4M357.6 58.5v3.4M356.9 60.2h3.4M358.6 58.5v3.4M358 60.1h3.4M359.7 58.4v3.4M359.1 60.1h3.4M360.8 58.4v3.4M360.1 60h3.4M361.8 58.3v3.4M361.2 60h3.4M362.9 58.3v3.4M362.2 59.9h3.4M363.9 58.2v3.4M363.3 59.8h3.4M365 58.1v3.4M364.4 59.8h3.4M366.1 58.1v3.4M365.4 59.7h3.4M367.1 58v3.4M366.5 59.7h3.4M368.2 58v3.4M367.5 59.6h3.4M369.2 57.9v3.4M368.6 59.5h3.4M370.3 57.8v3.4M369.7 59.5h3.4M371.4 57.8v3.4M370.7 59.4h3.4M372.4 57.7v3.4M371.8 59.4h3.4M373.5 57.7v3.4M372.8 59.3h3.4M374.5 57.6v3.4M373.9 59.3h3.4M375.6 57.6v3.4M375 59.2h3.4M376.7 57.5v3.4M376 59.1h3.4M377.7 57.4v3.4M377.1 59.1h3.4M378.8 57.4v3.4M378.1 59h3.4M379.8 57.3v3.4M379.2 59h3.4M380.9 57.3v3.4M380.2 58.9h3.4M381.9 57.2v3.4M381.3 58.8h3.4M383 57.1v3.4M382.4 58.8h3.4M384.1 57.1v3.4M383.4 58.7h3.4M385.1 57v3.4M384.5 58.7h3.4M386.2 57v3.4M385.5 58.6h3.4M387.2 56.9v3.4M386.6 58.6h3.4M388.3 56.9v3.4M387.7 58.5h3.4M389.4 56.8v3.4M388.7 58.4h3.4M390.4 56.7v3.4M389.8 58.4h3.4M391.5 56.7v3.4M390.8 58.3h3.4M392.5 56.6v3.4M391.9 58.3h3.4M393.6 56.6v3.4M393 58.2h3.4M394.7 56.5v3.4M394 58.2h3.4M395.7 56.5v3.4M395.1 58.1h3.4M396.8 56.4v3.4M396.1 58h3.4M397.8 56.3v3.4M397.2 58h3.4M398.9 56.3v3.4M398.3 57.9h3.4M400 56.2v3.4M399.3 57.9h3.4M401 56.2v3.4M400.4 57.8h3.4M402.1 56.1v3.4M401.4 57.7h3.4M403.1 56v3.4M402.5 57.7h3.4M404.2 56v3.4M403.6 57.6h3.4M405.3 55.9v3.4M404.6 57.6h3.4M406.3 55.9v3.4M405.7 57.5h3.4M407.4 55.8v3.4M406.7 57.5h3.4M408.4 55.8v3.4M407.8 57.6h3.4M409.5 55.9v3.4M408.9 57.7h3.4M410.6 56v3.4M409.9 57.7h3.4M411.6 56v3.4M411 57.8h3.4M412.7 56.1v3.4M412 57.8h3.4M413.7 56.1v3.4M413.1 57.9h3.4M414.8 56.2v3.4M414.2 58h3.4M415.9 56.3v3.4M415.2 58h3.4M416.9 56.3v3.4M416.3 58.1h3.4M418 56.4v3.4M417.3 58.1h3.4M419 56.4v3.4M418.4 58.2h3.4M420.1 56.5v3.4M419.5 58.3h3.4M421.2 56.6v3.4M420.5 58.4h3.4M422.2 56.7v3.4M421.6 58.5h3.4M423.3 56.8v3.4M422.6 58.6h3.4M424.3 56.9v3.4M423.7 58.7h3.4M425.4 57v3.4M424.8 58.8h3.4M426.5 57.1v3.4M425.8 58.9h3.4M427.5 57.2v3.4M426.9 59h3.4M428.6 57.3v3.4M427.9 59.1h3.4M429.6 57.4v3.4M429 59.2h3.4M430.7 57.5v3.4M430.1 59.3h3.4M431.8 57.6v3.4M431.1 59.4h3.4M432.8 57.7v3.4M432.2 59.5h3.4M433.9 57.8v3.4M433.2 59.6h3.4M434.9 57.9v3.4M434.3 59.7h3.4M436 58v3.4M435.3 59.8h3.4M437 58.1v3.4M436.4 59.9h3.4M438.1 58.2v3.4M437.5 60h3.4M439.2 58.3v3.4M438.5 60.1h3.4M440.2 58.4v3.4M439.6 60.2h3.4M441.3 58.5v3.4M440.6 60.3h3.4M442.3 58.6v3.4M441.7 60.4h3.4M443.4 58.7v3.4M442.8 60.5h3.4M444.5 58.8v3.4M443.8 60.6h3.4M445.5 58.9v3.4M444.9 60.7h3.4M446.6 59v3.4M445.9 60.8h3.4M447.6 59.1v3.4M447 60.9h3.4M448.7 59.2v3.4M448.1 61h3.4M449.8 59.3v3.4M449.1 61.2h3.4M450.8 59.5v3.4M450.2 61.3h3.4M451.9 59.6v3.4M451.2 61.4h3.4M452.9 59.7v3.4M452.3 61.5h3.4M454 59.8v3.4M453.4 61.6h3.4M455.1 59.9v3.4M454.4 61.7h3.4M456.1 60v3.4M455.5 61.9h3.4M457.2 60.2v3.4M456.5 62h3.4M458.2 60.3v3.4M457.6 62.1h3.4M459.3 60.4v3.4M458.7 62.2h3.4M460.4 60.5v3.4M459.7 62.3h3.4M461.4 60.6v3.4M460.8 62.5h3.4M462.5 60.8v3.4M461.8 62.6h3.4M463.5 60.9v3.4M462.9 62.7h3.4M464.6 61v3.4M464 62.8h3.4M465.7 61.1v3.4M465 62.9h3.4M466.7 61.2v3.4M466.1 63.1h3.4M467.8 61.4v3.4M467.1 63.2h3.4M468.8 61.5v3.4M468.2 63.3h3.4M469.9 61.6v3.4M469.3 63.4h3.4M471 61.7v3.4M470.3 63.4h3.4M472 61.7v3.4M471.4 63.5h3.4M473.1 61.8v3.4M472.4 63.6h3.4M474.1 61.9v3.4M473.5 63.7h3.4M475.2 62v3.4M474.6 63.7h3.4M476.3 62v3.4M475.6 63.8h3.4M477.3 62.1v3.4M476.7 63.9h3.4M478.4 62.2v3.4M477.7 64h3.4M479.4 62.3v3.4M478.8 64h3.4M480.5 62.3v3.4M479.9 64.1h3.4M481.6 62.4v3.4M480.9 64.2h3.4M482.6 62.5v3.4M482 64.3h3.4M483.7 62.6v3.4M483 64.3h3.4M484.7 62.6v3.4M484.1 64.4h3.4M485.8 62.7v3.4M485.1 64.5h3.4M486.8 62.8v3.4M486.2 64.6h3.4M487.9 62.9v3.4M487.3 64.6h3.4M489 62.9v3.4M488.3 64.7h3.4M490 63v3.4M489.4 64.8h3.4M491.1 63.1v3.4M490.4 64.9h3.4M492.1 63.2v3.4M491.5 64.9h3.4M493.2 63.2v3.4M492.6 65h3.4M494.3 63.3v3.4M493.6 65.1h3.4M495.3 63.4v3.4M494.7 65.1h3.4M496.4 63.4v3.4M495.7 65.2h3.4M497.4 63.5v3.4M496.8 65.3h3.4M498.5 63.6v3.4M497.9 65.4h3.4M499.6 63.7v3.4M498.9 65.4h3.4M500.6 63.7v3.4M500 65.5h3.4M501.7 63.8v3.4M501 65.6h3.4M502.7 63.9v3.4M502.1 65.7h3.4M503.8 64v3.4M503.2 65.7h3.4M504.9 64v3.4M504.2 65.8h3.4M505.9 64.1v3.4M505.3 65.9h3.4M507 64.2v3.4M506.3 66h3.4M508 64.3v3.4M507.4 66h3.4M509.1 64.3v3.4M508.5 66.1h3.4M510.2 64.4v3.4M509.5 66.2h3.4M511.2 64.5v3.4M510.6 66.3h3.4M512.3 64.6v3.4M511.6 66.3h3.4M513.3 64.6v3.4M512.7 66.4h3.4M514.4 64.7v3.4M513.8 66.5h3.4M515.5 64.8v3.4M514.8 66.6h3.4M516.5 64.9v3.4M515.9 66.6h3.4M517.6 64.9v3.4M516.9 66.7h3.4M518.6 65v3.4M518 66.8h3.4M519.7 65.1v3.4M519.1 66.9h3.4M520.8 65.2v3.4M520.1 67h3.4M521.8 65.3v3.4M521.2 67.1h3.4M522.9 65.4v3.4M522.2 67.1h3.4M523.9 65.4v3.4M523.3 67.2h3.4M525 65.5v3.4M524.4 67.3h3.4M526.1 65.6v3.4M525.4 67.4h3.4M527.1 65.7v3.4M526.5 67.5h3.4M528.2 65.8v3.4M527.5 67.6h3.4M529.2 65.9v3.4M528.6 67.7h3.4M530.3 66v3.4M529.7 67.8h3.4M531.4 66.1v3.4M530.7 67.9h3.4M532.4 66.2v3.4M531.8 68h3.4M533.5 66.3v3.4M532.8 68.1h3.4M534.5 66.4v3.4M533.9 68.2h3.4M535.6 66.5v3.4M535 68.3h3.4M536.7 66.6v3.4M536 68.4h3.4M537.7 66.7v3.4M537.1 68.5h3.4M538.8 66.8v3.4M538.1 68.5h3.4M539.8 66.8v3.4M539.2 68.6h3.4M540.9 66.9v3.4M540.2 68.7h3.4M541.9 67v3.4M541.3 68.8h3.4M543 67.1v3.4M542.4 68.9h3.4M544.1 67.2v3.4M543.4 69h3.4M545.1 67.3v3.4M544.5 69.1h3.4M546.2 67.4v3.4M545.5 69.2h3.4M547.2 67.5v3.4M546.6 69.3h3.4M548.3 67.6v3.4M547.7 69.4h3.4M549.4 67.7v3.4M548.7 69.5h3.4M550.4 67.8v3.4M549.8 69.6h3.4M551.5 67.9v3.4M550.8 69.7h3.4M552.5 68v3.4M551.9 69.8h3.4M553.6 68.1v3.4M553 69.9h3.4M554.7 68.2v3.4M554 69.9h3.4M555.7 68.2v3.4M555.1 70h3.4M556.8 68.3v3.4M556.1 70.1h3.4M557.8 68.4v3.4M557.2 70.2h3.4M558.9 68.5v3.4M558.3 70.3h3.4M560 68.6v3.4M559.3 70.4h3.4M561 68.7v3.4M560.4 70.5h3.4M562.1 68.8v3.4M561.4 70.6h3.4M563.1 68.9v3.4M562.5 70.7h3.4M564.2 69v3.4M563.6 70.8h3.4M565.3 69.1v3.4M564.6 70.9h3.4M566.3 69.2v3.4M565.7 71h3.4M567.4 69.3v3.4M566.7 71.1h3.4M568.4 69.4v3.4M567.8 71.2h3.4M569.5 69.5v3.4M568.9 71.2h3.4M570.6 69.5v3.4M569.9 71.3h3.4M571.6 69.6v3.4M571 71.4h3.4M572.7 69.7v3.4M572 71.5h3.4M573.7 69.8v3.4M573.1 71.6h3.4M574.8 69.9v3.4M574.2 71.7h3.4M575.9 70v3.4M575.2 71.7h3.4M576.9 70v3.4M576.3 71.8h3.4M578 70.1v3.4M577.3 71.9h3.4M579 70.2v3.4M578.4 72h3.4M580.1 70.3v3.4M579.5 72.1h3.4M581.2 70.4v3.4M580.5 72.1h3.4M582.2 70.4v3.4M581.6 72.2h3.4M583.3 70.5v3.4M582.6 72.3h3.4M584.3 70.6v3.4M583.7 72.4h3.4M585.4 70.7v3.4M584.8 72.5h3.4M586.5 70.8v3.4M585.8 72.6h3.4M587.5 70.9v3.4M586.9 72.6h3.4M588.6 70.9v3.4M587.9 72.7h3.4M589.6 71v3.4M589 72.8h3.4M590.7 71.1v3.4M590.1 72.9h3.4M591.8 71.2v3.4M591.1 73h3.4M592.8 71.3v3.4M592.2 73.1h3.4M593.9 71.4v3.4M593.2 73.1h3.4M594.9 71.4v3.4M594.3 73.2h3.4M596 71.5v3.4M595.3 73.3h3.4M597 71.6v3.4M596.4 73.4h3.4M598.1 71.7v3.4M597.5 73.5h3.4M599.2 71.8v3.4M598.5 73.5h3.4M600.2 71.8v3.4M599.6 73.6h3.4M601.3 71.9v3.4M600.6 73.7h3.4M602.3 72v3.4M601.7 73.8h3.4M603.4 72.1v3.4M602.8 73.9h3.4M604.5 72.2v3.4M603.8 74h3.4M605.5 72.3v3.4M604.9 74h3.4M606.6 72.3v3.4M605.9 74.1h3.4M607.6 72.4v3.4M607 74.2h3.4M608.7 72.5v3.4M608.1 74.3h3.4M609.8 72.6v3.4M609.1 74.4h3.4M610.8 72.7v3.4M610.2 74.4h3.4M611.9 72.7v3.4M611.2 74.5h3.4M612.9 72.8v3.4M612.3 74.6h3.4M614 72.9v3.4M613.4 74.7h3.4M615.1 73v3.4M614.4 74.8h3.4M616.1 73.1v3.4M615.5 74.9h3.4M617.2 73.2v3.4M616.5 74.9h3.4M618.2 73.2v3.4" fill="none" stroke="#00ffff" stroke-width="1"/>
<polyline points="90.3,97.4 93.8,93.3 97.9,85.7 99.7,84.5 102,76.9 105.5,84.5 110.2,80.5 114.3,78.5 118.4,77.3 125.4,76.2 129,77 134.7,78 140,77.5 145.2,76.5 153.4,77.4 163.9,76 169.3,77.2 183.4,77.3 195,78 202,78 209,75.4 218.4,74 230,72.8 240,72.6 259.9,73.8 275,69.7 298.4,68.5 320,65.8 395,61.9 445,62.9 470,64.5 520,66.7 570,68.9 619,71.8" fill="none" stroke="#ff00ff" stroke-width="4.1" stroke-linejoin="round" stroke-linecap="round" />
<polyline points="89,78.5 195.5,78.5 196.5,67.6 301.5,67.6 302.5,51.5 407.5,51.5 408.2,78.3 513.5,78.3 514.5,89.6 619,89.6" fill="none" stroke="#444" stroke-width="1"/>
<g fill="none">
<rect x="89.5" y="24" width="529.8" height="164.3" stroke="#8c8c8c" stroke-width="1.5"/>
<path d="M89.5 188.3v-5M89.5 24v5M142.5 188.3v-5M142.5 24v5M195.5 188.3v-5M195.5 24v5M248.4 188.3v-5M248.4 24v5M301.4 188.3v-5M301.4 24v5M354.4 188.3v-5M354.4 24v5M407.4 188.3v-5M407.4 24v5M460.4 188.3v-5M460.4 24v5M513.3 188.3v-5M513.3 24v5M566.3 188.3v-5M566.3 24v5M619.3 188.3v-5M619.3 24v5M89.5 24h5M619.3 24h-5M89.5 78.8h5M619.3 78.8h-5M89.5 133.5h5M619.3 133.5h-5M89.5 188.3h5M619.3 188.3h-5" stroke="#6e6e6e" stroke-width="1.2"/>
</g>
<text x="84.6" y="29.3" font-size="15.5" text-anchor="end">2</text>
<text x="84.6" y="84.1" font-size="15.5" text-anchor="end">1</text>
<text x="84.6" y="138.8" font-size="15.5" text-anchor="end">0</text>
<text x="84.6" y="193.6" font-size="15.5" text-anchor="end">-1</text>
<text x="89.8" y="207.3" font-size="15.5" text-anchor="middle">0</text>
<text x="142.8" y="207.3" font-size="15.5" text-anchor="middle">50</text>
<text x="195.8" y="207.3" font-size="15.5" text-anchor="middle">100</text>
<text x="248.7" y="207.3" font-size="15.5" text-anchor="middle">150</text>
<text x="301.7" y="207.3" font-size="15.5" text-anchor="middle">200</text>
<text x="354.7" y="207.3" font-size="15.5" text-anchor="middle">250</text>
<text x="407.7" y="207.3" font-size="15.5" text-anchor="middle">300</text>
<text x="460.7" y="207.3" font-size="15.5" text-anchor="middle">350</text>
<text x="513.6" y="207.3" font-size="15.5" text-anchor="middle">400</text>
<text x="566.6" y="207.3" font-size="15.5" text-anchor="middle">450</text>
<text x="619.6" y="207.3" font-size="15.5" text-anchor="middle">500</text>
<path d="M91.4 13.1l6.6 7.2M98 13.1l-6.6 7.2" stroke="#222" stroke-width="1.2" fill="none"/>
<text x="101" y="20.7" font-size="14.8">10</text>
<text x="117.3" y="13.8" font-size="11.8">-3</text>
<text transform="translate(41,106.2) rotate(-90)" font-size="19.5" text-anchor="middle">Resistance</text>
<text transform="translate(66,106.2) rotate(-90)" font-size="19.5" text-anchor="middle">(Per Unit/Mile)</text>
<text x="354.5" y="231.3" font-size="19.6" text-anchor="middle">The number of estimations</text>
<rect x="154.7" y="240.5" width="399" height="45.8" fill="#fff" stroke="#8a8a8a" stroke-width="1"/>
<line x1="156" y1="252.4" x2="175" y2="252.4" stroke="#00f000" stroke-width="1" opacity="0.75" stroke-dasharray="3.2 1 1.2 1"/>
<path d="M165.4 249.8l2.1 2.6l-2.1 2.6l-2.1 -2.6z" fill="none" stroke="#00f000" stroke-width="1.1"/>
<line x1="264" y1="252.4" x2="282.8" y2="252.4" stroke="#0000ff" stroke-width="0.9" opacity="0.75" stroke-dasharray="3.2 1 1.2 1"/>
<rect x="271.2" y="251.2" width="3.8" height="2.5" fill="none" stroke="#0000ff" stroke-width="1"/>
<line x1="460.7" y1="252.4" x2="479" y2="252.4" stroke="#00ffff" stroke-width="1" opacity="0.75" stroke-dasharray="3.2 1 1.2 1"/>
<path d="M467.2 252.4h5M469.7 250.2v4.4" stroke="#00ffff" stroke-width="1"/>
<line x1="156" y1="274.4" x2="175" y2="274.4" stroke="#ff00ff" stroke-width="1" opacity="0.75" stroke-dasharray="3.2 1 1.2 1"/>
<circle cx="165.4" cy="274.4" r="1.8" fill="#ff00ff"/>
<line x1="264" y1="274.4" x2="282.6" y2="274.4" stroke="#222" stroke-width="1" opacity="1" />
<text x="175.8" y="258.8" font-size="17.3" letter-spacing="0.3">Normal KF</text>
<text x="284" y="258.8" font-size="17.3" letter-spacing="0.3">Adjusted Kalman gain</text>
<text x="479.2" y="258.8" font-size="17.3" letter-spacing="0.3">Fast KF1</text>
<text x="175.8" y="281.8" font-size="17.3" letter-spacing="0.3">Fast KF2</text>
<text x="284" y="281.8" font-size="17.3" letter-spacing="0.3">Actual value</text>
<text class="cap" x="0" y="362.8" font-size="30" letter-spacing="0.2"><tspan font-weight="bold">(a)</tspan> series resistance</text>
<polyline points="89.5,444 90.3,447.4 93.8,455.5 99.7,457 110,456.5 118,455 128.9,456.7 146.4,457.9 200,459.5 260,460.3 350,461.3 420,461.8 619,461.8" fill="none" stroke="#00f000" stroke-width="0.8" stroke-dasharray="3 1.5 1 1.5" opacity="0.8"/>
<path d="M89.5 441.3l2.7 2.7l-2.7 2.7l-2.7 -2.7zM90.6 445.3l2.7 2.7l-2.7 2.7l-2.7 -2.7zM91.6 447.8l2.7 2.7l-2.7 2.7l-2.7 -2.7zM92.7 450.2l2.7 2.7l-2.7 2.7l-2.7 -2.7zM93.7 452.7l2.7 2.7l-2.7 2.7l-2.7 -2.7zM94.8 453.1l2.7 2.7l-2.7 2.7l-2.7 -2.7zM95.9 453.3l2.7 2.7l-2.7 2.7l-2.7 -2.7zM96.9 453.6l2.7 2.7l-2.7 2.7l-2.7 -2.7zM98 453.9l2.7 2.7l-2.7 2.7l-2.7 -2.7zM99 454.1l2.7 2.7l-2.7 2.7l-2.7 -2.7zM100.1 454.3l2.7 2.7l-2.7 2.7l-2.7 -2.7zM101.2 454.2l2.7 2.7l-2.7 2.7l-2.7 -2.7zM102.2 454.2l2.7 2.7l-2.7 2.7l-2.7 -2.7zM103.3 454.1l2.7 2.7l-2.7 2.7l-2.7 -2.7zM104.3 454.1l2.7 2.7l-2.7 2.7l-2.7 -2.7zM105.4 454l2.7 2.7l-2.7 2.7l-2.7 -2.7zM106.5 454l2.7 2.7l-2.7 2.7l-2.7 -2.7zM107.5 453.9l2.7 2.7l-2.7 2.7l-2.7 -2.7zM108.6 453.9l2.7 2.7l-2.7 2.7l-2.7 -2.7zM109.6 453.8l2.7 2.7l-2.7 2.7l-2.7 -2.7zM110.7 453.7l2.7 2.7l-2.7 2.7l-2.7 -2.7zM111.8 453.5l2.7 2.7l-2.7 2.7l-2.7 -2.7zM112.8 453.3l2.7 2.7l-2.7 2.7l-2.7 -2.7zM113.9 453.1l2.7 2.7l-2.7 2.7l-2.7 -2.7zM114.9 452.9l2.7 2.7l-2.7 2.7l-2.7 -2.7zM116 452.7l2.7 2.7l-2.7 2.7l-2.7 -2.7zM117 452.5l2.7 2.7l-2.7 2.7l-2.7 -2.7zM118.1 452.3l2.7 2.7l-2.7 2.7l-2.7 -2.7zM119.2 452.5l2.7 2.7l-2.7 2.7l-2.7 -2.7zM120.2 452.6l2.7 2.7l-2.7 2.7l-2.7 -2.7zM121.3 452.8l2.7 2.7l-2.7 2.7l-2.7 -2.7zM122.3 453l2.7 2.7l-2.7 2.7l-2.7 -2.7zM123.4 453.1l2.7 2.7l-2.7 2.7l-2.7 -2.7zM124.5 453.3l2.7 2.7l-2.7 2.7l-2.7 -2.7zM125.5 453.5l2.7 2.7l-2.7 2.7l-2.7 -2.7zM126.6 453.6l2.7 2.7l-2.7 2.7l-2.7 -2.7zM127.6 453.8l2.7 2.7l-2.7 2.7l-2.7 -2.7zM128.7 454l2.7 2.7l-2.7 2.7l-2.7 -2.7zM129.8 454.1l2.7 2.7l-2.7 2.7l-2.7 -2.7zM130.8 454.1l2.7 2.7l-2.7 2.7l-2.7 -2.7zM131.9 454.2l2.7 2.7l-2.7 2.7l-2.7 -2.7zM132.9 454.3l2.7 2.7l-2.7 2.7l-2.7 -2.7zM134 454.3l2.7 2.7l-2.7 2.7l-2.7 -2.7zM135.1 454.4l2.7 2.7l-2.7 2.7l-2.7 -2.7zM136.1 454.5l2.7 2.7l-2.7 2.7l-2.7 -2.7zM137.2 454.6l2.7 2.7l-2.7 2.7l-2.7 -2.7zM138.2 454.6l2.7 2.7l-2.7 2.7l-2.7 -2.7zM139.3 454.7l2.7 2.7l-2.7 2.7l-2.7 -2.7zM140.4 454.8l2.7 2.7l-2.7 2.7l-2.7 -2.7zM141.4 454.9l2.7 2.7l-2.7 2.7l-2.7 -2.7zM142.5 454.9l2.7 2.7l-2.7 2.7l-2.7 -2.7zM143.5 455l2.7 2.7l-2.7 2.7l-2.7 -2.7zM144.6 455.1l2.7 2.7l-2.7 2.7l-2.7 -2.7zM145.7 455.1l2.7 2.7l-2.7 2.7l-2.7 -2.7zM146.7 455.2l2.7 2.7l-2.7 2.7l-2.7 -2.7zM147.8 455.2l2.7 2.7l-2.7 2.7l-2.7 -2.7zM148.8 455.3l2.7 2.7l-2.7 2.7l-2.7 -2.7zM149.9 455.3l2.7 2.7l-2.7 2.7l-2.7 -2.7zM151 455.3l2.7 2.7l-2.7 2.7l-2.7 -2.7zM152 455.4l2.7 2.7l-2.7 2.7l-2.7 -2.7zM153.1 455.4l2.7 2.7l-2.7 2.7l-2.7 -2.7zM154.1 455.4l2.7 2.7l-2.7 2.7l-2.7 -2.7zM155.2 455.5l2.7 2.7l-2.7 2.7l-2.7 -2.7zM156.3 455.5l2.7 2.7l-2.7 2.7l-2.7 -2.7zM157.3 455.5l2.7 2.7l-2.7 2.7l-2.7 -2.7zM158.4 455.6l2.7 2.7l-2.7 2.7l-2.7 -2.7zM159.4 455.6l2.7 2.7l-2.7 2.7l-2.7 -2.7zM160.5 455.6l2.7 2.7l-2.7 2.7l-2.7 -2.7zM161.6 455.7l2.7 2.7l-2.7 2.7l-2.7 -2.7zM162.6 455.7l2.7 2.7l-2.7 2.7l-2.7 -2.7zM163.7 455.7l2.7 2.7l-2.7 2.7l-2.7 -2.7zM164.7 455.7l2.7 2.7l-2.7 2.7l-2.7 -2.7zM165.8 455.8l2.7 2.7l-2.7 2.7l-2.7 -2.7zM166.9 455.8l2.7 2.7l-2.7 2.7l-2.7 -2.7zM167.9 455.8l2.7 2.7l-2.7 2.7l-2.7 -2.7zM169 455.9l2.7 2.7l-2.7 2.7l-2.7 -2.7zM170 455.9l2.7 2.7l-2.7 2.7l-2.7 -2.7zM171.1 455.9l2.7 2.7l-2.7 2.7l-2.7 -2.7zM172.1 456l2.7 2.7l-2.7 2.7l-2.7 -2.7zM173.2 456l2.7 2.7l-2.7 2.7l-2.7 -2.7zM174.3 456l2.7 2.7l-2.7 2.7l-2.7 -2.7zM175.3 456.1l2.7 2.7l-2.7 2.7l-2.7 -2.7zM176.4 456.1l2.7 2.7l-2.7 2.7l-2.7 -2.7zM177.4 456.1l2.7 2.7l-2.7 2.7l-2.7 -2.7zM178.5 456.2l2.7 2.7l-2.7 2.7l-2.7 -2.7zM179.6 456.2l2.7 2.7l-2.7 2.7l-2.7 -2.7zM180.6 456.2l2.7 2.7l-2.7 2.7l-2.7 -2.7zM181.7 456.3l2.7 2.7l-2.7 2.7l-2.7 -2.7zM182.7 456.3l2.7 2.7l-2.7 2.7l-2.7 -2.7zM183.8 456.3l2.7 2.7l-2.7 2.7l-2.7 -2.7zM184.9 456.3l2.7 2.7l-2.7 2.7l-2.7 -2.7zM185.9 456.4l2.7 2.7l-2.7 2.7l-2.7 -2.7zM187 456.4l2.7 2.7l-2.7 2.7l-2.7 -2.7zM188 456.4l2.7 2.7l-2.7 2.7l-2.7 -2.7zM189.1 456.5l2.7 2.7l-2.7 2.7l-2.7 -2.7zM190.2 456.5l2.7 2.7l-2.7 2.7l-2.7 -2.7zM191.2 456.5l2.7 2.7l-2.7 2.7l-2.7 -2.7zM192.3 456.6l2.7 2.7l-2.7 2.7l-2.7 -2.7zM193.3 456.6l2.7 2.7l-2.7 2.7l-2.7 -2.7zM194.4 456.6l2.7 2.7l-2.7 2.7l-2.7 -2.7zM195.5 456.7l2.7 2.7l-2.7 2.7l-2.7 -2.7zM196.5 456.7l2.7 2.7l-2.7 2.7l-2.7 -2.7zM197.6 456.7l2.7 2.7l-2.7 2.7l-2.7 -2.7zM198.6 456.8l2.7 2.7l-2.7 2.7l-2.7 -2.7zM199.7 456.8l2.7 2.7l-2.7 2.7l-2.7 -2.7zM200.8 456.8l2.7 2.7l-2.7 2.7l-2.7 -2.7zM201.8 456.8l2.7 2.7l-2.7 2.7l-2.7 -2.7zM202.9 456.8l2.7 2.7l-2.7 2.7l-2.7 -2.7zM203.9 456.9l2.7 2.7l-2.7 2.7l-2.7 -2.7zM205 456.9l2.7 2.7l-2.7 2.7l-2.7 -2.7zM206.1 456.9l2.7 2.7l-2.7 2.7l-2.7 -2.7zM207.1 456.9l2.7 2.7l-2.7 2.7l-2.7 -2.7zM208.2 456.9l2.7 2.7l-2.7 2.7l-2.7 -2.7zM209.2 456.9l2.7 2.7l-2.7 2.7l-2.7 -2.7zM210.3 456.9l2.7 2.7l-2.7 2.7l-2.7 -2.7zM211.4 457l2.7 2.7l-2.7 2.7l-2.7 -2.7zM212.4 457l2.7 2.7l-2.7 2.7l-2.7 -2.7zM213.5 457l2.7 2.7l-2.7 2.7l-2.7 -2.7zM214.5 457l2.7 2.7l-2.7 2.7l-2.7 -2.7zM215.6 457l2.7 2.7l-2.7 2.7l-2.7 -2.7zM216.7 457l2.7 2.7l-2.7 2.7l-2.7 -2.7zM217.7 457l2.7 2.7l-2.7 2.7l-2.7 -2.7zM218.8 457.1l2.7 2.7l-2.7 2.7l-2.7 -2.7zM219.8 457.1l2.7 2.7l-2.7 2.7l-2.7 -2.7zM220.9 457.1l2.7 2.7l-2.7 2.7l-2.7 -2.7zM221.9 457.1l2.7 2.7l-2.7 2.7l-2.7 -2.7zM223 457.1l2.7 2.7l-2.7 2.7l-2.7 -2.7zM224.1 457.1l2.7 2.7l-2.7 2.7l-2.7 -2.7zM225.1 457.1l2.7 2.7l-2.7 2.7l-2.7 -2.7zM226.2 457.1l2.7 2.7l-2.7 2.7l-2.7 -2.7zM227.2 457.2l2.7 2.7l-2.7 2.7l-2.7 -2.7zM228.3 457.2l2.7 2.7l-2.7 2.7l-2.7 -2.7zM229.4 457.2l2.7 2.7l-2.7 2.7l-2.7 -2.7zM230.4 457.2l2.7 2.7l-2.7 2.7l-2.7 -2.7zM231.5 457.2l2.7 2.7l-2.7 2.7l-2.7 -2.7zM232.5 457.2l2.7 2.7l-2.7 2.7l-2.7 -2.7zM233.6 457.2l2.7 2.7l-2.7 2.7l-2.7 -2.7zM234.7 457.3l2.7 2.7l-2.7 2.7l-2.7 -2.7zM235.7 457.3l2.7 2.7l-2.7 2.7l-2.7 -2.7zM236.8 457.3l2.7 2.7l-2.7 2.7l-2.7 -2.7zM237.8 457.3l2.7 2.7l-2.7 2.7l-2.7 -2.7zM238.9 457.3l2.7 2.7l-2.7 2.7l-2.7 -2.7zM240 457.3l2.7 2.7l-2.7 2.7l-2.7 -2.7zM241 457.3l2.7 2.7l-2.7 2.7l-2.7 -2.7zM242.1 457.4l2.7 2.7l-2.7 2.7l-2.7 -2.7zM243.1 457.4l2.7 2.7l-2.7 2.7l-2.7 -2.7zM244.2 457.4l2.7 2.7l-2.7 2.7l-2.7 -2.7zM245.3 457.4l2.7 2.7l-2.7 2.7l-2.7 -2.7zM246.3 457.4l2.7 2.7l-2.7 2.7l-2.7 -2.7zM247.4 457.4l2.7 2.7l-2.7 2.7l-2.7 -2.7zM248.4 457.4l2.7 2.7l-2.7 2.7l-2.7 -2.7zM249.5 457.5l2.7 2.7l-2.7 2.7l-2.7 -2.7zM250.6 457.5l2.7 2.7l-2.7 2.7l-2.7 -2.7zM251.6 457.5l2.7 2.7l-2.7 2.7l-2.7 -2.7zM252.7 457.5l2.7 2.7l-2.7 2.7l-2.7 -2.7zM253.7 457.5l2.7 2.7l-2.7 2.7l-2.7 -2.7zM254.8 457.5l2.7 2.7l-2.7 2.7l-2.7 -2.7zM255.9 457.5l2.7 2.7l-2.7 2.7l-2.7 -2.7zM256.9 457.6l2.7 2.7l-2.7 2.7l-2.7 -2.7zM258 457.6l2.7 2.7l-2.7 2.7l-2.7 -2.7zM259 457.6l2.7 2.7l-2.7 2.7l-2.7 -2.7zM260.1 457.6l2.7 2.7l-2.7 2.7l-2.7 -2.7zM261.2 457.6l2.7 2.7l-2.7 2.7l-2.7 -2.7zM262.2 457.6l2.7 2.7l-2.7 2.7l-2.7 -2.7zM263.3 457.6l2.7 2.7l-2.7 2.7l-2.7 -2.7zM264.3 457.6l2.7 2.7l-2.7 2.7l-2.7 -2.7zM265.4 457.7l2.7 2.7l-2.7 2.7l-2.7 -2.7zM266.5 457.7l2.7 2.7l-2.7 2.7l-2.7 -2.7zM267.5 457.7l2.7 2.7l-2.7 2.7l-2.7 -2.7zM268.6 457.7l2.7 2.7l-2.7 2.7l-2.7 -2.7zM269.6 457.7l2.7 2.7l-2.7 2.7l-2.7 -2.7zM270.7 457.7l2.7 2.7l-2.7 2.7l-2.7 -2.7zM271.8 457.7l2.7 2.7l-2.7 2.7l-2.7 -2.7zM272.8 457.7l2.7 2.7l-2.7 2.7l-2.7 -2.7zM273.9 457.8l2.7 2.7l-2.7 2.7l-2.7 -2.7zM274.9 457.8l2.7 2.7l-2.7 2.7l-2.7 -2.7zM276 457.8l2.7 2.7l-2.7 2.7l-2.7 -2.7zM277 457.8l2.7 2.7l-2.7 2.7l-2.7 -2.7zM278.1 457.8l2.7 2.7l-2.7 2.7l-2.7 -2.7zM279.2 457.8l2.7 2.7l-2.7 2.7l-2.7 -2.7zM280.2 457.8l2.7 2.7l-2.7 2.7l-2.7 -2.7zM281.3 457.8l2.7 2.7l-2.7 2.7l-2.7 -2.7zM282.3 457.8l2.7 2.7l-2.7 2.7l-2.7 -2.7zM283.4 457.9l2.7 2.7l-2.7 2.7l-2.7 -2.7zM284.5 457.9l2.7 2.7l-2.7 2.7l-2.7 -2.7zM285.5 457.9l2.7 2.7l-2.7 2.7l-2.7 -2.7zM286.6 457.9l2.7 2.7l-2.7 2.7l-2.7 -2.7zM287.6 457.9l2.7 2.7l-2.7 2.7l-2.7 -2.7zM288.7 457.9l2.7 2.7l-2.7 2.7l-2.7 -2.7zM289.8 457.9l2.7 2.7l-2.7 2.7l-2.7 -2.7zM290.8 457.9l2.7 2.7l-2.7 2.7l-2.7 -2.7zM291.9 458l2.7 2.7l-2.7 2.7l-2.7 -2.7zM292.9 458l2.7 2.7l-2.7 2.7l-2.7 -2.7zM294 458l2.7 2.7l-2.7 2.7l-2.7 -2.7zM295.1 458l2.7 2.7l-2.7 2.7l-2.7 -2.7zM296.1 458l2.7 2.7l-2.7 2.7l-2.7 -2.7zM297.2 458l2.7 2.7l-2.7 2.7l-2.7 -2.7zM298.2 458l2.7 2.7l-2.7 2.7l-2.7 -2.7zM299.3 458l2.7 2.7l-2.7 2.7l-2.7 -2.7zM300.4 458l2.7 2.7l-2.7 2.7l-2.7 -2.7zM301.4 458.1l2.7 2.7l-2.7 2.7l-2.7 -2.7zM302.5 458.1l2.7 2.7l-2.7 2.7l-2.7 -2.7zM303.5 458.1l2.7 2.7l-2.7 2.7l-2.7 -2.7zM304.6 458.1l2.7 2.7l-2.7 2.7l-2.7 -2.7zM305.7 458.1l2.7 2.7l-2.7 2.7l-2.7 -2.7zM306.7 458.1l2.7 2.7l-2.7 2.7l-2.7 -2.7zM307.8 458.1l2.7 2.7l-2.7 2.7l-2.7 -2.7zM308.8 458.1l2.7 2.7l-2.7 2.7l-2.7 -2.7zM309.9 458.2l2.7 2.7l-2.7 2.7l-2.7 -2.7zM311 458.2l2.7 2.7l-2.7 2.7l-2.7 -2.7zM312 458.2l2.7 2.7l-2.7 2.7l-2.7 -2.7zM313.1 458.2l2.7 2.7l-2.7 2.7l-2.7 -2.7zM314.1 458.2l2.7 2.7l-2.7 2.7l-2.7 -2.7zM315.2 458.2l2.7 2.7l-2.7 2.7l-2.7 -2.7zM316.3 458.2l2.7 2.7l-2.7 2.7l-2.7 -2.7zM317.3 458.2l2.7 2.7l-2.7 2.7l-2.7 -2.7zM318.4 458.2l2.7 2.7l-2.7 2.7l-2.7 -2.7zM319.4 458.3l2.7 2.7l-2.7 2.7l-2.7 -2.7zM320.5 458.3l2.7 2.7l-2.7 2.7l-2.7 -2.7zM321.6 458.3l2.7 2.7l-2.7 2.7l-2.7 -2.7zM322.6 458.3l2.7 2.7l-2.7 2.7l-2.7 -2.7zM323.7 458.3l2.7 2.7l-2.7 2.7l-2.7 -2.7zM324.7 458.3l2.7 2.7l-2.7 2.7l-2.7 -2.7zM325.8 458.3l2.7 2.7l-2.7 2.7l-2.7 -2.7zM326.9 458.3l2.7 2.7l-2.7 2.7l-2.7 -2.7zM327.9 458.4l2.7 2.7l-2.7 2.7l-2.7 -2.7zM329 458.4l2.7 2.7l-2.7 2.7l-2.7 -2.7zM330 458.4l2.7 2.7l-2.7 2.7l-2.7 -2.7zM331.1 458.4l2.7 2.7l-2.7 2.7l-2.7 -2.7zM332.1 458.4l2.7 2.7l-2.7 2.7l-2.7 -2.7zM333.2 458.4l2.7 2.7l-2.7 2.7l-2.7 -2.7zM334.3 458.4l2.7 2.7l-2.7 2.7l-2.7 -2.7zM335.3 458.4l2.7 2.7l-2.7 2.7l-2.7 -2.7zM336.4 458.4l2.7 2.7l-2.7 2.7l-2.7 -2.7zM337.4 458.5l2.7 2.7l-2.7 2.7l-2.7 -2.7zM338.5 458.5l2.7 2.7l-2.7 2.7l-2.7 -2.7zM339.6 458.5l2.7 2.7l-2.7 2.7l-2.7 -2.7zM340.6 458.5l2.7 2.7l-2.7 2.7l-2.7 -2.7zM341.7 458.5l2.7 2.7l-2.7 2.7l-2.7 -2.7zM342.7 458.5l2.7 2.7l-2.7 2.7l-2.7 -2.7zM343.8 458.5l2.7 2.7l-2.7 2.7l-2.7 -2.7zM344.9 458.5l2.7 2.7l-2.7 2.7l-2.7 -2.7zM345.9 458.6l2.7 2.7l-2.7 2.7l-2.7 -2.7zM347 458.6l2.7 2.7l-2.7 2.7l-2.7 -2.7zM348 458.6l2.7 2.7l-2.7 2.7l-2.7 -2.7zM349.1 458.6l2.7 2.7l-2.7 2.7l-2.7 -2.7zM350.2 458.6l2.7 2.7l-2.7 2.7l-2.7 -2.7zM351.2 458.6l2.7 2.7l-2.7 2.7l-2.7 -2.7zM352.3 458.6l2.7 2.7l-2.7 2.7l-2.7 -2.7zM353.3 458.6l2.7 2.7l-2.7 2.7l-2.7 -2.7zM354.4 458.6l2.7 2.7l-2.7 2.7l-2.7 -2.7zM355.5 458.6l2.7 2.7l-2.7 2.7l-2.7 -2.7zM356.5 458.6l2.7 2.7l-2.7 2.7l-2.7 -2.7zM357.6 458.7l2.7 2.7l-2.7 2.7l-2.7 -2.7zM358.6 458.7l2.7 2.7l-2.7 2.7l-2.7 -2.7zM359.7 458.7l2.7 2.7l-2.7 2.7l-2.7 -2.7zM360.8 458.7l2.7 2.7l-2.7 2.7l-2.7 -2.7zM361.8 458.7l2.7 2.7l-2.7 2.7l-2.7 -2.7zM362.9 458.7l2.7 2.7l-2.7 2.7l-2.7 -2.7zM363.9 458.7l2.7 2.7l-2.7 2.7l-2.7 -2.7zM365 458.7l2.7 2.7l-2.7 2.7l-2.7 -2.7zM366.1 458.7l2.7 2.7l-2.7 2.7l-2.7 -2.7zM367.1 458.7l2.7 2.7l-2.7 2.7l-2.7 -2.7zM368.2 458.7l2.7 2.7l-2.7 2.7l-2.7 -2.7zM369.2 458.7l2.7 2.7l-2.7 2.7l-2.7 -2.7zM370.3 458.7l2.7 2.7l-2.7 2.7l-2.7 -2.7zM371.4 458.8l2.7 2.7l-2.7 2.7l-2.7 -2.7zM372.4 458.8l2.7 2.7l-2.7 2.7l-2.7 -2.7zM373.5 458.8l2.7 2.7l-2.7 2.7l-2.7 -2.7zM374.5 458.8l2.7 2.7l-2.7 2.7l-2.7 -2.7zM375.6 458.8l2.7 2.7l-2.7 2.7l-2.7 -2.7zM376.7 458.8l2.7 2.7l-2.7 2.7l-2.7 -2.7zM377.7 458.8l2.7 2.7l-2.7 2.7l-2.7 -2.7zM378.8 458.8l2.7 2.7l-2.7 2.7l-2.7 -2.7zM379.8 458.8l2.7 2.7l-2.7 2.7l-2.7 -2.7zM380.9 458.8l2.7 2.7l-2.7 2.7l-2.7 -2.7zM381.9 458.8l2.7 2.7l-2.7 2.7l-2.7 -2.7zM383 458.8l2.7 2.7l-2.7 2.7l-2.7 -2.7zM384.1 458.8l2.7 2.7l-2.7 2.7l-2.7 -2.7zM385.1 458.9l2.7 2.7l-2.7 2.7l-2.7 -2.7zM386.2 458.9l2.7 2.7l-2.7 2.7l-2.7 -2.7zM387.2 458.9l2.7 2.7l-2.7 2.7l-2.7 -2.7zM388.3 458.9l2.7 2.7l-2.7 2.7l-2.7 -2.7zM389.4 458.9l2.7 2.7l-2.7 2.7l-2.7 -2.7zM390.4 458.9l2.7 2.7l-2.7 2.7l-2.7 -2.7zM391.5 458.9l2.7 2.7l-2.7 2.7l-2.7 -2.7zM392.5 458.9l2.7 2.7l-2.7 2.7l-2.7 -2.7zM393.6 458.9l2.7 2.7l-2.7 2.7l-2.7 -2.7zM394.7 458.9l2.7 2.7l-2.7 2.7l-2.7 -2.7zM395.7 458.9l2.7 2.7l-2.7 2.7l-2.7 -2.7zM396.8 458.9l2.7 2.7l-2.7 2.7l-2.7 -2.7zM397.8 458.9l2.7 2.7l-2.7 2.7l-2.7 -2.7zM398.9 458.9l2.7 2.7l-2.7 2.7l-2.7 -2.7zM400 459l2.7 2.7l-2.7 2.7l-2.7 -2.7zM401 459l2.7 2.7l-2.7 2.7l-2.7 -2.7zM402.1 459l2.7 2.7l-2.7 2.7l-2.7 -2.7zM403.1 459l2.7 2.7l-2.7 2.7l-2.7 -2.7zM404.2 459l2.7 2.7l-2.7 2.7l-2.7 -2.7zM405.3 459l2.7 2.7l-2.7 2.7l-2.7 -2.7zM406.3 459l2.7 2.7l-2.7 2.7l-2.7 -2.7zM407.4 459l2.7 2.7l-2.7 2.7l-2.7 -2.7zM408.4 459l2.7 2.7l-2.7 2.7l-2.7 -2.7zM409.5 459l2.7 2.7l-2.7 2.7l-2.7 -2.7zM410.6 459l2.7 2.7l-2.7 2.7l-2.7 -2.7zM411.6 459l2.7 2.7l-2.7 2.7l-2.7 -2.7zM412.7 459l2.7 2.7l-2.7 2.7l-2.7 -2.7zM413.7 459.1l2.7 2.7l-2.7 2.7l-2.7 -2.7zM414.8 459.1l2.7 2.7l-2.7 2.7l-2.7 -2.7zM415.9 459.1l2.7 2.7l-2.7 2.7l-2.7 -2.7zM416.9 459.1l2.7 2.7l-2.7 2.7l-2.7 -2.7zM418 459.1l2.7 2.7l-2.7 2.7l-2.7 -2.7zM419 459.1l2.7 2.7l-2.7 2.7l-2.7 -2.7zM420.1 459.1l2.7 2.7l-2.7 2.7l-2.7 -2.7zM421.2 459.1l2.7 2.7l-2.7 2.7l-2.7 -2.7zM422.2 459.1l2.7 2.7l-2.7 2.7l-2.7 -2.7zM423.3 459.1l2.7 2.7l-2.7 2.7l-2.7 -2.7zM424.3 459.1l2.7 2.7l-2.7 2.7l-2.7 -2.7zM425.4 459.1l2.7 2.7l-2.7 2.7l-2.7 -2.7zM426.5 459.1l2.7 2.7l-2.7 2.7l-2.7 -2.7zM427.5 459.1l2.7 2.7l-2.7 2.7l-2.7 -2.7zM428.6 459.1l2.7 2.7l-2.7 2.7l-2.7 -2.7zM429.6 459.1l2.7 2.7l-2.7 2.7l-2.7 -2.7zM430.7 459.1l2.7 2.7l-2.7 2.7l-2.7 -2.7zM431.8 459.1l2.7 2.7l-2.7 2.7l-2.7 -2.7zM432.8 459.1l2.7 2.7l-2.7 2.7l-2.7 -2.7zM433.9 459.1l2.7 2.7l-2.7 2.7l-2.7 -2.7zM434.9 459.1l2.7 2.7l-2.7 2.7l-2.7 -2.7zM436 459.1l2.7 2.7l-2.7 2.7l-2.7 -2.7zM437 459.1l2.7 2.7l-2.7 2.7l-2.7 -2.7zM438.1 459.1l2.7 2.7l-2.7 2.7l-2.7 -2.7zM439.2 459.1l2.7 2.7l-2.7 2.7l-2.7 -2.7zM440.2 459.1l2.7 2.7l-2.7 2.7l-2.7 -2.7zM441.3 459.1l2.7 2.7l-2.7 2.7l-2.7 -2.7zM442.3 459.1l2.7 2.7l-2.7 2.7l-2.7 -2.7zM443.4 459.1l2.7 2.7l-2.7 2.7l-2.7 -2.7zM444.5 459.1l2.7 2.7l-2.7 2.7l-2.7 -2.7zM445.5 459.1l2.7 2.7l-2.7 2.7l-2.7 -2.7zM446.6 459.1l2.7 2.7l-2.7 2.7l-2.7 -2.7zM447.6 459.1l2.7 2.7l-2.7 2.7l-2.7 -2.7zM448.7 459.1l2.7 2.7l-2.7 2.7l-2.7 -2.7zM449.8 459.1l2.7 2.7l-2.7 2.7l-2.7 -2.7zM450.8 459.1l2.7 2.7l-2.7 2.7l-2.7 -2.7zM451.9 459.1l2.7 2.7l-2.7 2.7l-2.7 -2.7zM452.9 459.1l2.7 2.7l-2.7 2.7l-2.7 -2.7zM454 459.1l2.7 2.7l-2.7 2.7l-2.7 -2.7zM455.1 459.1l2.7 2.7l-2.7 2.7l-2.7 -2.7zM456.1 459.1l2.7 2.7l-2.7 2.7l-2.7 -2.7zM457.2 459.1l2.7 2.7l-2.7 2.7l-2.7 -2.7zM458.2 459.1l2.7 2.7l-2.7 2.7l-2.7 -2.7zM459.3 459.1l2.7 2.7l-2.7 2.7l-2.7 -2.7zM460.4 459.1l2.7 2.7l-2.7 2.7l-2.7 -2.7zM461.4 459.1l2.7 2.7l-2.7 2.7l-2.7 -2.7zM462.5 459.1l2.7 2.7l-2.7 2.7l-2.7 -2.7zM463.5 459.1l2.7 2.7l-2.7 2.7l-2.7 -2.7zM464.6 459.1l2.7 2.7l-2.7 2.7l-2.7 -2.7zM465.7 459.1l2.7 2.7l-2.7 2.7l-2.7 -2.7zM466.7 459.1l2.7 2.7l-2.7 2.7l-2.7 -2.7zM467.8 459.1l2.7 2.7l-2.7 2.7l-2.7 -2.7zM468.8 459.1l2.7 2.7l-2.7 2.7l-2.7 -2.7zM469.9 459.1l2.7 2.7l-2.7 2.7l-2.7 -2.7zM471 459.1l2.7 2.7l-2.7 2.7l-2.7 -2.7zM472 459.1l2.7 2.7l-2.7 2.7l-2.7 -2.7zM473.1 459.1l2.7 2.7l-2.7 2.7l-2.7 -2.7zM474.1 459.1l2.7 2.7l-2.7 2.7l-2.7 -2.7zM475.2 459.1l2.7 2.7l-2.7 2.7l-2.7 -2.7zM476.3 459.1l2.7 2.7l-2.7 2.7l-2.7 -2.7zM477.3 459.1l2.7 2.7l-2.7 2.7l-2.7 -2.7zM478.4 459.1l2.7 2.7l-2.7 2.7l-2.7 -2.7zM479.4 459.1l2.7 2.7l-2.7 2.7l-2.7 -2.7zM480.5 459.1l2.7 2.7l-2.7 2.7l-2.7 -2.7zM481.6 459.1l2.7 2.7l-2.7 2.7l-2.7 -2.7zM482.6 459.1l2.7 2.7l-2.7 2.7l-2.7 -2.7zM483.7 459.1l2.7 2.7l-2.7 2.7l-2.7 -2.7zM484.7 459.1l2.7 2.7l-2.7 2.7l-2.7 -2.7zM485.8 459.1l2.7 2.7l-2.7 2.7l-2.7 -2.7zM486.8 459.1l2.7 2.7l-2.7 2.7l-2.7 -2.7zM487.9 459.1l2.7 2.7l-2.7 2.7l-2.7 -2.7zM489 459.1l2.7 2.7l-2.7 2.7l-2.7 -2.7zM490 459.1l2.7 2.7l-2.7 2.7l-2.7 -2.7zM491.1 459.1l2.7 2.7l-2.7 2.7l-2.7 -2.7zM492.1 459.1l2.7 2.7l-2.7 2.7l-2.7 -2.7zM493.2 459.1l2.7 2.7l-2.7 2.7l-2.7 -2.7zM494.3 459.1l2.7 2.7l-2.7 2.7l-2.7 -2.7zM495.3 459.1l2.7 2.7l-2.7 2.7l-2.7 -2.7zM496.4 459.1l2.7 2.7l-2.7 2.7l-2.7 -2.7zM497.4 459.1l2.7 2.7l-2.7 2.7l-2.7 -2.7zM498.5 459.1l2.7 2.7l-2.7 2.7l-2.7 -2.7zM499.6 459.1l2.7 2.7l-2.7 2.7l-2.7 -2.7zM500.6 459.1l2.7 2.7l-2.7 2.7l-2.7 -2.7zM501.7 459.1l2.7 2.7l-2.7 2.7l-2.7 -2.7zM502.7 459.1l2.7 2.7l-2.7 2.7l-2.7 -2.7zM503.8 459.1l2.7 2.7l-2.7 2.7l-2.7 -2.7zM504.9 459.1l2.7 2.7l-2.7 2.7l-2.7 -2.7zM505.9 459.1l2.7 2.7l-2.7 2.7l-2.7 -2.7zM507 459.1l2.7 2.7l-2.7 2.7l-2.7 -2.7zM508 459.1l2.7 2.7l-2.7 2.7l-2.7 -2.7zM509.1 459.1l2.7 2.7l-2.7 2.7l-2.7 -2.7zM510.2 459.1l2.7 2.7l-2.7 2.7l-2.7 -2.7zM511.2 459.1l2.7 2.7l-2.7 2.7l-2.7 -2.7zM512.3 459.1l2.7 2.7l-2.7 2.7l-2.7 -2.7zM513.3 459.1l2.7 2.7l-2.7 2.7l-2.7 -2.7zM514.4 459.1l2.7 2.7l-2.7 2.7l-2.7 -2.7zM515.5 459.1l2.7 2.7l-2.7 2.7l-2.7 -2.7zM516.5 459.1l2.7 2.7l-2.7 2.7l-2.7 -2.7zM517.6 459.1l2.7 2.7l-2.7 2.7l-2.7 -2.7zM518.6 459.1l2.7 2.7l-2.7 2.7l-2.7 -2.7zM519.7 459.1l2.7 2.7l-2.7 2.7l-2.7 -2.7zM520.8 459.1l2.7 2.7l-2.7 2.7l-2.7 -2.7zM521.8 459.1l2.7 2.7l-2.7 2.7l-2.7 -2.7zM522.9 459.1l2.7 2.7l-2.7 2.7l-2.7 -2.7zM523.9 459.1l2.7 2.7l-2.7 2.7l-2.7 -2.7zM525 459.1l2.7 2.7l-2.7 2.7l-2.7 -2.7zM526.1 459.1l2.7 2.7l-2.7 2.7l-2.7 -2.7zM527.1 459.1l2.7 2.7l-2.7 2.7l-2.7 -2.7zM528.2 459.1l2.7 2.7l-2.7 2.7l-2.7 -2.7zM529.2 459.1l2.7 2.7l-2.7 2.7l-2.7 -2.7zM530.3 459.1l2.7 2.7l-2.7 2.7l-2.7 -2.7zM531.4 459.1l2.7 2.7l-2.7 2.7l-2.7 -2.7zM532.4 459.1l2.7 2.7l-2.7 2.7l-2.7 -2.7zM533.5 459.1l2.7 2.7l-2.7 2.7l-2.7 -2.7zM534.5 459.1l2.7 2.7l-2.7 2.7l-2.7 -2.7zM535.6 459.1l2.7 2.7l-2.7 2.7l-2.7 -2.7zM536.7 459.1l2.7 2.7l-2.7 2.7l-2.7 -2.7zM537.7 459.1l2.7 2.7l-2.7 2.7l-2.7 -2.7zM538.8 459.1l2.7 2.7l-2.7 2.7l-2.7 -2.7zM539.8 459.1l2.7 2.7l-2.7 2.7l-2.7 -2.7zM540.9 459.1l2.7 2.7l-2.7 2.7l-2.7 -2.7zM541.9 459.1l2.7 2.7l-2.7 2.7l-2.7 -2.7zM543 459.1l2.7 2.7l-2.7 2.7l-2.7 -2.7zM544.1 459.1l2.7 2.7l-2.7 2.7l-2.7 -2.7zM545.1 459.1l2.7 2.7l-2.7 2.7l-2.7 -2.7zM546.2 459.1l2.7 2.7l-2.7 2.7l-2.7 -2.7zM547.2 459.1l2.7 2.7l-2.7 2.7l-2.7 -2.7zM548.3 459.1l2.7 2.7l-2.7 2.7l-2.7 -2.7zM549.4 459.1l2.7 2.7l-2.7 2.7l-2.7 -2.7zM550.4 459.1l2.7 2.7l-2.7 2.7l-2.7 -2.7zM551.5 459.1l2.7 2.7l-2.7 2.7l-2.7 -2.7zM552.5 459.1l2.7 2.7l-2.7 2.7l-2.7 -2.7zM553.6 459.1l2.7 2.7l-2.7 2.7l-2.7 -2.7zM554.7 459.1l2.7 2.7l-2.7 2.7l-2.7 -2.7zM555.7 459.1l2.7 2.7l-2.7 2.7l-2.7 -2.7zM556.8 459.1l2.7 2.7l-2.7 2.7l-2.7 -2.7zM557.8 459.1l2.7 2.7l-2.7 2.7l-2.7 -2.7zM558.9 459.1l2.7 2.7l-2.7 2.7l-2.7 -2.7zM560 459.1l2.7 2.7l-2.7 2.7l-2.7 -2.7zM561 459.1l2.7 2.7l-2.7 2.7l-2.7 -2.7zM562.1 459.1l2.7 2.7l-2.7 2.7l-2.7 -2.7zM563.1 459.1l2.7 2.7l-2.7 2.7l-2.7 -2.7zM564.2 459.1l2.7 2.7l-2.7 2.7l-2.7 -2.7zM565.3 459.1l2.7 2.7l-2.7 2.7l-2.7 -2.7zM566.3 459.1l2.7 2.7l-2.7 2.7l-2.7 -2.7zM567.4 459.1l2.7 2.7l-2.7 2.7l-2.7 -2.7zM568.4 459.1l2.7 2.7l-2.7 2.7l-2.7 -2.7zM569.5 459.1l2.7 2.7l-2.7 2.7l-2.7 -2.7zM570.6 459.1l2.7 2.7l-2.7 2.7l-2.7 -2.7zM571.6 459.1l2.7 2.7l-2.7 2.7l-2.7 -2.7zM572.7 459.1l2.7 2.7l-2.7 2.7l-2.7 -2.7zM573.7 459.1l2.7 2.7l-2.7 2.7l-2.7 -2.7zM574.8 459.1l2.7 2.7l-2.7 2.7l-2.7 -2.7zM575.9 459.1l2.7 2.7l-2.7 2.7l-2.7 -2.7zM576.9 459.1l2.7 2.7l-2.7 2.7l-2.7 -2.7zM578 459.1l2.7 2.7l-2.7 2.7l-2.7 -2.7zM579 459.1l2.7 2.7l-2.7 2.7l-2.7 -2.7zM580.1 459.1l2.7 2.7l-2.7 2.7l-2.7 -2.7zM581.2 459.1l2.7 2.7l-2.7 2.7l-2.7 -2.7zM582.2 459.1l2.7 2.7l-2.7 2.7l-2.7 -2.7zM583.3 459.1l2.7 2.7l-2.7 2.7l-2.7 -2.7zM584.3 459.1l2.7 2.7l-2.7 2.7l-2.7 -2.7zM585.4 459.1l2.7 2.7l-2.7 2.7l-2.7 -2.7zM586.5 459.1l2.7 2.7l-2.7 2.7l-2.7 -2.7zM587.5 459.1l2.7 2.7l-2.7 2.7l-2.7 -2.7zM588.6 459.1l2.7 2.7l-2.7 2.7l-2.7 -2.7zM589.6 459.1l2.7 2.7l-2.7 2.7l-2.7 -2.7zM590.7 459.1l2.7 2.7l-2.7 2.7l-2.7 -2.7zM591.8 459.1l2.7 2.7l-2.7 2.7l-2.7 -2.7zM592.8 459.1l2.7 2.7l-2.7 2.7l-2.7 -2.7zM593.9 459.1l2.7 2.7l-2.7 2.7l-2.7 -2.7zM594.9 459.1l2.7 2.7l-2.7 2.7l-2.7 -2.7zM596 459.1l2.7 2.7l-2.7 2.7l-2.7 -2.7zM597 459.1l2.7 2.7l-2.7 2.7l-2.7 -2.7zM598.1 459.1l2.7 2.7l-2.7 2.7l-2.7 -2.7zM599.2 459.1l2.7 2.7l-2.7 2.7l-2.7 -2.7zM600.2 459.1l2.7 2.7l-2.7 2.7l-2.7 -2.7zM601.3 459.1l2.7 2.7l-2.7 2.7l-2.7 -2.7zM602.3 459.1l2.7 2.7l-2.7 2.7l-2.7 -2.7zM603.4 459.1l2.7 2.7l-2.7 2.7l-2.7 -2.7zM604.5 459.1l2.7 2.7l-2.7 2.7l-2.7 -2.7zM605.5 459.1l2.7 2.7l-2.7 2.7l-2.7 -2.7zM606.6 459.1l2.7 2.7l-2.7 2.7l-2.7 -2.7zM607.6 459.1l2.7 2.7l-2.7 2.7l-2.7 -2.7zM608.7 459.1l2.7 2.7l-2.7 2.7l-2.7 -2.7zM609.8 459.1l2.7 2.7l-2.7 2.7l-2.7 -2.7zM610.8 459.1l2.7 2.7l-2.7 2.7l-2.7 -2.7zM611.9 459.1l2.7 2.7l-2.7 2.7l-2.7 -2.7zM612.9 459.1l2.7 2.7l-2.7 2.7l-2.7 -2.7zM614 459.1l2.7 2.7l-2.7 2.7l-2.7 -2.7zM615.1 459.1l2.7 2.7l-2.7 2.7l-2.7 -2.7zM616.1 459.1l2.7 2.7l-2.7 2.7l-2.7 -2.7zM617.2 459.1l2.7 2.7l-2.7 2.7l-2.7 -2.7zM618.2 459.1l2.7 2.7l-2.7 2.7l-2.7 -2.7z" fill="none" stroke="#00f000" stroke-width="1"/>
<polyline points="89.5,440 90.9,443.9 92.1,474.2 92.7,481.2 95,493.2 95.9,423.4 98.5,468.4 99.7,477.7 100.8,470.7 102,438.6 108.4,450.9 109.6,463.1 110.8,451.5 112.5,468.4 115.4,449.1 116,438.6 117.8,448.5 120.1,459.6 125.4,461.4 127.7,466.1 128.5,468.4 132.4,466.1 137,467.2 140.6,466.1 147.6,467.2 148.7,463.1 151.1,456.1 153.4,449.7 158.1,450.9 162.7,452.6 167.4,461.4 167.9,461 169,462.1 170,462.1 171.1,461.6 172.1,462.1 173.2,462.2 174.3,462.6 175.3,462.9 176.4,462.1 177.4,462.1 178.5,463.3 179.6,462.9 180.6,463.5 181.7,462.5 182.7,463.2 183.8,463.7 184.9,463.1 185.9,464.1 187,464 188,462.7 189.1,462.7 190.2,463.4 191.2,463.9 192.3,463.1 193.3,462.8 194.4,463.1 195.5,462.5 196.5,462.7 197.6,463 198.6,463.1 199.7,462.7 200.8,462.6 201.8,462.4 202.9,462.6 203.9,462.2 205,461.6 206.1,462.5 207.1,462 208.2,461.9 209.2,461.1 210.3,462 211.4,461.6 212.4,460.3 213.5,460.2 214.5,460.4 215.6,459.9 216.7,459.9 217.7,458.7 218.8,458.9 219.8,458.3 220.9,457.8 221.9,458.2 223,458.7 224.1,458.7 225.1,458.3 226.2,458.5 227.2,457.8 228.3,458.4 229.4,459.9 230.4,460.1 231.5,460.5 232.5,461.8 233.6,462.8 234.7,463.5 235.7,463.4 236.8,463.6 237.8,463.8 238.9,464.3 240,464 241,464 242.1,464.2 243.1,463.7 244.2,463.8 245.3,464.6 246.3,464.3 247.4,463 248.4,461.9 249.5,460.9 250.6,460.7 251.6,460.7 252.7,459.7 253.7,458.7 254.8,459.5 255.9,459.3 256.9,460.3 258,461.6 259,461.5 260.1,461.7 261.2,461.8 262.2,462.6 263.3,463.5 264.3,462.6 265.4,463.9 266.5,463.9 267.5,464 268.6,463.8 269.6,463.9 270.7,463.5 271.8,463.6 272.8,463.4 273.9,462.9 274.9,464 276,463.6 277,463.1 278.1,463.5 279.2,463.5 280.2,463.3 281.3,463.2 282.3,463.5 283.4,463.6 284.5,463.5 285.5,463.3 286.6,462.6 287.6,462.9 288.7,462.8 289.8,463.3 290.8,463.6 291.9,463.5 292.9,463.5 294,463.5 295.1,462.7 296.1,463.5 297.2,463.3 298.2,462.5 299.3,462.5 300.4,462.5 301.4,463.6 302.5,462.9 303.5,462.7 304.6,463.5 305.7,463.1 306.7,462.8 307.8,462.9 308.8,463.5 309.9,463 311,463.2 312,463.8 313.1,463.5 314.1,463.4 315.2,463.6 316.3,463 317.3,463.5 318.4,463.6 319.4,463.3 320.5,463.2 321.6,464.3 322.6,463.8 323.7,463.4 324.7,464 325.8,464.3 326.9,463.3 327.9,463.3 329,463.5 330,464.3 331.1,463.6 332.1,464.5 333.2,464.5 334.3,464.4 335.3,464.1 336.4,465.2 337.4,465.1 338.5,464.8 339.6,464.5 340.6,465.2 341.7,464.9 342.7,465.3 343.8,465 344.9,465.5 345.9,464.8 347,465.2 348,466.1 349.1,465.8 350.2,465 351.2,465.7 352.3,464.8 353.3,465.6 354.4,465.3 355.5,464.7 356.5,464.4 357.6,464 358.6,465.1 359.7,463.9 360.8,464.9 361.8,465.1 362.9,464.6 363.9,464 365,465 366.1,465.2 367.1,464.8 368.2,464.5 369.2,464.3 370.3,464.3 371.4,464.1 372.4,464.7 373.5,464.4 374.5,464.1 375.6,463.9 376.7,464.7 377.7,464.2 378.8,464.5 379.8,464.3 380.9,465 381.9,465.1 383,463.8 384.1,464.1 385.1,464.3 386.2,465.2 387.2,464.9 388.3,464.3 389.4,464.1 390.4,464.6 391.5,464.3 392.5,464 393.6,462.7 394.7,463 395.7,462.3 396.8,461.5 397.8,461.7 398.9,460.4 400,460.9 401,459.8 402.1,459.7 403.1,460.5 404.2,459.3 405.3,459.9 406.3,459.6 407.4,459.9 408.4,459.2 409.5,459.1 410.6,459 411.6,459.8 412.7,459.4 413.7,459.8 414.8,459.7 415.9,458.6 416.9,459.2 418,458.5 419,458.4 420.1,458.4 421.2,459.6 422.2,459.6 423.3,459.8 424.3,459.2 425.4,459.7 426.5,460 427.5,459.6 428.6,460 429.6,459.6 430.7,459.8 431.8,460.7 432.8,462.2 433.9,462.3 434.9,463.5 436,463.4 437,463.3 438.1,464.1 439.2,464.3 440.2,463.3 441.3,464.3 442.3,463.6 443.4,463.8 444.5,465 445.5,463.9 446.6,464.1 447.6,465.2 448.7,464.4 449.8,464 450.8,464 451.9,464.1 452.9,464.8 454,463.9 455.1,465.1 456.1,464.3 457.2,465.2 458.2,465.1 459.3,464.2 460.4,464.2 461.4,464.5 462.5,463.9 463.5,464.7 464.6,463.9 465.7,463.8 466.7,465.2 467.8,464.2 468.8,464.6 469.9,464.4 471,464.2 472,463.9 473.1,465.1 474.1,465.2 475.2,465.2 476.3,464 477.3,464.1 478.4,464.7 479.4,465.2 480.5,464.4 481.6,464.1 482.6,463.6 483.7,462.6 484.7,462.6 485.8,461.8 486.8,461.4 487.9,460.8 489,460.7 490,461.3 491.1,460.2 492.1,460.2 493.2,459.8 494.3,459.9 495.3,458.8 496.4,458.6 497.4,458.6 498.5,458.5 499.6,459.2 500.6,459.2 501.7,458.3 502.7,458.3 503.8,458.5 504.9,458.5 505.9,458.4 507,457.8 508,457.5 509.1,457.7 510.2,457.4 511.2,458.1 512.3,457.5 513.3,457.5 514.4,458.3 515.5,457.9 516.5,458.6 517.6,458.2 518.6,458.8 519.7,457.8 520.8,458.4 521.8,458.8 522.9,457.9 523.9,459.2 525,458.2 526.1,459.1 527.1,459.5 528.2,459.3 529.2,458.7 530.3,458.4 531.4,459 532.4,459.6 533.5,458.7 534.5,459.6 535.6,458.5 536.7,459.6 537.7,458.3 538.8,458.7 539.8,459.6 540.9,459.4 541.9,459.6 543,459.5 544.1,459.3 545.1,459.3 546.2,459.1 547.2,460 548.3,460.2 549.4,461.5 550.4,461.9 551.5,461.9 552.5,462 553.6,463.4 554.7,463.4 555.7,463.3 556.8,463.5 557.8,464.1 558.9,463.7 560,463.8 561,463.8 562.1,463.7 563.1,463.4 564.2,464.3 565.3,464.1 566.3,464.3 567.4,463.6 568.4,464.1 569.5,463.8 570.6,463.8 571.6,464.1 572.7,464.9 573.7,464.3 574.8,464.4 575.9,464.6 576.9,464 578,463.6 579,464.2 580.1,464.1 581.2,464.2 582.2,463.9 583.3,464.1 584.3,464.1 585.4,463.3 586.5,463.6 587.5,463.5 588.6,462.8 589.6,462.6 590.7,462.2 591.8,462.2 592.8,461.7 593.9,460.3 594.9,460.2 596,459.2 597,459.2 598.1,459.6 599.2,460 600.2,458.9 601.3,459.6 602.3,459.7 603.4,458.7 604.5,459.1 605.5,459.3 606.6,458.6 607.6,459.1 608.7,459.2 609.8,459 610.8,459.4 611.9,459.5 612.9,459.6 614,459 615.1,458.5 616.1,458.6 617.2,458.6 618.2,459.1" fill="none" stroke="#0000ff" stroke-width="0.8" stroke-dasharray="3 1.5 1 1.5" opacity="0.8"/>
<path d="M87.5 438.5h3.4v2.8h-3.4zM89.5 442.5h3.4v2.8h-3.4zM90.5 472.5h3.4v2.8h-3.4zM91.5 479.5h3.4v2.8h-3.4zM93.5 491.5h3.4v2.8h-3.4zM94.5 422.5h3.4v2.8h-3.4zM96.5 467.5h3.4v2.8h-3.4zM98.5 476.5h3.4v2.8h-3.4zM99.5 469.5h3.4v2.8h-3.4zM100.5 437.5h3.4v2.8h-3.4zM106.5 449.5h3.4v2.8h-3.4zM107.5 461.5h3.4v2.8h-3.4zM109.5 450.5h3.4v2.8h-3.4zM110.5 467.5h3.4v2.8h-3.4zM113.5 447.5h3.4v2.8h-3.4zM114.5 437.5h3.4v2.8h-3.4zM116.5 447.5h3.4v2.8h-3.4zM118.5 458.5h3.4v2.8h-3.4zM119.5 459.5h3.4v2.8h-3.4zM120.5 456.5h3.4v2.8h-3.4zM121.5 460.5h3.4v2.8h-3.4zM122.5 460.5h3.4v2.8h-3.4zM123.5 460.5h3.4v2.8h-3.4zM124.5 461.5h3.4v2.8h-3.4zM126.5 464.5h3.4v2.8h-3.4zM126.5 467.5h3.4v2.8h-3.4zM128.5 466.5h3.4v2.8h-3.4zM129.5 463.5h3.4v2.8h-3.4zM130.5 464.5h3.4v2.8h-3.4zM132.5 466.5h3.4v2.8h-3.4zM133.5 463.5h3.4v2.8h-3.4zM134.5 467.5h3.4v2.8h-3.4zM135.5 465.5h3.4v2.8h-3.4zM136.5 466.5h3.4v2.8h-3.4zM137.5 465.5h3.4v2.8h-3.4zM138.5 464.5h3.4v2.8h-3.4zM139.5 463.5h3.4v2.8h-3.4zM140.5 467.5h3.4v2.8h-3.4zM141.5 467.5h3.4v2.8h-3.4zM142.5 463.5h3.4v2.8h-3.4zM143.5 466.5h3.4v2.8h-3.4zM145.5 467.5h3.4v2.8h-3.4zM145.5 465.5h3.4v2.8h-3.4zM147.5 461.5h3.4v2.8h-3.4zM148.5 459.5h3.4v2.8h-3.4zM149.5 454.5h3.4v2.8h-3.4zM150.5 453.5h3.4v2.8h-3.4zM151.5 448.5h3.4v2.8h-3.4zM152.5 448.5h3.4v2.8h-3.4zM153.5 450.5h3.4v2.8h-3.4zM154.5 451.5h3.4v2.8h-3.4zM155.5 448.5h3.4v2.8h-3.4zM156.5 449.5h3.4v2.8h-3.4zM157.5 451.5h3.4v2.8h-3.4zM158.5 450.5h3.4v2.8h-3.4zM159.5 449.5h3.4v2.8h-3.4zM161.5 451.5h3.4v2.8h-3.4zM161.5 452.5h3.4v2.8h-3.4zM163.5 453.5h3.4v2.8h-3.4zM164.5 459.5h3.4v2.8h-3.4zM165.5 460.5h3.4v2.8h-3.4zM166.5 459.5h3.4v2.8h-3.4zM167.5 460.5h3.4v2.8h-3.4zM168.5 460.5h3.4v2.8h-3.4zM169.5 460.5h3.4v2.8h-3.4zM170.5 460.5h3.4v2.8h-3.4zM171.5 460.5h3.4v2.8h-3.4zM172.5 461.5h3.4v2.8h-3.4zM173.5 461.5h3.4v2.8h-3.4zM174.5 460.5h3.4v2.8h-3.4zM175.5 460.5h3.4v2.8h-3.4zM176.5 461.5h3.4v2.8h-3.4zM177.5 461.5h3.4v2.8h-3.4zM178.5 462.5h3.4v2.8h-3.4zM179.5 461.5h3.4v2.8h-3.4zM181.5 461.5h3.4v2.8h-3.4zM182.5 462.5h3.4v2.8h-3.4zM183.5 461.5h3.4v2.8h-3.4zM184.5 462.5h3.4v2.8h-3.4zM185.5 462.5h3.4v2.8h-3.4zM186.5 461.5h3.4v2.8h-3.4zM187.5 461.5h3.4v2.8h-3.4zM188.5 461.5h3.4v2.8h-3.4zM189.5 462.5h3.4v2.8h-3.4zM190.5 461.5h3.4v2.8h-3.4zM191.5 461.5h3.4v2.8h-3.4zM192.5 461.5h3.4v2.8h-3.4zM193.5 461.5h3.4v2.8h-3.4zM194.5 461.5h3.4v2.8h-3.4zM195.5 461.5h3.4v2.8h-3.4zM196.5 461.5h3.4v2.8h-3.4zM197.5 461.5h3.4v2.8h-3.4zM199.5 461.5h3.4v2.8h-3.4zM200.5 461.5h3.4v2.8h-3.4zM201.5 461.5h3.4v2.8h-3.4zM202.5 460.5h3.4v2.8h-3.4zM203.5 460.5h3.4v2.8h-3.4zM204.5 461.5h3.4v2.8h-3.4zM205.5 460.5h3.4v2.8h-3.4zM206.5 460.5h3.4v2.8h-3.4zM207.5 459.5h3.4v2.8h-3.4zM208.5 460.5h3.4v2.8h-3.4zM209.5 460.5h3.4v2.8h-3.4zM210.5 458.5h3.4v2.8h-3.4zM211.5 458.5h3.4v2.8h-3.4zM212.5 458.5h3.4v2.8h-3.4zM213.5 458.5h3.4v2.8h-3.4zM214.5 458.5h3.4v2.8h-3.4zM216.5 457.5h3.4v2.8h-3.4zM217.5 457.5h3.4v2.8h-3.4zM218.5 456.5h3.4v2.8h-3.4zM219.5 456.5h3.4v2.8h-3.4zM220.5 456.5h3.4v2.8h-3.4zM221.5 457.5h3.4v2.8h-3.4zM222.5 457.5h3.4v2.8h-3.4zM223.5 456.5h3.4v2.8h-3.4zM224.5 457.5h3.4v2.8h-3.4zM225.5 456.5h3.4v2.8h-3.4zM226.5 456.5h3.4v2.8h-3.4zM227.5 458.5h3.4v2.8h-3.4zM228.5 458.5h3.4v2.8h-3.4zM229.5 459.5h3.4v2.8h-3.4zM230.5 460.5h3.4v2.8h-3.4zM231.5 461.5h3.4v2.8h-3.4zM232.5 462.5h3.4v2.8h-3.4zM234.5 461.5h3.4v2.8h-3.4zM235.5 462.5h3.4v2.8h-3.4zM236.5 462.5h3.4v2.8h-3.4zM237.5 462.5h3.4v2.8h-3.4zM238.5 462.5h3.4v2.8h-3.4zM239.5 462.5h3.4v2.8h-3.4zM240.5 462.5h3.4v2.8h-3.4zM241.5 462.5h3.4v2.8h-3.4zM242.5 462.5h3.4v2.8h-3.4zM243.5 463.5h3.4v2.8h-3.4zM244.5 462.5h3.4v2.8h-3.4zM245.5 461.5h3.4v2.8h-3.4zM246.5 460.5h3.4v2.8h-3.4zM247.5 459.5h3.4v2.8h-3.4zM248.5 459.5h3.4v2.8h-3.4zM249.5 459.5h3.4v2.8h-3.4zM250.5 458.5h3.4v2.8h-3.4zM252.5 457.5h3.4v2.8h-3.4zM253.5 458.5h3.4v2.8h-3.4zM254.5 457.5h3.4v2.8h-3.4zM255.5 458.5h3.4v2.8h-3.4zM256.5 460.5h3.4v2.8h-3.4zM257.5 460.5h3.4v2.8h-3.4zM258.5 460.5h3.4v2.8h-3.4zM259.5 460.5h3.4v2.8h-3.4zM260.5 461.5h3.4v2.8h-3.4zM261.5 462.5h3.4v2.8h-3.4zM262.5 461.5h3.4v2.8h-3.4zM263.5 462.5h3.4v2.8h-3.4zM264.5 462.5h3.4v2.8h-3.4zM265.5 462.5h3.4v2.8h-3.4zM266.5 462.5h3.4v2.8h-3.4zM267.5 462.5h3.4v2.8h-3.4zM268.5 462.5h3.4v2.8h-3.4zM270.5 462.5h3.4v2.8h-3.4zM271.5 461.5h3.4v2.8h-3.4zM272.5 461.5h3.4v2.8h-3.4zM273.5 462.5h3.4v2.8h-3.4zM274.5 462.5h3.4v2.8h-3.4zM275.5 461.5h3.4v2.8h-3.4zM276.5 462.5h3.4v2.8h-3.4zM277.5 462.5h3.4v2.8h-3.4zM278.5 461.5h3.4v2.8h-3.4zM279.5 461.5h3.4v2.8h-3.4zM280.5 462.5h3.4v2.8h-3.4zM281.5 462.5h3.4v2.8h-3.4zM282.5 462.5h3.4v2.8h-3.4zM283.5 461.5h3.4v2.8h-3.4zM284.5 461.5h3.4v2.8h-3.4zM285.5 461.5h3.4v2.8h-3.4zM287.5 461.5h3.4v2.8h-3.4zM288.5 461.5h3.4v2.8h-3.4zM289.5 462.5h3.4v2.8h-3.4zM290.5 462.5h3.4v2.8h-3.4zM291.5 462.5h3.4v2.8h-3.4zM292.5 462.5h3.4v2.8h-3.4zM293.5 461.5h3.4v2.8h-3.4zM294.5 462.5h3.4v2.8h-3.4zM295.5 461.5h3.4v2.8h-3.4zM296.5 461.5h3.4v2.8h-3.4zM297.5 461.5h3.4v2.8h-3.4zM298.5 461.5h3.4v2.8h-3.4zM299.5 462.5h3.4v2.8h-3.4zM300.5 461.5h3.4v2.8h-3.4zM301.5 461.5h3.4v2.8h-3.4zM302.5 462.5h3.4v2.8h-3.4zM303.5 461.5h3.4v2.8h-3.4zM305.5 461.5h3.4v2.8h-3.4zM306.5 461.5h3.4v2.8h-3.4zM307.5 462.5h3.4v2.8h-3.4zM308.5 461.5h3.4v2.8h-3.4zM309.5 461.5h3.4v2.8h-3.4zM310.5 462.5h3.4v2.8h-3.4zM311.5 462.5h3.4v2.8h-3.4zM312.5 461.5h3.4v2.8h-3.4zM313.5 462.5h3.4v2.8h-3.4zM314.5 461.5h3.4v2.8h-3.4zM315.5 462.5h3.4v2.8h-3.4zM316.5 462.5h3.4v2.8h-3.4zM317.5 461.5h3.4v2.8h-3.4zM318.5 461.5h3.4v2.8h-3.4zM319.5 462.5h3.4v2.8h-3.4zM320.5 462.5h3.4v2.8h-3.4zM321.5 462.5h3.4v2.8h-3.4zM323.5 462.5h3.4v2.8h-3.4zM324.5 462.5h3.4v2.8h-3.4zM325.5 461.5h3.4v2.8h-3.4zM326.5 461.5h3.4v2.8h-3.4zM327.5 462.5h3.4v2.8h-3.4zM328.5 462.5h3.4v2.8h-3.4zM329.5 462.5h3.4v2.8h-3.4zM330.5 463.5h3.4v2.8h-3.4zM331.5 463.5h3.4v2.8h-3.4zM332.5 463.5h3.4v2.8h-3.4zM333.5 462.5h3.4v2.8h-3.4zM334.5 463.5h3.4v2.8h-3.4zM335.5 463.5h3.4v2.8h-3.4zM336.5 463.5h3.4v2.8h-3.4zM337.5 463.5h3.4v2.8h-3.4zM338.5 463.5h3.4v2.8h-3.4zM339.5 463.5h3.4v2.8h-3.4zM341.5 463.5h3.4v2.8h-3.4zM342.5 463.5h3.4v2.8h-3.4zM343.5 464.5h3.4v2.8h-3.4zM344.5 463.5h3.4v2.8h-3.4zM345.5 463.5h3.4v2.8h-3.4zM346.5 464.5h3.4v2.8h-3.4zM347.5 464.5h3.4v2.8h-3.4zM348.5 463.5h3.4v2.8h-3.4zM349.5 464.5h3.4v2.8h-3.4zM350.5 463.5h3.4v2.8h-3.4zM351.5 464.5h3.4v2.8h-3.4zM352.5 463.5h3.4v2.8h-3.4zM353.5 463.5h3.4v2.8h-3.4zM354.5 463.5h3.4v2.8h-3.4zM355.5 462.5h3.4v2.8h-3.4zM356.5 463.5h3.4v2.8h-3.4zM357.5 462.5h3.4v2.8h-3.4zM359.5 463.5h3.4v2.8h-3.4zM360.5 463.5h3.4v2.8h-3.4zM361.5 463.5h3.4v2.8h-3.4zM362.5 462.5h3.4v2.8h-3.4zM363.5 463.5h3.4v2.8h-3.4zM364.5 463.5h3.4v2.8h-3.4zM365.5 463.5h3.4v2.8h-3.4zM366.5 463.5h3.4v2.8h-3.4zM367.5 462.5h3.4v2.8h-3.4zM368.5 462.5h3.4v2.8h-3.4zM369.5 462.5h3.4v2.8h-3.4zM370.5 463.5h3.4v2.8h-3.4zM371.5 463.5h3.4v2.8h-3.4zM372.5 462.5h3.4v2.8h-3.4zM373.5 462.5h3.4v2.8h-3.4zM374.5 463.5h3.4v2.8h-3.4zM376.5 462.5h3.4v2.8h-3.4zM377.5 463.5h3.4v2.8h-3.4zM378.5 462.5h3.4v2.8h-3.4zM379.5 463.5h3.4v2.8h-3.4zM380.5 463.5h3.4v2.8h-3.4zM381.5 462.5h3.4v2.8h-3.4zM382.5 462.5h3.4v2.8h-3.4zM383.5 462.5h3.4v2.8h-3.4zM384.5 463.5h3.4v2.8h-3.4zM385.5 463.5h3.4v2.8h-3.4zM386.5 462.5h3.4v2.8h-3.4zM387.5 462.5h3.4v2.8h-3.4zM388.5 463.5h3.4v2.8h-3.4zM389.5 462.5h3.4v2.8h-3.4zM390.5 462.5h3.4v2.8h-3.4zM391.5 461.5h3.4v2.8h-3.4zM392.5 461.5h3.4v2.8h-3.4zM394.5 460.5h3.4v2.8h-3.4zM395.5 460.5h3.4v2.8h-3.4zM396.5 460.5h3.4v2.8h-3.4zM397.5 459.5h3.4v2.8h-3.4zM398.5 459.5h3.4v2.8h-3.4zM399.5 458.5h3.4v2.8h-3.4zM400.5 458.5h3.4v2.8h-3.4zM401.5 459.5h3.4v2.8h-3.4zM402.5 457.5h3.4v2.8h-3.4zM403.5 458.5h3.4v2.8h-3.4zM404.5 458.5h3.4v2.8h-3.4zM405.5 458.5h3.4v2.8h-3.4zM406.5 457.5h3.4v2.8h-3.4zM407.5 457.5h3.4v2.8h-3.4zM408.5 457.5h3.4v2.8h-3.4zM409.5 458.5h3.4v2.8h-3.4zM410.5 457.5h3.4v2.8h-3.4zM412.5 458.5h3.4v2.8h-3.4zM413.5 458.5h3.4v2.8h-3.4zM414.5 457.5h3.4v2.8h-3.4zM415.5 457.5h3.4v2.8h-3.4zM416.5 457.5h3.4v2.8h-3.4zM417.5 456.5h3.4v2.8h-3.4zM418.5 457.5h3.4v2.8h-3.4zM419.5 458.5h3.4v2.8h-3.4zM420.5 458.5h3.4v2.8h-3.4zM421.5 458.5h3.4v2.8h-3.4zM422.5 457.5h3.4v2.8h-3.4zM423.5 458.5h3.4v2.8h-3.4zM424.5 458.5h3.4v2.8h-3.4zM425.5 458.5h3.4v2.8h-3.4zM426.5 458.5h3.4v2.8h-3.4zM427.5 458.5h3.4v2.8h-3.4zM428.5 458.5h3.4v2.8h-3.4zM430.5 459.5h3.4v2.8h-3.4zM431.5 460.5h3.4v2.8h-3.4zM432.5 460.5h3.4v2.8h-3.4zM433.5 462.5h3.4v2.8h-3.4zM434.5 462.5h3.4v2.8h-3.4zM435.5 461.5h3.4v2.8h-3.4zM436.5 462.5h3.4v2.8h-3.4zM437.5 462.5h3.4v2.8h-3.4zM438.5 461.5h3.4v2.8h-3.4zM439.5 462.5h3.4v2.8h-3.4zM440.5 462.5h3.4v2.8h-3.4zM441.5 462.5h3.4v2.8h-3.4zM442.5 463.5h3.4v2.8h-3.4zM443.5 462.5h3.4v2.8h-3.4zM444.5 462.5h3.4v2.8h-3.4zM445.5 463.5h3.4v2.8h-3.4zM447.5 462.5h3.4v2.8h-3.4zM448.5 462.5h3.4v2.8h-3.4zM449.5 462.5h3.4v2.8h-3.4zM450.5 462.5h3.4v2.8h-3.4zM451.5 463.5h3.4v2.8h-3.4zM452.5 462.5h3.4v2.8h-3.4zM453.5 463.5h3.4v2.8h-3.4zM454.5 462.5h3.4v2.8h-3.4zM455.5 463.5h3.4v2.8h-3.4zM456.5 463.5h3.4v2.8h-3.4zM457.5 462.5h3.4v2.8h-3.4zM458.5 462.5h3.4v2.8h-3.4zM459.5 463.5h3.4v2.8h-3.4zM460.5 462.5h3.4v2.8h-3.4zM461.5 463.5h3.4v2.8h-3.4zM462.5 462.5h3.4v2.8h-3.4zM463.5 462.5h3.4v2.8h-3.4zM465.5 463.5h3.4v2.8h-3.4zM466.5 462.5h3.4v2.8h-3.4zM467.5 463.5h3.4v2.8h-3.4zM468.5 463.5h3.4v2.8h-3.4zM469.5 462.5h3.4v2.8h-3.4zM470.5 462.5h3.4v2.8h-3.4zM471.5 463.5h3.4v2.8h-3.4zM472.5 463.5h3.4v2.8h-3.4zM473.5 463.5h3.4v2.8h-3.4zM474.5 462.5h3.4v2.8h-3.4zM475.5 462.5h3.4v2.8h-3.4zM476.5 463.5h3.4v2.8h-3.4zM477.5 463.5h3.4v2.8h-3.4zM478.5 462.5h3.4v2.8h-3.4zM479.5 462.5h3.4v2.8h-3.4zM480.5 462.5h3.4v2.8h-3.4zM481.5 461.5h3.4v2.8h-3.4zM483.5 461.5h3.4v2.8h-3.4zM484.5 460.5h3.4v2.8h-3.4zM485.5 459.5h3.4v2.8h-3.4zM486.5 459.5h3.4v2.8h-3.4zM487.5 459.5h3.4v2.8h-3.4zM488.5 459.5h3.4v2.8h-3.4zM489.5 458.5h3.4v2.8h-3.4zM490.5 458.5h3.4v2.8h-3.4zM491.5 458.5h3.4v2.8h-3.4zM492.5 458.5h3.4v2.8h-3.4zM493.5 457.5h3.4v2.8h-3.4zM494.5 457.5h3.4v2.8h-3.4zM495.5 457.5h3.4v2.8h-3.4zM496.5 457.5h3.4v2.8h-3.4zM497.5 457.5h3.4v2.8h-3.4zM498.5 457.5h3.4v2.8h-3.4zM499.5 456.5h3.4v2.8h-3.4zM501.5 456.5h3.4v2.8h-3.4zM502.5 457.5h3.4v2.8h-3.4zM503.5 457.5h3.4v2.8h-3.4zM504.5 457.5h3.4v2.8h-3.4zM505.5 456.5h3.4v2.8h-3.4zM506.5 456.5h3.4v2.8h-3.4zM507.5 456.5h3.4v2.8h-3.4zM508.5 456.5h3.4v2.8h-3.4zM509.5 456.5h3.4v2.8h-3.4zM510.5 456.5h3.4v2.8h-3.4zM511.5 456.5h3.4v2.8h-3.4zM512.5 456.5h3.4v2.8h-3.4zM513.5 456.5h3.4v2.8h-3.4zM514.5 457.5h3.4v2.8h-3.4zM515.5 456.5h3.4v2.8h-3.4zM516.5 457.5h3.4v2.8h-3.4zM517.5 456.5h3.4v2.8h-3.4zM519.5 456.5h3.4v2.8h-3.4zM520.5 457.5h3.4v2.8h-3.4zM521.5 456.5h3.4v2.8h-3.4zM522.5 457.5h3.4v2.8h-3.4zM523.5 456.5h3.4v2.8h-3.4zM524.5 457.5h3.4v2.8h-3.4zM525.5 458.5h3.4v2.8h-3.4zM526.5 457.5h3.4v2.8h-3.4zM527.5 457.5h3.4v2.8h-3.4zM528.5 457.5h3.4v2.8h-3.4zM529.5 457.5h3.4v2.8h-3.4zM530.5 458.5h3.4v2.8h-3.4zM531.5 457.5h3.4v2.8h-3.4zM532.5 458.5h3.4v2.8h-3.4zM533.5 457.5h3.4v2.8h-3.4zM534.5 458.5h3.4v2.8h-3.4zM536.5 456.5h3.4v2.8h-3.4zM537.5 457.5h3.4v2.8h-3.4zM538.5 458.5h3.4v2.8h-3.4zM539.5 458.5h3.4v2.8h-3.4zM540.5 458.5h3.4v2.8h-3.4zM541.5 458.5h3.4v2.8h-3.4zM542.5 457.5h3.4v2.8h-3.4zM543.5 457.5h3.4v2.8h-3.4zM544.5 457.5h3.4v2.8h-3.4zM545.5 458.5h3.4v2.8h-3.4zM546.5 458.5h3.4v2.8h-3.4zM547.5 460.5h3.4v2.8h-3.4zM548.5 460.5h3.4v2.8h-3.4zM549.5 460.5h3.4v2.8h-3.4zM550.5 460.5h3.4v2.8h-3.4zM551.5 462.5h3.4v2.8h-3.4zM552.5 462.5h3.4v2.8h-3.4zM554.5 461.5h3.4v2.8h-3.4zM555.5 462.5h3.4v2.8h-3.4zM556.5 462.5h3.4v2.8h-3.4zM557.5 462.5h3.4v2.8h-3.4zM558.5 462.5h3.4v2.8h-3.4zM559.5 462.5h3.4v2.8h-3.4zM560.5 462.5h3.4v2.8h-3.4zM561.5 462.5h3.4v2.8h-3.4zM562.5 462.5h3.4v2.8h-3.4zM563.5 462.5h3.4v2.8h-3.4zM564.5 462.5h3.4v2.8h-3.4zM565.5 462.5h3.4v2.8h-3.4zM566.5 462.5h3.4v2.8h-3.4zM567.5 462.5h3.4v2.8h-3.4zM568.5 462.5h3.4v2.8h-3.4zM569.5 462.5h3.4v2.8h-3.4zM570.5 463.5h3.4v2.8h-3.4zM572.5 462.5h3.4v2.8h-3.4zM573.5 462.5h3.4v2.8h-3.4zM574.5 463.5h3.4v2.8h-3.4zM575.5 462.5h3.4v2.8h-3.4zM576.5 462.5h3.4v2.8h-3.4zM577.5 462.5h3.4v2.8h-3.4zM578.5 462.5h3.4v2.8h-3.4zM579.5 462.5h3.4v2.8h-3.4zM580.5 462.5h3.4v2.8h-3.4zM581.5 462.5h3.4v2.8h-3.4zM582.5 462.5h3.4v2.8h-3.4zM583.5 461.5h3.4v2.8h-3.4zM584.5 462.5h3.4v2.8h-3.4zM585.5 462.5h3.4v2.8h-3.4zM586.5 461.5h3.4v2.8h-3.4zM587.5 461.5h3.4v2.8h-3.4zM588.5 460.5h3.4v2.8h-3.4zM590.5 460.5h3.4v2.8h-3.4zM591.5 460.5h3.4v2.8h-3.4zM592.5 458.5h3.4v2.8h-3.4zM593.5 458.5h3.4v2.8h-3.4zM594.5 457.5h3.4v2.8h-3.4zM595.5 457.5h3.4v2.8h-3.4zM596.5 458.5h3.4v2.8h-3.4zM597.5 458.5h3.4v2.8h-3.4zM598.5 457.5h3.4v2.8h-3.4zM599.5 458.5h3.4v2.8h-3.4zM600.5 458.5h3.4v2.8h-3.4zM601.5 457.5h3.4v2.8h-3.4zM602.5 457.5h3.4v2.8h-3.4zM603.5 457.5h3.4v2.8h-3.4zM604.5 457.5h3.4v2.8h-3.4zM605.5 457.5h3.4v2.8h-3.4zM607.5 457.5h3.4v2.8h-3.4zM608.5 457.5h3.4v2.8h-3.4zM609.5 457.5h3.4v2.8h-3.4zM610.5 458.5h3.4v2.8h-3.4zM611.5 458.5h3.4v2.8h-3.4zM612.5 457.5h3.4v2.8h-3.4zM613.5 457.5h3.4v2.8h-3.4zM614.5 457.5h3.4v2.8h-3.4zM615.5 457.5h3.4v2.8h-3.4zM616.5 457.5h3.4v2.8h-3.4z" fill="none" stroke="#1a1aff" stroke-width="0.85"/>
<polyline points="90.9,478.9 95,470.7 99.7,460.2 110,457 118.4,452.6 123,452 134.7,457.9 160,458.5 200,459.6 260,460.4 350,461.4 619,461.9" fill="none" stroke="#00ffff" stroke-width="0.8" stroke-dasharray="3 1.5 1 1.5" opacity="0.8"/>
<path d="M89.9 477.5h3.4M91.6 475.8v3.4M91 475.3h3.4M92.7 473.6v3.4M92 473.2h3.4M93.7 471.5v3.4M93.1 471.1h3.4M94.8 469.4v3.4M94.2 468.8h3.4M95.9 467.1v3.4M95.2 466.4h3.4M96.9 464.7v3.4M96.3 464h3.4M98 462.3v3.4M97.3 461.7h3.4M99 460v3.4M98.4 460.1h3.4M100.1 458.4v3.4M99.5 459.7h3.4M101.2 458v3.4M100.5 459.4h3.4M102.2 457.7v3.4M101.6 459.1h3.4M103.3 457.4v3.4M102.6 458.8h3.4M104.3 457.1v3.4M103.7 458.4h3.4M105.4 456.7v3.4M104.8 458.1h3.4M106.5 456.4v3.4M105.8 457.8h3.4M107.5 456.1v3.4M106.9 457.4h3.4M108.6 455.7v3.4M107.9 457.1h3.4M109.6 455.4v3.4M109 456.6h3.4M110.7 454.9v3.4M110.1 456.1h3.4M111.8 454.4v3.4M111.1 455.5h3.4M112.8 453.8v3.4M112.2 455h3.4M113.9 453.3v3.4M113.2 454.4h3.4M114.9 452.7v3.4M114.3 453.9h3.4M116 452.2v3.4M115.3 453.3h3.4M117 451.6v3.4M116.4 452.8h3.4M118.1 451.1v3.4M117.5 452.5h3.4M119.2 450.8v3.4M118.5 452.4h3.4M120.2 450.7v3.4M119.6 452.2h3.4M121.3 450.5v3.4M120.6 452.1h3.4M122.3 450.4v3.4M121.7 452.2h3.4M123.4 450.5v3.4M122.8 452.7h3.4M124.5 451v3.4M123.8 453.3h3.4M125.5 451.6v3.4M124.9 453.8h3.4M126.6 452.1v3.4M125.9 454.3h3.4M127.6 452.6v3.4M127 454.9h3.4M128.7 453.2v3.4M128.1 455.4h3.4M129.8 453.7v3.4M129.1 455.9h3.4M130.8 454.2v3.4M130.2 456.5h3.4M131.9 454.8v3.4M131.2 457h3.4M132.9 455.3v3.4M132.3 457.5h3.4M134 455.8v3.4M133.4 457.9h3.4M135.1 456.2v3.4M134.4 457.9h3.4M136.1 456.2v3.4M135.5 458h3.4M137.2 456.3v3.4M136.5 458h3.4M138.2 456.3v3.4M137.6 458h3.4M139.3 456.3v3.4M138.7 458h3.4M140.4 456.3v3.4M139.7 458.1h3.4M141.4 456.4v3.4M140.8 458.1h3.4M142.5 456.4v3.4M141.8 458.1h3.4M143.5 456.4v3.4M142.9 458.1h3.4M144.6 456.4v3.4M144 458.2h3.4M145.7 456.5v3.4M145 458.2h3.4M146.7 456.5v3.4M146.1 458.2h3.4M147.8 456.5v3.4M147.1 458.2h3.4M148.8 456.5v3.4M148.2 458.3h3.4M149.9 456.6v3.4M149.3 458.3h3.4M151 456.6v3.4M150.3 458.3h3.4M152 456.6v3.4M151.4 458.3h3.4M153.1 456.6v3.4M152.4 458.4h3.4M154.1 456.7v3.4M153.5 458.4h3.4M155.2 456.7v3.4M154.6 458.4h3.4M156.3 456.7v3.4M155.6 458.4h3.4M157.3 456.7v3.4M156.7 458.5h3.4M158.4 456.8v3.4M157.7 458.5h3.4M159.4 456.8v3.4M158.8 458.5h3.4M160.5 456.8v3.4M159.9 458.5h3.4M161.6 456.8v3.4M160.9 458.6h3.4M162.6 456.9v3.4M162 458.6h3.4M163.7 456.9v3.4M163 458.6h3.4M164.7 456.9v3.4M164.1 458.7h3.4M165.8 457v3.4M165.2 458.7h3.4M166.9 457v3.4M166.2 458.7h3.4M167.9 457v3.4M167.3 458.7h3.4M169 457v3.4M168.3 458.8h3.4M170 457.1v3.4M169.4 458.8h3.4M171.1 457.1v3.4M170.4 458.8h3.4M172.1 457.1v3.4M171.5 458.9h3.4M173.2 457.2v3.4M172.6 458.9h3.4M174.3 457.2v3.4M173.6 458.9h3.4M175.3 457.2v3.4M174.7 459h3.4M176.4 457.3v3.4M175.7 459h3.4M177.4 457.3v3.4M176.8 459h3.4M178.5 457.3v3.4M177.9 459h3.4M179.6 457.3v3.4M178.9 459.1h3.4M180.6 457.4v3.4M180 459.1h3.4M181.7 457.4v3.4M181 459.1h3.4M182.7 457.4v3.4M182.1 459.2h3.4M183.8 457.5v3.4M183.2 459.2h3.4M184.9 457.5v3.4M184.2 459.2h3.4M185.9 457.5v3.4M185.3 459.2h3.4M187 457.5v3.4M186.3 459.3h3.4M188 457.6v3.4M187.4 459.3h3.4M189.1 457.6v3.4M188.5 459.3h3.4M190.2 457.6v3.4M189.5 459.4h3.4M191.2 457.7v3.4M190.6 459.4h3.4M192.3 457.7v3.4M191.6 459.4h3.4M193.3 457.7v3.4M192.7 459.4h3.4M194.4 457.7v3.4M193.8 459.5h3.4M195.5 457.8v3.4M194.8 459.5h3.4M196.5 457.8v3.4M195.9 459.5h3.4M197.6 457.8v3.4M196.9 459.6h3.4M198.6 457.9v3.4M198 459.6h3.4M199.7 457.9v3.4M199.1 459.6h3.4M200.8 457.9v3.4M200.1 459.6h3.4M201.8 457.9v3.4M201.2 459.6h3.4M202.9 457.9v3.4M202.2 459.7h3.4M203.9 458v3.4M203.3 459.7h3.4M205 458v3.4M204.4 459.7h3.4M206.1 458v3.4M205.4 459.7h3.4M207.1 458v3.4M206.5 459.7h3.4M208.2 458v3.4M207.5 459.7h3.4M209.2 458v3.4M208.6 459.7h3.4M210.3 458v3.4M209.7 459.8h3.4M211.4 458.1v3.4M210.7 459.8h3.4M212.4 458.1v3.4M211.8 459.8h3.4M213.5 458.1v3.4M212.8 459.8h3.4M214.5 458.1v3.4M213.9 459.8h3.4M215.6 458.1v3.4M215 459.8h3.4M216.7 458.1v3.4M216 459.8h3.4M217.7 458.1v3.4M217.1 459.9h3.4M218.8 458.2v3.4M218.1 459.9h3.4M219.8 458.2v3.4M219.2 459.9h3.4M220.9 458.2v3.4M220.2 459.9h3.4M221.9 458.2v3.4M221.3 459.9h3.4M223 458.2v3.4M222.4 459.9h3.4M224.1 458.2v3.4M223.4 459.9h3.4M225.1 458.2v3.4M224.5 459.9h3.4M226.2 458.2v3.4M225.5 460h3.4M227.2 458.3v3.4M226.6 460h3.4M228.3 458.3v3.4M227.7 460h3.4M229.4 458.3v3.4M228.7 460h3.4M230.4 458.3v3.4M229.8 460h3.4M231.5 458.3v3.4M230.8 460h3.4M232.5 458.3v3.4M231.9 460h3.4M233.6 458.3v3.4M233 460.1h3.4M234.7 458.4v3.4M234 460.1h3.4M235.7 458.4v3.4M235.1 460.1h3.4M236.8 458.4v3.4M236.1 460.1h3.4M237.8 458.4v3.4M237.2 460.1h3.4M238.9 458.4v3.4M238.3 460.1h3.4M240 458.4v3.4M239.3 460.1h3.4M241 458.4v3.4M240.4 460.2h3.4M242.1 458.5v3.4M241.4 460.2h3.4M243.1 458.5v3.4M242.5 460.2h3.4M244.2 458.5v3.4M243.6 460.2h3.4M245.3 458.5v3.4M244.6 460.2h3.4M246.3 458.5v3.4M245.7 460.2h3.4M247.4 458.5v3.4M246.7 460.2h3.4M248.4 458.5v3.4M247.8 460.3h3.4M249.5 458.6v3.4M248.9 460.3h3.4M250.6 458.6v3.4M249.9 460.3h3.4M251.6 458.6v3.4M251 460.3h3.4M252.7 458.6v3.4M252 460.3h3.4M253.7 458.6v3.4M253.1 460.3h3.4M254.8 458.6v3.4M254.2 460.3h3.4M255.9 458.6v3.4M255.2 460.4h3.4M256.9 458.7v3.4M256.3 460.4h3.4M258 458.7v3.4M257.3 460.4h3.4M259 458.7v3.4M258.4 460.4h3.4M260.1 458.7v3.4M259.5 460.4h3.4M261.2 458.7v3.4M260.5 460.4h3.4M262.2 458.7v3.4M261.6 460.4h3.4M263.3 458.7v3.4M262.6 460.4h3.4M264.3 458.7v3.4M263.7 460.5h3.4M265.4 458.8v3.4M264.8 460.5h3.4M266.5 458.8v3.4M265.8 460.5h3.4M267.5 458.8v3.4M266.9 460.5h3.4M268.6 458.8v3.4M267.9 460.5h3.4M269.6 458.8v3.4M269 460.5h3.4M270.7 458.8v3.4M270.1 460.5h3.4M271.8 458.8v3.4M271.1 460.5h3.4M272.8 458.8v3.4M272.2 460.6h3.4M273.9 458.9v3.4M273.2 460.6h3.4M274.9 458.9v3.4M274.3 460.6h3.4M276 458.9v3.4M275.3 460.6h3.4M277 458.9v3.4M276.4 460.6h3.4M278.1 458.9v3.4M277.5 460.6h3.4M279.2 458.9v3.4M278.5 460.6h3.4M280.2 458.9v3.4M279.6 460.6h3.4M281.3 458.9v3.4M280.6 460.6h3.4M282.3 458.9v3.4M281.7 460.7h3.4M283.4 459v3.4M282.8 460.7h3.4M284.5 459v3.4M283.8 460.7h3.4M285.5 459v3.4M284.9 460.7h3.4M286.6 459v3.4M285.9 460.7h3.4M287.6 459v3.4M287 460.7h3.4M288.7 459v3.4M288.1 460.7h3.4M289.8 459v3.4M289.1 460.7h3.4M290.8 459v3.4M290.2 460.8h3.4M291.9 459.1v3.4M291.2 460.8h3.4M292.9 459.1v3.4M292.3 460.8h3.4M294 459.1v3.4M293.4 460.8h3.4M295.1 459.1v3.4M294.4 460.8h3.4M296.1 459.1v3.4M295.5 460.8h3.4M297.2 459.1v3.4M296.5 460.8h3.4M298.2 459.1v3.4M297.6 460.8h3.4M299.3 459.1v3.4M298.7 460.8h3.4M300.4 459.1v3.4M299.7 460.9h3.4M301.4 459.2v3.4M300.8 460.9h3.4M302.5 459.2v3.4M301.8 460.9h3.4M303.5 459.2v3.4M302.9 460.9h3.4M304.6 459.2v3.4M304 460.9h3.4M305.7 459.2v3.4M305 460.9h3.4M306.7 459.2v3.4M306.1 460.9h3.4M307.8 459.2v3.4M307.1 460.9h3.4M308.8 459.2v3.4M308.2 461h3.4M309.9 459.3v3.4M309.3 461h3.4M311 459.3v3.4M310.3 461h3.4M312 459.3v3.4M311.4 461h3.4M313.1 459.3v3.4M312.4 461h3.4M314.1 459.3v3.4M313.5 461h3.4M315.2 459.3v3.4M314.6 461h3.4M316.3 459.3v3.4M315.6 461h3.4M317.3 459.3v3.4M316.7 461h3.4M318.4 459.3v3.4M317.7 461.1h3.4M319.4 459.4v3.4M318.8 461.1h3.4M320.5 459.4v3.4M319.9 461.1h3.4M321.6 459.4v3.4M320.9 461.1h3.4M322.6 459.4v3.4M322 461.1h3.4M323.7 459.4v3.4M323 461.1h3.4M324.7 459.4v3.4M324.1 461.1h3.4M325.8 459.4v3.4M325.2 461.1h3.4M326.9 459.4v3.4M326.2 461.2h3.4M327.9 459.5v3.4M327.3 461.2h3.4M329 459.5v3.4M328.3 461.2h3.4M330 459.5v3.4M329.4 461.2h3.4M331.1 459.5v3.4M330.4 461.2h3.4M332.1 459.5v3.4M331.5 461.2h3.4M333.2 459.5v3.4M332.6 461.2h3.4M334.3 459.5v3.4M333.6 461.2h3.4M335.3 459.5v3.4M334.7 461.2h3.4M336.4 459.5v3.4M335.7 461.3h3.4M337.4 459.6v3.4M336.8 461.3h3.4M338.5 459.6v3.4M337.9 461.3h3.4M339.6 459.6v3.4M338.9 461.3h3.4M340.6 459.6v3.4M340 461.3h3.4M341.7 459.6v3.4M341 461.3h3.4M342.7 459.6v3.4M342.1 461.3h3.4M343.8 459.6v3.4M343.2 461.3h3.4M344.9 459.6v3.4M344.2 461.4h3.4M345.9 459.7v3.4M345.3 461.4h3.4M347 459.7v3.4M346.3 461.4h3.4M348 459.7v3.4M347.4 461.4h3.4M349.1 459.7v3.4M348.5 461.4h3.4M350.2 459.7v3.4M349.5 461.4h3.4M351.2 459.7v3.4M350.6 461.4h3.4M352.3 459.7v3.4M351.6 461.4h3.4M353.3 459.7v3.4M352.7 461.4h3.4M354.4 459.7v3.4M353.8 461.4h3.4M355.5 459.7v3.4M354.8 461.4h3.4M356.5 459.7v3.4M355.9 461.4h3.4M357.6 459.7v3.4M356.9 461.4h3.4M358.6 459.7v3.4M358 461.4h3.4M359.7 459.7v3.4M359.1 461.4h3.4M360.8 459.7v3.4M360.1 461.4h3.4M361.8 459.7v3.4M361.2 461.4h3.4M362.9 459.7v3.4M362.2 461.4h3.4M363.9 459.7v3.4M363.3 461.4h3.4M365 459.7v3.4M364.4 461.4h3.4M366.1 459.7v3.4M365.4 461.4h3.4M367.1 459.7v3.4M366.5 461.4h3.4M368.2 459.7v3.4M367.5 461.4h3.4M369.2 459.7v3.4M368.6 461.4h3.4M370.3 459.7v3.4M369.7 461.4h3.4M371.4 459.7v3.4M370.7 461.4h3.4M372.4 459.7v3.4M371.8 461.4h3.4M373.5 459.7v3.4M372.8 461.4h3.4M374.5 459.7v3.4M373.9 461.4h3.4M375.6 459.7v3.4M375 461.4h3.4M376.7 459.7v3.4M376 461.5h3.4M377.7 459.8v3.4M377.1 461.5h3.4M378.8 459.8v3.4M378.1 461.5h3.4M379.8 459.8v3.4M379.2 461.5h3.4M380.9 459.8v3.4M380.2 461.5h3.4M381.9 459.8v3.4M381.3 461.5h3.4M383 459.8v3.4M382.4 461.5h3.4M384.1 459.8v3.4M383.4 461.5h3.4M385.1 459.8v3.4M384.5 461.5h3.4M386.2 459.8v3.4M385.5 461.5h3.4M387.2 459.8v3.4M386.6 461.5h3.4M388.3 459.8v3.4M387.7 461.5h3.4M389.4 459.8v3.4M388.7 461.5h3.4M390.4 459.8v3.4M389.8 461.5h3.4M391.5 459.8v3.4M390.8 461.5h3.4M392.5 459.8v3.4M391.9 461.5h3.4M393.6 459.8v3.4M393 461.5h3.4M394.7 459.8v3.4M394 461.5h3.4M395.7 459.8v3.4M395.1 461.5h3.4M396.8 459.8v3.4M396.1 461.5h3.4M397.8 459.8v3.4M397.2 461.5h3.4M398.9 459.8v3.4M398.3 461.5h3.4M400 459.8v3.4M399.3 461.5h3.4M401 459.8v3.4M400.4 461.5h3.4M402.1 459.8v3.4M401.4 461.5h3.4M403.1 459.8v3.4M402.5 461.5h3.4M404.2 459.8v3.4M403.6 461.5h3.4M405.3 459.8v3.4M404.6 461.5h3.4M406.3 459.8v3.4M405.7 461.5h3.4M407.4 459.8v3.4M406.7 461.5h3.4M408.4 459.8v3.4M407.8 461.5h3.4M409.5 459.8v3.4M408.9 461.5h3.4M410.6 459.8v3.4M409.9 461.5h3.4M411.6 459.8v3.4M411 461.5h3.4M412.7 459.8v3.4M412 461.5h3.4M413.7 459.8v3.4M413.1 461.5h3.4M414.8 459.8v3.4M414.2 461.5h3.4M415.9 459.8v3.4M415.2 461.5h3.4M416.9 459.8v3.4M416.3 461.5h3.4M418 459.8v3.4M417.3 461.5h3.4M419 459.8v3.4M418.4 461.5h3.4M420.1 459.8v3.4M419.5 461.5h3.4M421.2 459.8v3.4M420.5 461.5h3.4M422.2 459.8v3.4M421.6 461.5h3.4M423.3 459.8v3.4M422.6 461.5h3.4M424.3 459.8v3.4M423.7 461.5h3.4M425.4 459.8v3.4M424.8 461.5h3.4M426.5 459.8v3.4M425.8 461.5h3.4M427.5 459.8v3.4M426.9 461.5h3.4M428.6 459.8v3.4M427.9 461.5h3.4M429.6 459.8v3.4M429 461.5h3.4M430.7 459.8v3.4M430.1 461.6h3.4M431.8 459.9v3.4M431.1 461.6h3.4M432.8 459.9v3.4M432.2 461.6h3.4M433.9 459.9v3.4M433.2 461.6h3.4M434.9 459.9v3.4M434.3 461.6h3.4M436 459.9v3.4M435.3 461.6h3.4M437 459.9v3.4M436.4 461.6h3.4M438.1 459.9v3.4M437.5 461.6h3.4M439.2 459.9v3.4M438.5 461.6h3.4M440.2 459.9v3.4M439.6 461.6h3.4M441.3 459.9v3.4M440.6 461.6h3.4M442.3 459.9v3.4M441.7 461.6h3.4M443.4 459.9v3.4M442.8 461.6h3.4M444.5 459.9v3.4M443.8 461.6h3.4M445.5 459.9v3.4M444.9 461.6h3.4M446.6 459.9v3.4M445.9 461.6h3.4M447.6 459.9v3.4M447 461.6h3.4M448.7 459.9v3.4M448.1 461.6h3.4M449.8 459.9v3.4M449.1 461.6h3.4M450.8 459.9v3.4M450.2 461.6h3.4M451.9 459.9v3.4M451.2 461.6h3.4M452.9 459.9v3.4M452.3 461.6h3.4M454 459.9v3.4M453.4 461.6h3.4M455.1 459.9v3.4M454.4 461.6h3.4M456.1 459.9v3.4M455.5 461.6h3.4M457.2 459.9v3.4M456.5 461.6h3.4M458.2 459.9v3.4M457.6 461.6h3.4M459.3 459.9v3.4M458.7 461.6h3.4M460.4 459.9v3.4M459.7 461.6h3.4M461.4 459.9v3.4M460.8 461.6h3.4M462.5 459.9v3.4M461.8 461.6h3.4M463.5 459.9v3.4M462.9 461.6h3.4M464.6 459.9v3.4M464 461.6h3.4M465.7 459.9v3.4M465 461.6h3.4M466.7 459.9v3.4M466.1 461.6h3.4M467.8 459.9v3.4M467.1 461.6h3.4M468.8 459.9v3.4M468.2 461.6h3.4M469.9 459.9v3.4M469.3 461.6h3.4M471 459.9v3.4M470.3 461.6h3.4M472 459.9v3.4M471.4 461.6h3.4M473.1 459.9v3.4M472.4 461.6h3.4M474.1 459.9v3.4M473.5 461.6h3.4M475.2 459.9v3.4M474.6 461.6h3.4M476.3 459.9v3.4M475.6 461.6h3.4M477.3 459.9v3.4M476.7 461.6h3.4M478.4 459.9v3.4M477.7 461.6h3.4M479.4 459.9v3.4M478.8 461.6h3.4M480.5 459.9v3.4M479.9 461.6h3.4M481.6 459.9v3.4M480.9 461.6h3.4M482.6 459.9v3.4M482 461.6h3.4M483.7 459.9v3.4M483 461.7h3.4M484.7 460v3.4M484.1 461.7h3.4M485.8 460v3.4M485.1 461.7h3.4M486.8 460v3.4M486.2 461.7h3.4M487.9 460v3.4M487.3 461.7h3.4M489 460v3.4M488.3 461.7h3.4M490 460v3.4M489.4 461.7h3.4M491.1 460v3.4M490.4 461.7h3.4M492.1 460v3.4M491.5 461.7h3.4M493.2 460v3.4M492.6 461.7h3.4M494.3 460v3.4M493.6 461.7h3.4M495.3 460v3.4M494.7 461.7h3.4M496.4 460v3.4M495.7 461.7h3.4M497.4 460v3.4M496.8 461.7h3.4M498.5 460v3.4M497.9 461.7h3.4M499.6 460v3.4M498.9 461.7h3.4M500.6 460v3.4M500 461.7h3.4M501.7 460v3.4M501 461.7h3.4M502.7 460v3.4M502.1 461.7h3.4M503.8 460v3.4M503.2 461.7h3.4M504.9 460v3.4M504.2 461.7h3.4M505.9 460v3.4M505.3 461.7h3.4M507 460v3.4M506.3 461.7h3.4M508 460v3.4M507.4 461.7h3.4M509.1 460v3.4M508.5 461.7h3.4M510.2 460v3.4M509.5 461.7h3.4M511.2 460v3.4M510.6 461.7h3.4M512.3 460v3.4M511.6 461.7h3.4M513.3 460v3.4M512.7 461.7h3.4M514.4 460v3.4M513.8 461.7h3.4M515.5 460v3.4M514.8 461.7h3.4M516.5 460v3.4M515.9 461.7h3.4M517.6 460v3.4M516.9 461.7h3.4M518.6 460v3.4M518 461.7h3.4M519.7 460v3.4M519.1 461.7h3.4M520.8 460v3.4M520.1 461.7h3.4M521.8 460v3.4M521.2 461.7h3.4M522.9 460v3.4M522.2 461.7h3.4M523.9 460v3.4M523.3 461.7h3.4M525 460v3.4M524.4 461.7h3.4M526.1 460v3.4M525.4 461.7h3.4M527.1 460v3.4M526.5 461.7h3.4M528.2 460v3.4M527.5 461.7h3.4M529.2 460v3.4M528.6 461.7h3.4M530.3 460v3.4M529.7 461.7h3.4M531.4 460v3.4M530.7 461.7h3.4M532.4 460v3.4M531.8 461.7h3.4M533.5 460v3.4M532.8 461.7h3.4M534.5 460v3.4M533.9 461.7h3.4M535.6 460v3.4M535 461.7h3.4M536.7 460v3.4M536 461.7h3.4M537.7 460v3.4M537.1 461.8h3.4M538.8 460.1v3.4M538.1 461.8h3.4M539.8 460.1v3.4M539.2 461.8h3.4M540.9 460.1v3.4M540.2 461.8h3.4M541.9 460.1v3.4M541.3 461.8h3.4M543 460.1v3.4M542.4 461.8h3.4M544.1 460.1v3.4M543.4 461.8h3.4M545.1 460.1v3.4M544.5 461.8h3.4M546.2 460.1v3.4M545.5 461.8h3.4M547.2 460.1v3.4M546.6 461.8h3.4M548.3 460.1v3.4M547.7 461.8h3.4M549.4 460.1v3.4M548.7 461.8h3.4M550.4 460.1v3.4M549.8 461.8h3.4M551.5 460.1v3.4M550.8 461.8h3.4M552.5 460.1v3.4M551.9 461.8h3.4M553.6 460.1v3.4M553 461.8h3.4M554.7 460.1v3.4M554 461.8h3.4M555.7 460.1v3.4M555.1 461.8h3.4M556.8 460.1v3.4M556.1 461.8h3.4M557.8 460.1v3.4M557.2 461.8h3.4M558.9 460.1v3.4M558.3 461.8h3.4M560 460.1v3.4M559.3 461.8h3.4M561 460.1v3.4M560.4 461.8h3.4M562.1 460.1v3.4M561.4 461.8h3.4M563.1 460.1v3.4M562.5 461.8h3.4M564.2 460.1v3.4M563.6 461.8h3.4M565.3 460.1v3.4M564.6 461.8h3.4M566.3 460.1v3.4M565.7 461.8h3.4M567.4 460.1v3.4M566.7 461.8h3.4M568.4 460.1v3.4M567.8 461.8h3.4M569.5 460.1v3.4M568.9 461.8h3.4M570.6 460.1v3.4M569.9 461.8h3.4M571.6 460.1v3.4M571 461.8h3.4M572.7 460.1v3.4M572 461.8h3.4M573.7 460.1v3.4M573.1 461.8h3.4M574.8 460.1v3.4M574.2 461.8h3.4M575.9 460.1v3.4M575.2 461.8h3.4M576.9 460.1v3.4M576.3 461.8h3.4M578 460.1v3.4M577.3 461.8h3.4M579 460.1v3.4M578.4 461.8h3.4M580.1 460.1v3.4M579.5 461.8h3.4M581.2 460.1v3.4M580.5 461.8h3.4M582.2 460.1v3.4M581.6 461.8h3.4M583.3 460.1v3.4M582.6 461.8h3.4M584.3 460.1v3.4M583.7 461.8h3.4M585.4 460.1v3.4M584.8 461.8h3.4M586.5 460.1v3.4M585.8 461.8h3.4M587.5 460.1v3.4M586.9 461.8h3.4M588.6 460.1v3.4M587.9 461.8h3.4M589.6 460.1v3.4M589 461.8h3.4M590.7 460.1v3.4M590.1 461.8h3.4M591.8 460.1v3.4M591.1 461.9h3.4M592.8 460.2v3.4M592.2 461.9h3.4M593.9 460.2v3.4M593.2 461.9h3.4M594.9 460.2v3.4M594.3 461.9h3.4M596 460.2v3.4M595.3 461.9h3.4M597 460.2v3.4M596.4 461.9h3.4M598.1 460.2v3.4M597.5 461.9h3.4M599.2 460.2v3.4M598.5 461.9h3.4M600.2 460.2v3.4M599.6 461.9h3.4M601.3 460.2v3.4M600.6 461.9h3.4M602.3 460.2v3.4M601.7 461.9h3.4M603.4 460.2v3.4M602.8 461.9h3.4M604.5 460.2v3.4M603.8 461.9h3.4M605.5 460.2v3.4M604.9 461.9h3.4M606.6 460.2v3.4M605.9 461.9h3.4M607.6 460.2v3.4M607 461.9h3.4M608.7 460.2v3.4M608.1 461.9h3.4M609.8 460.2v3.4M609.1 461.9h3.4M610.8 460.2v3.4M610.2 461.9h3.4M611.9 460.2v3.4M611.2 461.9h3.4M612.9 460.2v3.4M612.3 461.9h3.4M614 460.2v3.4M613.4 461.9h3.4M615.1 460.2v3.4M614.4 461.9h3.4M616.1 460.2v3.4M615.5 461.9h3.4M617.2 460.2v3.4M616.5 461.9h3.4M618.2 460.2v3.4" fill="none" stroke="#00ffff" stroke-width="1"/>
<polyline points="89.8,466.1 94.4,470.7 97.5,465 101,462.5 104,460.5 112,459.5 115,457 119,455 123,455.5 127,457.3 134.7,459.6 146.4,459.6 158.1,457.3 168,457.9 200,459.5 260,460.3 350,461.3 420,462 480,462.2 575,461.9 619,461.8" fill="none" stroke="#ff00ff" stroke-width="4.1" stroke-linejoin="round" stroke-linecap="round" />
<polyline points="89.5,459.3 619,459.3" fill="none" stroke="#333" stroke-width="1"/>
<g fill="none">
<rect x="89.5" y="392.5" width="529.8" height="163.9" stroke="#8c8c8c" stroke-width="1.5"/>
<path d="M89.5 556.4v-5M89.5 392.5v5M142.5 556.4v-5M142.5 392.5v5M195.5 556.4v-5M195.5 392.5v5M248.4 556.4v-5M248.4 392.5v5M301.4 556.4v-5M301.4 392.5v5M354.4 556.4v-5M354.4 392.5v5M407.4 556.4v-5M407.4 392.5v5M460.4 556.4v-5M460.4 392.5v5M513.3 556.4v-5M513.3 392.5v5M566.3 556.4v-5M566.3 392.5v5M619.3 556.4v-5M619.3 392.5v5M89.5 392.5h5M619.3 392.5h-5M89.5 433.5h5M619.3 433.5h-5M89.5 474.4h5M619.3 474.4h-5M89.5 515.4h5M619.3 515.4h-5M89.5 556.4h5M619.3 556.4h-5" stroke="#6e6e6e" stroke-width="1.2"/>
</g>
<text x="84.6" y="397.8" font-size="15.5" text-anchor="end">4</text>
<text x="84.6" y="438.8" font-size="15.5" text-anchor="end">3</text>
<text x="84.6" y="479.8" font-size="15.5" text-anchor="end">2</text>
<text x="84.6" y="520.7" font-size="15.5" text-anchor="end">1</text>
<text x="84.6" y="561.7" font-size="15.5" text-anchor="end">0</text>
<text x="89.8" y="575.4" font-size="15.5" text-anchor="middle">0</text>
<text x="142.8" y="575.4" font-size="15.5" text-anchor="middle">50</text>
<text x="195.8" y="575.4" font-size="15.5" text-anchor="middle">100</text>
<text x="248.7" y="575.4" font-size="15.5" text-anchor="middle">150</text>
<text x="301.7" y="575.4" font-size="15.5" text-anchor="middle">200</text>
<text x="354.7" y="575.4" font-size="15.5" text-anchor="middle">250</text>
<text x="407.7" y="575.4" font-size="15.5" text-anchor="middle">300</text>
<text x="460.7" y="575.4" font-size="15.5" text-anchor="middle">350</text>
<text x="513.6" y="575.4" font-size="15.5" text-anchor="middle">400</text>
<text x="566.6" y="575.4" font-size="15.5" text-anchor="middle">450</text>
<text x="619.6" y="575.4" font-size="15.5" text-anchor="middle">500</text>
<path d="M91.4 381.6l6.6 7.2M98 381.6l-6.6 7.2" stroke="#222" stroke-width="1.2" fill="none"/>
<text x="101" y="389.2" font-size="14.8">10</text>
<text x="117.3" y="382.3" font-size="11.8">-3</text>
<text transform="translate(45.6,474.4) rotate(-90)" font-size="19.5" text-anchor="middle">Reactance</text>
<text transform="translate(70.6,474.4) rotate(-90)" font-size="19.5" text-anchor="middle">(Per Unit/Mile)</text>
<text x="354.5" y="599.4" font-size="19.6" text-anchor="middle">The number of estimations</text>
<rect x="154.7" y="609" width="399" height="45.8" fill="#fff" stroke="#8a8a8a" stroke-width="1"/>
<line x1="156" y1="620.9" x2="175" y2="620.9" stroke="#00f000" stroke-width="1" opacity="0.75" stroke-dasharray="3.2 1 1.2 1"/>
<path d="M165.4 618.3l2.1 2.6l-2.1 2.6l-2.1 -2.6z" fill="none" stroke="#00f000" stroke-width="1.1"/>
<line x1="264" y1="620.9" x2="282.8" y2="620.9" stroke="#0000ff" stroke-width="0.9" opacity="0.75" stroke-dasharray="3.2 1 1.2 1"/>
<rect x="271.2" y="619.6" width="3.8" height="2.5" fill="none" stroke="#0000ff" stroke-width="1"/>
<line x1="460.7" y1="620.9" x2="479" y2="620.9" stroke="#00ffff" stroke-width="1" opacity="0.75" stroke-dasharray="3.2 1 1.2 1"/>
<path d="M467.2 620.9h5M469.7 618.7v4.4" stroke="#00ffff" stroke-width="1"/>
<line x1="156" y1="642.9" x2="175" y2="642.9" stroke="#ff00ff" stroke-width="1" opacity="0.75" stroke-dasharray="3.2 1 1.2 1"/>
<circle cx="165.4" cy="642.9" r="1.8" fill="#ff00ff"/>
<line x1="264" y1="642.9" x2="282.6" y2="642.9" stroke="#222" stroke-width="1" opacity="1" />
<text x="175.8" y="627.3" font-size="17.3" letter-spacing="0.3">Normal KF</text>
<text x="284" y="627.3" font-size="17.3" letter-spacing="0.3">Adjusted Kalman gain</text>
<text x="479.2" y="627.3" font-size="17.3" letter-spacing="0.3">Fast KF1</text>
<text x="175.8" y="650.3" font-size="17.3" letter-spacing="0.3">Fast KF2</text>
<text x="284" y="650.3" font-size="17.3" letter-spacing="0.3">Actual value</text>
<text class="cap" x="0" y="731.4" font-size="30" letter-spacing="0.2"><tspan font-weight="bold">(b)</tspan> series reactance</text>
<polyline points="89.5,850 619,850" fill="none" stroke="#00f000" stroke-width="0.8" stroke-dasharray="3 1.5 1 1.5" opacity="0.8"/>
<path d="M89.5 847.3l2.7 2.7l-2.7 2.7l-2.7 -2.7zM90.6 847.3l2.7 2.7l-2.7 2.7l-2.7 -2.7zM91.6 847.3l2.7 2.7l-2.7 2.7l-2.7 -2.7zM92.7 847.3l2.7 2.7l-2.7 2.7l-2.7 -2.7zM93.7 847.3l2.7 2.7l-2.7 2.7l-2.7 -2.7zM94.8 847.3l2.7 2.7l-2.7 2.7l-2.7 -2.7zM95.9 847.3l2.7 2.7l-2.7 2.7l-2.7 -2.7zM96.9 847.3l2.7 2.7l-2.7 2.7l-2.7 -2.7zM98 847.3l2.7 2.7l-2.7 2.7l-2.7 -2.7zM99 847.3l2.7 2.7l-2.7 2.7l-2.7 -2.7zM100.1 847.3l2.7 2.7l-2.7 2.7l-2.7 -2.7zM101.2 847.3l2.7 2.7l-2.7 2.7l-2.7 -2.7zM102.2 847.3l2.7 2.7l-2.7 2.7l-2.7 -2.7zM103.3 847.3l2.7 2.7l-2.7 2.7l-2.7 -2.7zM104.3 847.3l2.7 2.7l-2.7 2.7l-2.7 -2.7zM105.4 847.3l2.7 2.7l-2.7 2.7l-2.7 -2.7zM106.5 847.3l2.7 2.7l-2.7 2.7l-2.7 -2.7zM107.5 847.3l2.7 2.7l-2.7 2.7l-2.7 -2.7zM108.6 847.3l2.7 2.7l-2.7 2.7l-2.7 -2.7zM109.6 847.3l2.7 2.7l-2.7 2.7l-2.7 -2.7zM110.7 847.3l2.7 2.7l-2.7 2.7l-2.7 -2.7zM111.8 847.3l2.7 2.7l-2.7 2.7l-2.7 -2.7zM112.8 847.3l2.7 2.7l-2.7 2.7l-2.7 -2.7zM113.9 847.3l2.7 2.7l-2.7 2.7l-2.7 -2.7zM114.9 847.3l2.7 2.7l-2.7 2.7l-2.7 -2.7zM116 847.3l2.7 2.7l-2.7 2.7l-2.7 -2.7zM117 847.3l2.7 2.7l-2.7 2.7l-2.7 -2.7zM118.1 847.3l2.7 2.7l-2.7 2.7l-2.7 -2.7zM119.2 847.3l2.7 2.7l-2.7 2.7l-2.7 -2.7zM120.2 847.3l2.7 2.7l-2.7 2.7l-2.7 -2.7zM121.3 847.3l2.7 2.7l-2.7 2.7l-2.7 -2.7zM122.3 847.3l2.7 2.7l-2.7 2.7l-2.7 -2.7zM123.4 847.3l2.7 2.7l-2.7 2.7l-2.7 -2.7zM124.5 847.3l2.7 2.7l-2.7 2.7l-2.7 -2.7zM125.5 847.3l2.7 2.7l-2.7 2.7l-2.7 -2.7zM126.6 847.3l2.7 2.7l-2.7 2.7l-2.7 -2.7zM127.6 847.3l2.7 2.7l-2.7 2.7l-2.7 -2.7zM128.7 847.3l2.7 2.7l-2.7 2.7l-2.7 -2.7zM129.8 847.3l2.7 2.7l-2.7 2.7l-2.7 -2.7zM130.8 847.3l2.7 2.7l-2.7 2.7l-2.7 -2.7zM131.9 847.3l2.7 2.7l-2.7 2.7l-2.7 -2.7zM132.9 847.3l2.7 2.7l-2.7 2.7l-2.7 -2.7zM134 847.3l2.7 2.7l-2.7 2.7l-2.7 -2.7zM135.1 847.3l2.7 2.7l-2.7 2.7l-2.7 -2.7zM136.1 847.3l2.7 2.7l-2.7 2.7l-2.7 -2.7zM137.2 847.3l2.7 2.7l-2.7 2.7l-2.7 -2.7zM138.2 847.3l2.7 2.7l-2.7 2.7l-2.7 -2.7zM139.3 847.3l2.7 2.7l-2.7 2.7l-2.7 -2.7zM140.4 847.3l2.7 2.7l-2.7 2.7l-2.7 -2.7zM141.4 847.3l2.7 2.7l-2.7 2.7l-2.7 -2.7zM142.5 847.3l2.7 2.7l-2.7 2.7l-2.7 -2.7zM143.5 847.3l2.7 2.7l-2.7 2.7l-2.7 -2.7zM144.6 847.3l2.7 2.7l-2.7 2.7l-2.7 -2.7zM145.7 847.3l2.7 2.7l-2.7 2.7l-2.7 -2.7zM146.7 847.3l2.7 2.7l-2.7 2.7l-2.7 -2.7zM147.8 847.3l2.7 2.7l-2.7 2.7l-2.7 -2.7zM148.8 847.3l2.7 2.7l-2.7 2.7l-2.7 -2.7zM149.9 847.3l2.7 2.7l-2.7 2.7l-2.7 -2.7zM151 847.3l2.7 2.7l-2.7 2.7l-2.7 -2.7zM152 847.3l2.7 2.7l-2.7 2.7l-2.7 -2.7zM153.1 847.3l2.7 2.7l-2.7 2.7l-2.7 -2.7zM154.1 847.3l2.7 2.7l-2.7 2.7l-2.7 -2.7zM155.2 847.3l2.7 2.7l-2.7 2.7l-2.7 -2.7zM156.3 847.3l2.7 2.7l-2.7 2.7l-2.7 -2.7zM157.3 847.3l2.7 2.7l-2.7 2.7l-2.7 -2.7zM158.4 847.3l2.7 2.7l-2.7 2.7l-2.7 -2.7zM159.4 847.3l2.7 2.7l-2.7 2.7l-2.7 -2.7zM160.5 847.3l2.7 2.7l-2.7 2.7l-2.7 -2.7zM161.6 847.3l2.7 2.7l-2.7 2.7l-2.7 -2.7zM162.6 847.3l2.7 2.7l-2.7 2.7l-2.7 -2.7zM163.7 847.3l2.7 2.7l-2.7 2.7l-2.7 -2.7zM164.7 847.3l2.7 2.7l-2.7 2.7l-2.7 -2.7zM165.8 847.3l2.7 2.7l-2.7 2.7l-2.7 -2.7zM166.9 847.3l2.7 2.7l-2.7 2.7l-2.7 -2.7zM167.9 847.3l2.7 2.7l-2.7 2.7l-2.7 -2.7zM169 847.3l2.7 2.7l-2.7 2.7l-2.7 -2.7zM170 847.3l2.7 2.7l-2.7 2.7l-2.7 -2.7zM171.1 847.3l2.7 2.7l-2.7 2.7l-2.7 -2.7zM172.1 847.3l2.7 2.7l-2.7 2.7l-2.7 -2.7zM173.2 847.3l2.7 2.7l-2.7 2.7l-2.7 -2.7zM174.3 847.3l2.7 2.7l-2.7 2.7l-2.7 -2.7zM175.3 847.3l2.7 2.7l-2.7 2.7l-2.7 -2.7zM176.4 847.3l2.7 2.7l-2.7 2.7l-2.7 -2.7zM177.4 847.3l2.7 2.7l-2.7 2.7l-2.7 -2.7zM178.5 847.3l2.7 2.7l-2.7 2.7l-2.7 -2.7zM179.6 847.3l2.7 2.7l-2.7 2.7l-2.7 -2.7zM180.6 847.3l2.7 2.7l-2.7 2.7l-2.7 -2.7zM181.7 847.3l2.7 2.7l-2.7 2.7l-2.7 -2.7zM182.7 847.3l2.7 2.7l-2.7 2.7l-2.7 -2.7zM183.8 847.3l2.7 2.7l-2.7 2.7l-2.7 -2.7zM184.9 847.3l2.7 2.7l-2.7 2.7l-2.7 -2.7zM185.9 847.3l2.7 2.7l-2.7 2.7l-2.7 -2.7zM187 847.3l2.7 2.7l-2.7 2.7l-2.7 -2.7zM188 847.3l2.7 2.7l-2.7 2.7l-2.7 -2.7zM189.1 847.3l2.7 2.7l-2.7 2.7l-2.7 -2.7zM190.2 847.3l2.7 2.7l-2.7 2.7l-2.7 -2.7zM191.2 847.3l2.7 2.7l-2.7 2.7l-2.7 -2.7zM192.3 847.3l2.7 2.7l-2.7 2.7l-2.7 -2.7zM193.3 847.3l2.7 2.7l-2.7 2.7l-2.7 -2.7zM194.4 847.3l2.7 2.7l-2.7 2.7l-2.7 -2.7zM195.5 847.3l2.7 2.7l-2.7 2.7l-2.7 -2.7zM196.5 847.3l2.7 2.7l-2.7 2.7l-2.7 -2.7zM197.6 847.3l2.7 2.7l-2.7 2.7l-2.7 -2.7zM198.6 847.3l2.7 2.7l-2.7 2.7l-2.7 -2.7zM199.7 847.3l2.7 2.7l-2.7 2.7l-2.7 -2.7zM200.8 847.3l2.7 2.7l-2.7 2.7l-2.7 -2.7zM201.8 847.3l2.7 2.7l-2.7 2.7l-2.7 -2.7zM202.9 847.3l2.7 2.7l-2.7 2.7l-2.7 -2.7zM203.9 847.3l2.7 2.7l-2.7 2.7l-2.7 -2.7zM205 847.3l2.7 2.7l-2.7 2.7l-2.7 -2.7zM206.1 847.3l2.7 2.7l-2.7 2.7l-2.7 -2.7zM207.1 847.3l2.7 2.7l-2.7 2.7l-2.7 -2.7zM208.2 847.3l2.7 2.7l-2.7 2.7l-2.7 -2.7zM209.2 847.3l2.7 2.7l-2.7 2.7l-2.7 -2.7zM210.3 847.3l2.7 2.7l-2.7 2.7l-2.7 -2.7zM211.4 847.3l2.7 2.7l-2.7 2.7l-2.7 -2.7zM212.4 847.3l2.7 2.7l-2.7 2.7l-2.7 -2.7zM213.5 847.3l2.7 2.7l-2.7 2.7l-2.7 -2.7zM214.5 847.3l2.7 2.7l-2.7 2.7l-2.7 -2.7zM215.6 847.3l2.7 2.7l-2.7 2.7l-2.7 -2.7zM216.7 847.3l2.7 2.7l-2.7 2.7l-2.7 -2.7zM217.7 847.3l2.7 2.7l-2.7 2.7l-2.7 -2.7zM218.8 847.3l2.7 2.7l-2.7 2.7l-2.7 -2.7zM219.8 847.3l2.7 2.7l-2.7 2.7l-2.7 -2.7zM220.9 847.3l2.7 2.7l-2.7 2.7l-2.7 -2.7zM221.9 847.3l2.7 2.7l-2.7 2.7l-2.7 -2.7zM223 847.3l2.7 2.7l-2.7 2.7l-2.7 -2.7zM224.1 847.3l2.7 2.7l-2.7 2.7l-2.7 -2.7zM225.1 847.3l2.7 2.7l-2.7 2.7l-2.7 -2.7zM226.2 847.3l2.7 2.7l-2.7 2.7l-2.7 -2.7zM227.2 847.3l2.7 2.7l-2.7 2.7l-2.7 -2.7zM228.3 847.3l2.7 2.7l-2.7 2.7l-2.7 -2.7zM229.4 847.3l2.7 2.7l-2.7 2.7l-2.7 -2.7zM230.4 847.3l2.7 2.7l-2.7 2.7l-2.7 -2.7zM231.5 847.3l2.7 2.7l-2.7 2.7l-2.7 -2.7zM232.5 847.3l2.7 2.7l-2.7 2.7l-2.7 -2.7zM233.6 847.3l2.7 2.7l-2.7 2.7l-2.7 -2.7zM234.7 847.3l2.7 2.7l-2.7 2.7l-2.7 -2.7zM235.7 847.3l2.7 2.7l-2.7 2.7l-2.7 -2.7zM236.8 847.3l2.7 2.7l-2.7 2.7l-2.7 -2.7zM237.8 847.3l2.7 2.7l-2.7 2.7l-2.7 -2.7zM238.9 847.3l2.7 2.7l-2.7 2.7l-2.7 -2.7zM240 847.3l2.7 2.7l-2.7 2.7l-2.7 -2.7zM241 847.3l2.7 2.7l-2.7 2.7l-2.7 -2.7zM242.1 847.3l2.7 2.7l-2.7 2.7l-2.7 -2.7zM243.1 847.3l2.7 2.7l-2.7 2.7l-2.7 -2.7zM244.2 847.3l2.7 2.7l-2.7 2.7l-2.7 -2.7zM245.3 847.3l2.7 2.7l-2.7 2.7l-2.7 -2.7zM246.3 847.3l2.7 2.7l-2.7 2.7l-2.7 -2.7zM247.4 847.3l2.7 2.7l-2.7 2.7l-2.7 -2.7zM248.4 847.3l2.7 2.7l-2.7 2.7l-2.7 -2.7zM249.5 847.3l2.7 2.7l-2.7 2.7l-2.7 -2.7zM250.6 847.3l2.7 2.7l-2.7 2.7l-2.7 -2.7zM251.6 847.3l2.7 2.7l-2.7 2.7l-2.7 -2.7zM252.7 847.3l2.7 2.7l-2.7 2.7l-2.7 -2.7zM253.7 847.3l2.7 2.7l-2.7 2.7l-2.7 -2.7zM254.8 847.3l2.7 2.7l-2.7 2.7l-2.7 -2.7zM255.9 847.3l2.7 2.7l-2.7 2.7l-2.7 -2.7zM256.9 847.3l2.7 2.7l-2.7 2.7l-2.7 -2.7zM258 847.3l2.7 2.7l-2.7 2.7l-2.7 -2.7zM259 847.3l2.7 2.7l-2.7 2.7l-2.7 -2.7zM260.1 847.3l2.7 2.7l-2.7 2.7l-2.7 -2.7zM261.2 847.3l2.7 2.7l-2.7 2.7l-2.7 -2.7zM262.2 847.3l2.7 2.7l-2.7 2.7l-2.7 -2.7zM263.3 847.3l2.7 2.7l-2.7 2.7l-2.7 -2.7zM264.3 847.3l2.7 2.7l-2.7 2.7l-2.7 -2.7zM265.4 847.3l2.7 2.7l-2.7 2.7l-2.7 -2.7zM266.5 847.3l2.7 2.7l-2.7 2.7l-2.7 -2.7zM267.5 847.3l2.7 2.7l-2.7 2.7l-2.7 -2.7zM268.6 847.3l2.7 2.7l-2.7 2.7l-2.7 -2.7zM269.6 847.3l2.7 2.7l-2.7 2.7l-2.7 -2.7zM270.7 847.3l2.7 2.7l-2.7 2.7l-2.7 -2.7zM271.8 847.3l2.7 2.7l-2.7 2.7l-2.7 -2.7zM272.8 847.3l2.7 2.7l-2.7 2.7l-2.7 -2.7zM273.9 847.3l2.7 2.7l-2.7 2.7l-2.7 -2.7zM274.9 847.3l2.7 2.7l-2.7 2.7l-2.7 -2.7zM276 847.3l2.7 2.7l-2.7 2.7l-2.7 -2.7zM277 847.3l2.7 2.7l-2.7 2.7l-2.7 -2.7zM278.1 847.3l2.7 2.7l-2.7 2.7l-2.7 -2.7zM279.2 847.3l2.7 2.7l-2.7 2.7l-2.7 -2.7zM280.2 847.3l2.7 2.7l-2.7 2.7l-2.7 -2.7zM281.3 847.3l2.7 2.7l-2.7 2.7l-2.7 -2.7zM282.3 847.3l2.7 2.7l-2.7 2.7l-2.7 -2.7zM283.4 847.3l2.7 2.7l-2.7 2.7l-2.7 -2.7zM284.5 847.3l2.7 2.7l-2.7 2.7l-2.7 -2.7zM285.5 847.3l2.7 2.7l-2.7 2.7l-2.7 -2.7zM286.6 847.3l2.7 2.7l-2.7 2.7l-2.7 -2.7zM287.6 847.3l2.7 2.7l-2.7 2.7l-2.7 -2.7zM288.7 847.3l2.7 2.7l-2.7 2.7l-2.7 -2.7zM289.8 847.3l2.7 2.7l-2.7 2.7l-2.7 -2.7zM290.8 847.3l2.7 2.7l-2.7 2.7l-2.7 -2.7zM291.9 847.3l2.7 2.7l-2.7 2.7l-2.7 -2.7zM292.9 847.3l2.7 2.7l-2.7 2.7l-2.7 -2.7zM294 847.3l2.7 2.7l-2.7 2.7l-2.7 -2.7zM295.1 847.3l2.7 2.7l-2.7 2.7l-2.7 -2.7zM296.1 847.3l2.7 2.7l-2.7 2.7l-2.7 -2.7zM297.2 847.3l2.7 2.7l-2.7 2.7l-2.7 -2.7zM298.2 847.3l2.7 2.7l-2.7 2.7l-2.7 -2.7zM299.3 847.3l2.7 2.7l-2.7 2.7l-2.7 -2.7zM300.4 847.3l2.7 2.7l-2.7 2.7l-2.7 -2.7zM301.4 847.3l2.7 2.7l-2.7 2.7l-2.7 -2.7zM302.5 847.3l2.7 2.7l-2.7 2.7l-2.7 -2.7zM303.5 847.3l2.7 2.7l-2.7 2.7l-2.7 -2.7zM304.6 847.3l2.7 2.7l-2.7 2.7l-2.7 -2.7zM305.7 847.3l2.7 2.7l-2.7 2.7l-2.7 -2.7zM306.7 847.3l2.7 2.7l-2.7 2.7l-2.7 -2.7zM307.8 847.3l2.7 2.7l-2.7 2.7l-2.7 -2.7zM308.8 847.3l2.7 2.7l-2.7 2.7l-2.7 -2.7zM309.9 847.3l2.7 2.7l-2.7 2.7l-2.7 -2.7zM311 847.3l2.7 2.7l-2.7 2.7l-2.7 -2.7zM312 847.3l2.7 2.7l-2.7 2.7l-2.7 -2.7zM313.1 847.3l2.7 2.7l-2.7 2.7l-2.7 -2.7zM314.1 847.3l2.7 2.7l-2.7 2.7l-2.7 -2.7zM315.2 847.3l2.7 2.7l-2.7 2.7l-2.7 -2.7zM316.3 847.3l2.7 2.7l-2.7 2.7l-2.7 -2.7zM317.3 847.3l2.7 2.7l-2.7 2.7l-2.7 -2.7zM318.4 847.3l2.7 2.7l-2.7 2.7l-2.7 -2.7zM319.4 847.3l2.7 2.7l-2.7 2.7l-2.7 -2.7zM320.5 847.3l2.7 2.7l-2.7 2.7l-2.7 -2.7zM321.6 847.3l2.7 2.7l-2.7 2.7l-2.7 -2.7zM322.6 847.3l2.7 2.7l-2.7 2.7l-2.7 -2.7zM323.7 847.3l2.7 2.7l-2.7 2.7l-2.7 -2.7zM324.7 847.3l2.7 2.7l-2.7 2.7l-2.7 -2.7zM325.8 847.3l2.7 2.7l-2.7 2.7l-2.7 -2.7zM326.9 847.3l2.7 2.7l-2.7 2.7l-2.7 -2.7zM327.9 847.3l2.7 2.7l-2.7 2.7l-2.7 -2.7zM329 847.3l2.7 2.7l-2.7 2.7l-2.7 -2.7zM330 847.3l2.7 2.7l-2.7 2.7l-2.7 -2.7zM331.1 847.3l2.7 2.7l-2.7 2.7l-2.7 -2.7zM332.1 847.3l2.7 2.7l-2.7 2.7l-2.7 -2.7zM333.2 847.3l2.7 2.7l-2.7 2.7l-2.7 -2.7zM334.3 847.3l2.7 2.7l-2.7 2.7l-2.7 -2.7zM335.3 847.3l2.7 2.7l-2.7 2.7l-2.7 -2.7zM336.4 847.3l2.7 2.7l-2.7 2.7l-2.7 -2.7zM337.4 847.3l2.7 2.7l-2.7 2.7l-2.7 -2.7zM338.5 847.3l2.7 2.7l-2.7 2.7l-2.7 -2.7zM339.6 847.3l2.7 2.7l-2.7 2.7l-2.7 -2.7zM340.6 847.3l2.7 2.7l-2.7 2.7l-2.7 -2.7zM341.7 847.3l2.7 2.7l-2.7 2.7l-2.7 -2.7zM342.7 847.3l2.7 2.7l-2.7 2.7l-2.7 -2.7zM343.8 847.3l2.7 2.7l-2.7 2.7l-2.7 -2.7zM344.9 847.3l2.7 2.7l-2.7 2.7l-2.7 -2.7zM345.9 847.3l2.7 2.7l-2.7 2.7l-2.7 -2.7zM347 847.3l2.7 2.7l-2.7 2.7l-2.7 -2.7zM348 847.3l2.7 2.7l-2.7 2.7l-2.7 -2.7zM349.1 847.3l2.7 2.7l-2.7 2.7l-2.7 -2.7zM350.2 847.3l2.7 2.7l-2.7 2.7l-2.7 -2.7zM351.2 847.3l2.7 2.7l-2.7 2.7l-2.7 -2.7zM352.3 847.3l2.7 2.7l-2.7 2.7l-2.7 -2.7zM353.3 847.3l2.7 2.7l-2.7 2.7l-2.7 -2.7zM354.4 847.3l2.7 2.7l-2.7 2.7l-2.7 -2.7zM355.5 847.3l2.7 2.7l-2.7 2.7l-2.7 -2.7zM356.5 847.3l2.7 2.7l-2.7 2.7l-2.7 -2.7zM357.6 847.3l2.7 2.7l-2.7 2.7l-2.7 -2.7zM358.6 847.3l2.7 2.7l-2.7 2.7l-2.7 -2.7zM359.7 847.3l2.7 2.7l-2.7 2.7l-2.7 -2.7zM360.8 847.3l2.7 2.7l-2.7 2.7l-2.7 -2.7zM361.8 847.3l2.7 2.7l-2.7 2.7l-2.7 -2.7zM362.9 847.3l2.7 2.7l-2.7 2.7l-2.7 -2.7zM363.9 847.3l2.7 2.7l-2.7 2.7l-2.7 -2.7zM365 847.3l2.7 2.7l-2.7 2.7l-2.7 -2.7zM366.1 847.3l2.7 2.7l-2.7 2.7l-2.7 -2.7zM367.1 847.3l2.7 2.7l-2.7 2.7l-2.7 -2.7zM368.2 847.3l2.7 2.7l-2.7 2.7l-2.7 -2.7zM369.2 847.3l2.7 2.7l-2.7 2.7l-2.7 -2.7zM370.3 847.3l2.7 2.7l-2.7 2.7l-2.7 -2.7zM371.4 847.3l2.7 2.7l-2.7 2.7l-2.7 -2.7zM372.4 847.3l2.7 2.7l-2.7 2.7l-2.7 -2.7zM373.5 847.3l2.7 2.7l-2.7 2.7l-2.7 -2.7zM374.5 847.3l2.7 2.7l-2.7 2.7l-2.7 -2.7zM375.6 847.3l2.7 2.7l-2.7 2.7l-2.7 -2.7zM376.7 847.3l2.7 2.7l-2.7 2.7l-2.7 -2.7zM377.7 847.3l2.7 2.7l-2.7 2.7l-2.7 -2.7zM378.8 847.3l2.7 2.7l-2.7 2.7l-2.7 -2.7zM379.8 847.3l2.7 2.7l-2.7 2.7l-2.7 -2.7zM380.9 847.3l2.7 2.7l-2.7 2.7l-2.7 -2.7zM381.9 847.3l2.7 2.7l-2.7 2.7l-2.7 -2.7zM383 847.3l2.7 2.7l-2.7 2.7l-2.7 -2.7zM384.1 847.3l2.7 2.7l-2.7 2.7l-2.7 -2.7zM385.1 847.3l2.7 2.7l-2.7 2.7l-2.7 -2.7zM386.2 847.3l2.7 2.7l-2.7 2.7l-2.7 -2.7zM387.2 847.3l2.7 2.7l-2.7 2.7l-2.7 -2.7zM388.3 847.3l2.7 2.7l-2.7 2.7l-2.7 -2.7zM389.4 847.3l2.7 2.7l-2.7 2.7l-2.7 -2.7zM390.4 847.3l2.7 2.7l-2.7 2.7l-2.7 -2.7zM391.5 847.3l2.7 2.7l-2.7 2.7l-2.7 -2.7zM392.5 847.3l2.7 2.7l-2.7 2.7l-2.7 -2.7zM393.6 847.3l2.7 2.7l-2.7 2.7l-2.7 -2.7zM394.7 847.3l2.7 2.7l-2.7 2.7l-2.7 -2.7zM395.7 847.3l2.7 2.7l-2.7 2.7l-2.7 -2.7zM396.8 847.3l2.7 2.7l-2.7 2.7l-2.7 -2.7zM397.8 847.3l2.7 2.7l-2.7 2.7l-2.7 -2.7zM398.9 847.3l2.7 2.7l-2.7 2.7l-2.7 -2.7zM400 847.3l2.7 2.7l-2.7 2.7l-2.7 -2.7zM401 847.3l2.7 2.7l-2.7 2.7l-2.7 -2.7zM402.1 847.3l2.7 2.7l-2.7 2.7l-2.7 -2.7zM403.1 847.3l2.7 2.7l-2.7 2.7l-2.7 -2.7zM404.2 847.3l2.7 2.7l-2.7 2.7l-2.7 -2.7zM405.3 847.3l2.7 2.7l-2.7 2.7l-2.7 -2.7zM406.3 847.3l2.7 2.7l-2.7 2.7l-2.7 -2.7zM407.4 847.3l2.7 2.7l-2.7 2.7l-2.7 -2.7zM408.4 847.3l2.7 2.7l-2.7 2.7l-2.7 -2.7zM409.5 847.3l2.7 2.7l-2.7 2.7l-2.7 -2.7zM410.6 847.3l2.7 2.7l-2.7 2.7l-2.7 -2.7zM411.6 847.3l2.7 2.7l-2.7 2.7l-2.7 -2.7zM412.7 847.3l2.7 2.7l-2.7 2.7l-2.7 -2.7zM413.7 847.3l2.7 2.7l-2.7 2.7l-2.7 -2.7zM414.8 847.3l2.7 2.7l-2.7 2.7l-2.7 -2.7zM415.9 847.3l2.7 2.7l-2.7 2.7l-2.7 -2.7zM416.9 847.3l2.7 2.7l-2.7 2.7l-2.7 -2.7zM418 847.3l2.7 2.7l-2.7 2.7l-2.7 -2.7zM419 847.3l2.7 2.7l-2.7 2.7l-2.7 -2.7zM420.1 847.3l2.7 2.7l-2.7 2.7l-2.7 -2.7zM421.2 847.3l2.7 2.7l-2.7 2.7l-2.7 -2.7zM422.2 847.3l2.7 2.7l-2.7 2.7l-2.7 -2.7zM423.3 847.3l2.7 2.7l-2.7 2.7l-2.7 -2.7zM424.3 847.3l2.7 2.7l-2.7 2.7l-2.7 -2.7zM425.4 847.3l2.7 2.7l-2.7 2.7l-2.7 -2.7zM426.5 847.3l2.7 2.7l-2.7 2.7l-2.7 -2.7zM427.5 847.3l2.7 2.7l-2.7 2.7l-2.7 -2.7zM428.6 847.3l2.7 2.7l-2.7 2.7l-2.7 -2.7zM429.6 847.3l2.7 2.7l-2.7 2.7l-2.7 -2.7zM430.7 847.3l2.7 2.7l-2.7 2.7l-2.7 -2.7zM431.8 847.3l2.7 2.7l-2.7 2.7l-2.7 -2.7zM432.8 847.3l2.7 2.7l-2.7 2.7l-2.7 -2.7zM433.9 847.3l2.7 2.7l-2.7 2.7l-2.7 -2.7zM434.9 847.3l2.7 2.7l-2.7 2.7l-2.7 -2.7zM436 847.3l2.7 2.7l-2.7 2.7l-2.7 -2.7zM437 847.3l2.7 2.7l-2.7 2.7l-2.7 -2.7zM438.1 847.3l2.7 2.7l-2.7 2.7l-2.7 -2.7zM439.2 847.3l2.7 2.7l-2.7 2.7l-2.7 -2.7zM440.2 847.3l2.7 2.7l-2.7 2.7l-2.7 -2.7zM441.3 847.3l2.7 2.7l-2.7 2.7l-2.7 -2.7zM442.3 847.3l2.7 2.7l-2.7 2.7l-2.7 -2.7zM443.4 847.3l2.7 2.7l-2.7 2.7l-2.7 -2.7zM444.5 847.3l2.7 2.7l-2.7 2.7l-2.7 -2.7zM445.5 847.3l2.7 2.7l-2.7 2.7l-2.7 -2.7zM446.6 847.3l2.7 2.7l-2.7 2.7l-2.7 -2.7zM447.6 847.3l2.7 2.7l-2.7 2.7l-2.7 -2.7zM448.7 847.3l2.7 2.7l-2.7 2.7l-2.7 -2.7zM449.8 847.3l2.7 2.7l-2.7 2.7l-2.7 -2.7zM450.8 847.3l2.7 2.7l-2.7 2.7l-2.7 -2.7zM451.9 847.3l2.7 2.7l-2.7 2.7l-2.7 -2.7zM452.9 847.3l2.7 2.7l-2.7 2.7l-2.7 -2.7zM454 847.3l2.7 2.7l-2.7 2.7l-2.7 -2.7zM455.1 847.3l2.7 2.7l-2.7 2.7l-2.7 -2.7zM456.1 847.3l2.7 2.7l-2.7 2.7l-2.7 -2.7zM457.2 847.3l2.7 2.7l-2.7 2.7l-2.7 -2.7zM458.2 847.3l2.7 2.7l-2.7 2.7l-2.7 -2.7zM459.3 847.3l2.7 2.7l-2.7 2.7l-2.7 -2.7zM460.4 847.3l2.7 2.7l-2.7 2.7l-2.7 -2.7zM461.4 847.3l2.7 2.7l-2.7 2.7l-2.7 -2.7zM462.5 847.3l2.7 2.7l-2.7 2.7l-2.7 -2.7zM463.5 847.3l2.7 2.7l-2.7 2.7l-2.7 -2.7zM464.6 847.3l2.7 2.7l-2.7 2.7l-2.7 -2.7zM465.7 847.3l2.7 2.7l-2.7 2.7l-2.7 -2.7zM466.7 847.3l2.7 2.7l-2.7 2.7l-2.7 -2.7zM467.8 847.3l2.7 2.7l-2.7 2.7l-2.7 -2.7zM468.8 847.3l2.7 2.7l-2.7 2.7l-2.7 -2.7zM469.9 847.3l2.7 2.7l-2.7 2.7l-2.7 -2.7zM471 847.3l2.7 2.7l-2.7 2.7l-2.7 -2.7zM472 847.3l2.7 2.7l-2.7 2.7l-2.7 -2.7zM473.1 847.3l2.7 2.7l-2.7 2.7l-2.7 -2.7zM474.1 847.3l2.7 2.7l-2.7 2.7l-2.7 -2.7zM475.2 847.3l2.7 2.7l-2.7 2.7l-2.7 -2.7zM476.3 847.3l2.7 2.7l-2.7 2.7l-2.7 -2.7zM477.3 847.3l2.7 2.7l-2.7 2.7l-2.7 -2.7zM478.4 847.3l2.7 2.7l-2.7 2.7l-2.7 -2.7zM479.4 847.3l2.7 2.7l-2.7 2.7l-2.7 -2.7zM480.5 847.3l2.7 2.7l-2.7 2.7l-2.7 -2.7zM481.6 847.3l2.7 2.7l-2.7 2.7l-2.7 -2.7zM482.6 847.3l2.7 2.7l-2.7 2.7l-2.7 -2.7zM483.7 847.3l2.7 2.7l-2.7 2.7l-2.7 -2.7zM484.7 847.3l2.7 2.7l-2.7 2.7l-2.7 -2.7zM485.8 847.3l2.7 2.7l-2.7 2.7l-2.7 -2.7zM486.8 847.3l2.7 2.7l-2.7 2.7l-2.7 -2.7zM487.9 847.3l2.7 2.7l-2.7 2.7l-2.7 -2.7zM489 847.3l2.7 2.7l-2.7 2.7l-2.7 -2.7zM490 847.3l2.7 2.7l-2.7 2.7l-2.7 -2.7zM491.1 847.3l2.7 2.7l-2.7 2.7l-2.7 -2.7zM492.1 847.3l2.7 2.7l-2.7 2.7l-2.7 -2.7zM493.2 847.3l2.7 2.7l-2.7 2.7l-2.7 -2.7zM494.3 847.3l2.7 2.7l-2.7 2.7l-2.7 -2.7zM495.3 847.3l2.7 2.7l-2.7 2.7l-2.7 -2.7zM496.4 847.3l2.7 2.7l-2.7 2.7l-2.7 -2.7zM497.4 847.3l2.7 2.7l-2.7 2.7l-2.7 -2.7zM498.5 847.3l2.7 2.7l-2.7 2.7l-2.7 -2.7zM499.6 847.3l2.7 2.7l-2.7 2.7l-2.7 -2.7zM500.6 847.3l2.7 2.7l-2.7 2.7l-2.7 -2.7zM501.7 847.3l2.7 2.7l-2.7 2.7l-2.7 -2.7zM502.7 847.3l2.7 2.7l-2.7 2.7l-2.7 -2.7zM503.8 847.3l2.7 2.7l-2.7 2.7l-2.7 -2.7zM504.9 847.3l2.7 2.7l-2.7 2.7l-2.7 -2.7zM505.9 847.3l2.7 2.7l-2.7 2.7l-2.7 -2.7zM507 847.3l2.7 2.7l-2.7 2.7l-2.7 -2.7zM508 847.3l2.7 2.7l-2.7 2.7l-2.7 -2.7zM509.1 847.3l2.7 2.7l-2.7 2.7l-2.7 -2.7zM510.2 847.3l2.7 2.7l-2.7 2.7l-2.7 -2.7zM511.2 847.3l2.7 2.7l-2.7 2.7l-2.7 -2.7zM512.3 847.3l2.7 2.7l-2.7 2.7l-2.7 -2.7zM513.3 847.3l2.7 2.7l-2.7 2.7l-2.7 -2.7zM514.4 847.3l2.7 2.7l-2.7 2.7l-2.7 -2.7zM515.5 847.3l2.7 2.7l-2.7 2.7l-2.7 -2.7zM516.5 847.3l2.7 2.7l-2.7 2.7l-2.7 -2.7zM517.6 847.3l2.7 2.7l-2.7 2.7l-2.7 -2.7zM518.6 847.3l2.7 2.7l-2.7 2.7l-2.7 -2.7zM519.7 847.3l2.7 2.7l-2.7 2.7l-2.7 -2.7zM520.8 847.3l2.7 2.7l-2.7 2.7l-2.7 -2.7zM521.8 847.3l2.7 2.7l-2.7 2.7l-2.7 -2.7zM522.9 847.3l2.7 2.7l-2.7 2.7l-2.7 -2.7zM523.9 847.3l2.7 2.7l-2.7 2.7l-2.7 -2.7zM525 847.3l2.7 2.7l-2.7 2.7l-2.7 -2.7zM526.1 847.3l2.7 2.7l-2.7 2.7l-2.7 -2.7zM527.1 847.3l2.7 2.7l-2.7 2.7l-2.7 -2.7zM528.2 847.3l2.7 2.7l-2.7 2.7l-2.7 -2.7zM529.2 847.3l2.7 2.7l-2.7 2.7l-2.7 -2.7zM530.3 847.3l2.7 2.7l-2.7 2.7l-2.7 -2.7zM531.4 847.3l2.7 2.7l-2.7 2.7l-2.7 -2.7zM532.4 847.3l2.7 2.7l-2.7 2.7l-2.7 -2.7zM533.5 847.3l2.7 2.7l-2.7 2.7l-2.7 -2.7zM534.5 847.3l2.7 2.7l-2.7 2.7l-2.7 -2.7zM535.6 847.3l2.7 2.7l-2.7 2.7l-2.7 -2.7zM536.7 847.3l2.7 2.7l-2.7 2.7l-2.7 -2.7zM537.7 847.3l2.7 2.7l-2.7 2.7l-2.7 -2.7zM538.8 847.3l2.7 2.7l-2.7 2.7l-2.7 -2.7zM539.8 847.3l2.7 2.7l-2.7 2.7l-2.7 -2.7zM540.9 847.3l2.7 2.7l-2.7 2.7l-2.7 -2.7zM541.9 847.3l2.7 2.7l-2.7 2.7l-2.7 -2.7zM543 847.3l2.7 2.7l-2.7 2.7l-2.7 -2.7zM544.1 847.3l2.7 2.7l-2.7 2.7l-2.7 -2.7zM545.1 847.3l2.7 2.7l-2.7 2.7l-2.7 -2.7zM546.2 847.3l2.7 2.7l-2.7 2.7l-2.7 -2.7zM547.2 847.3l2.7 2.7l-2.7 2.7l-2.7 -2.7zM548.3 847.3l2.7 2.7l-2.7 2.7l-2.7 -2.7zM549.4 847.3l2.7 2.7l-2.7 2.7l-2.7 -2.7zM550.4 847.3l2.7 2.7l-2.7 2.7l-2.7 -2.7zM551.5 847.3l2.7 2.7l-2.7 2.7l-2.7 -2.7zM552.5 847.3l2.7 2.7l-2.7 2.7l-2.7 -2.7zM553.6 847.3l2.7 2.7l-2.7 2.7l-2.7 -2.7zM554.7 847.3l2.7 2.7l-2.7 2.7l-2.7 -2.7zM555.7 847.3l2.7 2.7l-2.7 2.7l-2.7 -2.7zM556.8 847.3l2.7 2.7l-2.7 2.7l-2.7 -2.7zM557.8 847.3l2.7 2.7l-2.7 2.7l-2.7 -2.7zM558.9 847.3l2.7 2.7l-2.7 2.7l-2.7 -2.7zM560 847.3l2.7 2.7l-2.7 2.7l-2.7 -2.7zM561 847.3l2.7 2.7l-2.7 2.7l-2.7 -2.7zM562.1 847.3l2.7 2.7l-2.7 2.7l-2.7 -2.7zM563.1 847.3l2.7 2.7l-2.7 2.7l-2.7 -2.7zM564.2 847.3l2.7 2.7l-2.7 2.7l-2.7 -2.7zM565.3 847.3l2.7 2.7l-2.7 2.7l-2.7 -2.7zM566.3 847.3l2.7 2.7l-2.7 2.7l-2.7 -2.7zM567.4 847.3l2.7 2.7l-2.7 2.7l-2.7 -2.7zM568.4 847.3l2.7 2.7l-2.7 2.7l-2.7 -2.7zM569.5 847.3l2.7 2.7l-2.7 2.7l-2.7 -2.7zM570.6 847.3l2.7 2.7l-2.7 2.7l-2.7 -2.7zM571.6 847.3l2.7 2.7l-2.7 2.7l-2.7 -2.7zM572.7 847.3l2.7 2.7l-2.7 2.7l-2.7 -2.7zM573.7 847.3l2.7 2.7l-2.7 2.7l-2.7 -2.7zM574.8 847.3l2.7 2.7l-2.7 2.7l-2.7 -2.7zM575.9 847.3l2.7 2.7l-2.7 2.7l-2.7 -2.7zM576.9 847.3l2.7 2.7l-2.7 2.7l-2.7 -2.7zM578 847.3l2.7 2.7l-2.7 2.7l-2.7 -2.7zM579 847.3l2.7 2.7l-2.7 2.7l-2.7 -2.7zM580.1 847.3l2.7 2.7l-2.7 2.7l-2.7 -2.7zM581.2 847.3l2.7 2.7l-2.7 2.7l-2.7 -2.7zM582.2 847.3l2.7 2.7l-2.7 2.7l-2.7 -2.7zM583.3 847.3l2.7 2.7l-2.7 2.7l-2.7 -2.7zM584.3 847.3l2.7 2.7l-2.7 2.7l-2.7 -2.7zM585.4 847.3l2.7 2.7l-2.7 2.7l-2.7 -2.7zM586.5 847.3l2.7 2.7l-2.7 2.7l-2.7 -2.7zM587.5 847.3l2.7 2.7l-2.7 2.7l-2.7 -2.7zM588.6 847.3l2.7 2.7l-2.7 2.7l-2.7 -2.7zM589.6 847.3l2.7 2.7l-2.7 2.7l-2.7 -2.7zM590.7 847.3l2.7 2.7l-2.7 2.7l-2.7 -2.7zM591.8 847.3l2.7 2.7l-2.7 2.7l-2.7 -2.7zM592.8 847.3l2.7 2.7l-2.7 2.7l-2.7 -2.7zM593.9 847.3l2.7 2.7l-2.7 2.7l-2.7 -2.7zM594.9 847.3l2.7 2.7l-2.7 2.7l-2.7 -2.7zM596 847.3l2.7 2.7l-2.7 2.7l-2.7 -2.7zM597 847.3l2.7 2.7l-2.7 2.7l-2.7 -2.7zM598.1 847.3l2.7 2.7l-2.7 2.7l-2.7 -2.7zM599.2 847.3l2.7 2.7l-2.7 2.7l-2.7 -2.7zM600.2 847.3l2.7 2.7l-2.7 2.7l-2.7 -2.7zM601.3 847.3l2.7 2.7l-2.7 2.7l-2.7 -2.7zM602.3 847.3l2.7 2.7l-2.7 2.7l-2.7 -2.7zM603.4 847.3l2.7 2.7l-2.7 2.7l-2.7 -2.7zM604.5 847.3l2.7 2.7l-2.7 2.7l-2.7 -2.7zM605.5 847.3l2.7 2.7l-2.7 2.7l-2.7 -2.7zM606.6 847.3l2.7 2.7l-2.7 2.7l-2.7 -2.7zM607.6 847.3l2.7 2.7l-2.7 2.7l-2.7 -2.7zM608.7 847.3l2.7 2.7l-2.7 2.7l-2.7 -2.7zM609.8 847.3l2.7 2.7l-2.7 2.7l-2.7 -2.7zM610.8 847.3l2.7 2.7l-2.7 2.7l-2.7 -2.7zM611.9 847.3l2.7 2.7l-2.7 2.7l-2.7 -2.7zM612.9 847.3l2.7 2.7l-2.7 2.7l-2.7 -2.7zM614 847.3l2.7 2.7l-2.7 2.7l-2.7 -2.7zM615.1 847.3l2.7 2.7l-2.7 2.7l-2.7 -2.7zM616.1 847.3l2.7 2.7l-2.7 2.7l-2.7 -2.7zM617.2 847.3l2.7 2.7l-2.7 2.7l-2.7 -2.7zM618.2 847.3l2.7 2.7l-2.7 2.7l-2.7 -2.7z" fill="none" stroke="#00f000" stroke-width="1"/>
<polyline points="89.5,850 90.6,850 91.6,850 92.7,850 93.7,850 94.8,850 95.9,850 96.9,850 98,850 99,850 100.1,850 101.2,850 102.2,850 103.3,850 104.3,850 105.4,850 106.5,850 107.5,850 108.6,850 109.6,850 110.7,850 111.8,850 112.8,850 113.9,850 114.9,850 116,850 117,850 118.1,850 119.2,850 120.2,850 121.3,850 122.3,850 123.4,850 124.5,850 125.5,850 126.6,850 127.6,850 128.7,850 129.8,850 130.8,850 131.9,850 132.9,850 134,850 135.1,850 136.1,850 137.2,850 138.2,850 139.3,850 140.4,850 141.4,850 142.5,850 143.5,850 144.6,850 145.7,850 146.7,850 147.8,850 148.8,850 149.9,850 151,850 152,850 153.1,850 154.1,850 155.2,850 156.3,850 157.3,850 158.4,850 159.4,850 160.5,850 161.6,850 162.6,850 163.7,850 164.7,850 165.8,850 166.9,850 167.9,850 169,850 170,850 171.1,850 172.1,850 173.2,850 174.3,850 175.3,850 176.4,850 177.4,850 178.5,850 179.6,850 180.6,850 181.7,850 182.7,850 183.8,850 184.9,850 185.9,850 187,850 188,850 189.1,850 190.2,850 191.2,850 192.3,850 193.3,850 194.4,850 195.5,850 196.5,850 197.6,850 198.6,850 199.7,850 200.8,850 201.8,850 202.9,850 203.9,850 205,850 206.1,850 207.1,850 208.2,850 209.2,850 210.3,850 211.4,850 212.4,850 213.5,850 214.5,850 215.6,850 216.7,850 217.7,850 218.8,850 219.8,850 220.9,850 221.9,850 223,850 224.1,850 225.1,850 226.2,850 227.2,850 228.3,850 229.4,850 230.4,850 231.5,850 232.5,850 233.6,850 234.7,850 235.7,850 236.8,850 237.8,850 238.9,850 240,850 241,850 242.1,850 243.1,850 244.2,850 245.3,850 246.3,850 247.4,850 248.4,850 249.5,850 250.6,850 251.6,850 252.7,850 253.7,850 254.8,850 255.9,850 256.9,850 258,850 259,850 260.1,850 261.2,850 262.2,850 263.3,850 264.3,850 265.4,850 266.5,850 267.5,850 268.6,850 269.6,850 270.7,850 271.8,850 272.8,850 273.9,850 274.9,850 276,850 277,850 278.1,850 279.2,850 280.2,850 281.3,850 282.3,850 283.4,850 284.5,850 285.5,850 286.6,850 287.6,850 288.7,850 289.8,850 290.8,850 291.9,850 292.9,850 294,850 295.1,850 296.1,850 297.2,850 298.2,850 299.3,850 300.4,850 301.4,850 302.5,850 303.5,850 304.6,850 305.7,850 306.7,850 307.8,850 308.8,850 309.9,850 311,850 312,850 313.1,850 314.1,850 315.2,850 316.3,850 317.3,850 318.4,850 319.4,850 320.5,850 321.6,850 322.6,850 323.7,850 324.7,850 325.8,850 326.9,850 327.9,850 329,850 330,850 331.1,850 332.1,850 333.2,850 334.3,850 335.3,850 336.4,850 337.4,850 338.5,850 339.6,850 340.6,850 341.7,850 342.7,850 343.8,850 344.9,850 345.9,850 347,850 348,850 349.1,850 350.2,850 351.2,850 352.3,850 353.3,850 354.4,850 355.5,850 356.5,850 357.6,850 358.6,850 359.7,850 360.8,850 361.8,850 362.9,850 363.9,850 365,850 366.1,850 367.1,850 368.2,850 369.2,850 370.3,850 371.4,850 372.4,850 373.5,850 374.5,850 375.6,850 376.7,850 377.7,850 378.8,850 379.8,850 380.9,850 381.9,850 383,850 384.1,850 385.1,850 386.2,850 387.2,850 388.3,850 389.4,850 390.4,850 391.5,850 392.5,850 393.6,850 394.7,850 395.7,850 396.8,850 397.8,850 398.9,850 400,850 401,850 402.1,850 403.1,850 404.2,850 405.3,850 406.3,850 407.4,850 408.4,850 409.5,850 410.6,850 411.6,850 412.7,850 413.7,850 414.8,850 415.9,850 416.9,850 418,850 419,850 420.1,850 421.2,850 422.2,850 423.3,850 424.3,850 425.4,850 426.5,850 427.5,850 428.6,850 429.6,850 430.7,850 431.8,850 432.8,850 433.9,850 434.9,850 436,850 437,850 438.1,850 439.2,850 440.2,850 441.3,850 442.3,850 443.4,850 444.5,850 445.5,850 446.6,850 447.6,850 448.7,850 449.8,850 450.8,850 451.9,850 452.9,850 454,850 455.1,850 456.1,850 457.2,850 458.2,850 459.3,850 460.4,850 461.4,850 462.5,850 463.5,850 464.6,850 465.7,850 466.7,850 467.8,850 468.8,850 469.9,850 471,850 472,850 473.1,850 474.1,850 475.2,850 476.3,850 477.3,850 478.4,850 479.4,850 480.5,850 481.6,850 482.6,850 483.7,850 484.7,850 485.8,850 486.8,850 487.9,850 489,850 490,850 491.1,850 492.1,850 493.2,850 494.3,850 495.3,850 496.4,850 497.4,850 498.5,850 499.6,850 500.6,850 501.7,850 502.7,850 503.8,850 504.9,850 505.9,850 507,850 508,850 509.1,850 510.2,850 511.2,850 512.3,850 513.3,850 514.4,850 515.5,850 516.5,850 517.6,850 518.6,850 519.7,850 520.8,850 521.8,850 522.9,850 523.9,850 525,850 526.1,850 527.1,850 528.2,850 529.2,850 530.3,850 531.4,850 532.4,850 533.5,850 534.5,850 535.6,850 536.7,850 537.7,850 538.8,850 539.8,850 540.9,850 541.9,850 543,850 544.1,850 545.1,850 546.2,850 547.2,850 548.3,850 549.4,850 550.4,850 551.5,850 552.5,850 553.6,850 554.7,850 555.7,850 556.8,850 557.8,850 558.9,850 560,850 561,850 562.1,850 563.1,850 564.2,850 565.3,850 566.3,850 567.4,850 568.4,850 569.5,850 570.6,850 571.6,850 572.7,850 573.7,850 574.8,850 575.9,850 576.9,850 578,850 579,850 580.1,850 581.2,850 582.2,850 583.3,850 584.3,850 585.4,850 586.5,850 587.5,850 588.6,850 589.6,850 590.7,850 591.8,850 592.8,850 593.9,850 594.9,850 596,850 597,850 598.1,850 599.2,850 600.2,850 601.3,850 602.3,850 603.4,850 604.5,850 605.5,850 606.6,850 607.6,850 608.7,850 609.8,850 610.8,850 611.9,850 612.9,850 614,850 615.1,850 616.1,850 617.2,850 618.2,850" fill="none" stroke="#0000ff" stroke-width="0.8" stroke-dasharray="3 1.5 1 1.5" opacity="0.8"/>
<path d="M87.5 848.5h3.4v2.8h-3.4zM88.5 848.5h3.4v2.8h-3.4zM89.5 848.5h3.4v2.8h-3.4zM90.5 848.5h3.4v2.8h-3.4zM92.5 848.5h3.4v2.8h-3.4zM93.5 848.5h3.4v2.8h-3.4zM94.5 848.5h3.4v2.8h-3.4zM95.5 848.5h3.4v2.8h-3.4zM96.5 848.5h3.4v2.8h-3.4zM97.5 848.5h3.4v2.8h-3.4zM98.5 848.5h3.4v2.8h-3.4zM99.5 848.5h3.4v2.8h-3.4zM100.5 848.5h3.4v2.8h-3.4zM101.5 848.5h3.4v2.8h-3.4zM102.5 848.5h3.4v2.8h-3.4zM103.5 848.5h3.4v2.8h-3.4zM104.5 848.5h3.4v2.8h-3.4zM105.5 848.5h3.4v2.8h-3.4zM106.5 848.5h3.4v2.8h-3.4zM107.5 848.5h3.4v2.8h-3.4zM108.5 848.5h3.4v2.8h-3.4zM110.5 848.5h3.4v2.8h-3.4zM111.5 848.5h3.4v2.8h-3.4zM112.5 848.5h3.4v2.8h-3.4zM113.5 848.5h3.4v2.8h-3.4zM114.5 848.5h3.4v2.8h-3.4zM115.5 848.5h3.4v2.8h-3.4zM116.5 848.5h3.4v2.8h-3.4zM117.5 848.5h3.4v2.8h-3.4zM118.5 848.5h3.4v2.8h-3.4zM119.5 848.5h3.4v2.8h-3.4zM120.5 848.5h3.4v2.8h-3.4zM121.5 848.5h3.4v2.8h-3.4zM122.5 848.5h3.4v2.8h-3.4zM123.5 848.5h3.4v2.8h-3.4zM124.5 848.5h3.4v2.8h-3.4zM125.5 848.5h3.4v2.8h-3.4zM127.5 848.5h3.4v2.8h-3.4zM128.5 848.5h3.4v2.8h-3.4zM129.5 848.5h3.4v2.8h-3.4zM130.5 848.5h3.4v2.8h-3.4zM131.5 848.5h3.4v2.8h-3.4zM132.5 848.5h3.4v2.8h-3.4zM133.5 848.5h3.4v2.8h-3.4zM134.5 848.5h3.4v2.8h-3.4zM135.5 848.5h3.4v2.8h-3.4zM136.5 848.5h3.4v2.8h-3.4zM137.5 848.5h3.4v2.8h-3.4zM138.5 848.5h3.4v2.8h-3.4zM139.5 848.5h3.4v2.8h-3.4zM140.5 848.5h3.4v2.8h-3.4zM141.5 848.5h3.4v2.8h-3.4zM142.5 848.5h3.4v2.8h-3.4zM143.5 848.5h3.4v2.8h-3.4zM145.5 848.5h3.4v2.8h-3.4zM146.5 848.5h3.4v2.8h-3.4zM147.5 848.5h3.4v2.8h-3.4zM148.5 848.5h3.4v2.8h-3.4zM149.5 848.5h3.4v2.8h-3.4zM150.5 848.5h3.4v2.8h-3.4zM151.5 848.5h3.4v2.8h-3.4zM152.5 848.5h3.4v2.8h-3.4zM153.5 848.5h3.4v2.8h-3.4zM154.5 848.5h3.4v2.8h-3.4zM155.5 848.5h3.4v2.8h-3.4zM156.5 848.5h3.4v2.8h-3.4zM157.5 848.5h3.4v2.8h-3.4zM158.5 848.5h3.4v2.8h-3.4zM159.5 848.5h3.4v2.8h-3.4zM160.5 848.5h3.4v2.8h-3.4zM161.5 848.5h3.4v2.8h-3.4zM163.5 848.5h3.4v2.8h-3.4zM164.5 848.5h3.4v2.8h-3.4zM165.5 848.5h3.4v2.8h-3.4zM166.5 848.5h3.4v2.8h-3.4zM167.5 848.5h3.4v2.8h-3.4zM168.5 848.5h3.4v2.8h-3.4zM169.5 848.5h3.4v2.8h-3.4zM170.5 848.5h3.4v2.8h-3.4zM171.5 848.5h3.4v2.8h-3.4zM172.5 848.5h3.4v2.8h-3.4zM173.5 848.5h3.4v2.8h-3.4zM174.5 848.5h3.4v2.8h-3.4zM175.5 848.5h3.4v2.8h-3.4zM176.5 848.5h3.4v2.8h-3.4zM177.5 848.5h3.4v2.8h-3.4zM178.5 848.5h3.4v2.8h-3.4zM179.5 848.5h3.4v2.8h-3.4zM181.5 848.5h3.4v2.8h-3.4zM182.5 848.5h3.4v2.8h-3.4zM183.5 848.5h3.4v2.8h-3.4zM184.5 848.5h3.4v2.8h-3.4zM185.5 848.5h3.4v2.8h-3.4zM186.5 848.5h3.4v2.8h-3.4zM187.5 848.5h3.4v2.8h-3.4zM188.5 848.5h3.4v2.8h-3.4zM189.5 848.5h3.4v2.8h-3.4zM190.5 848.5h3.4v2.8h-3.4zM191.5 848.5h3.4v2.8h-3.4zM192.5 848.5h3.4v2.8h-3.4zM193.5 848.5h3.4v2.8h-3.4zM194.5 848.5h3.4v2.8h-3.4zM195.5 848.5h3.4v2.8h-3.4zM196.5 848.5h3.4v2.8h-3.4zM197.5 848.5h3.4v2.8h-3.4zM199.5 848.5h3.4v2.8h-3.4zM200.5 848.5h3.4v2.8h-3.4zM201.5 848.5h3.4v2.8h-3.4zM202.5 848.5h3.4v2.8h-3.4zM203.5 848.5h3.4v2.8h-3.4zM204.5 848.5h3.4v2.8h-3.4zM205.5 848.5h3.4v2.8h-3.4zM206.5 848.5h3.4v2.8h-3.4zM207.5 848.5h3.4v2.8h-3.4zM208.5 848.5h3.4v2.8h-3.4zM209.5 848.5h3.4v2.8h-3.4zM210.5 848.5h3.4v2.8h-3.4zM211.5 848.5h3.4v2.8h-3.4zM212.5 848.5h3.4v2.8h-3.4zM213.5 848.5h3.4v2.8h-3.4zM214.5 848.5h3.4v2.8h-3.4zM216.5 848.5h3.4v2.8h-3.4zM217.5 848.5h3.4v2.8h-3.4zM218.5 848.5h3.4v2.8h-3.4zM219.5 848.5h3.4v2.8h-3.4zM220.5 848.5h3.4v2.8h-3.4zM221.5 848.5h3.4v2.8h-3.4zM222.5 848.5h3.4v2.8h-3.4zM223.5 848.5h3.4v2.8h-3.4zM224.5 848.5h3.4v2.8h-3.4zM225.5 848.5h3.4v2.8h-3.4zM226.5 848.5h3.4v2.8h-3.4zM227.5 848.5h3.4v2.8h-3.4zM228.5 848.5h3.4v2.8h-3.4zM229.5 848.5h3.4v2.8h-3.4zM230.5 848.5h3.4v2.8h-3.4zM231.5 848.5h3.4v2.8h-3.4zM232.5 848.5h3.4v2.8h-3.4zM234.5 848.5h3.4v2.8h-3.4zM235.5 848.5h3.4v2.8h-3.4zM236.5 848.5h3.4v2.8h-3.4zM237.5 848.5h3.4v2.8h-3.4zM238.5 848.5h3.4v2.8h-3.4zM239.5 848.5h3.4v2.8h-3.4zM240.5 848.5h3.4v2.8h-3.4zM241.5 848.5h3.4v2.8h-3.4zM242.5 848.5h3.4v2.8h-3.4zM243.5 848.5h3.4v2.8h-3.4zM244.5 848.5h3.4v2.8h-3.4zM245.5 848.5h3.4v2.8h-3.4zM246.5 848.5h3.4v2.8h-3.4zM247.5 848.5h3.4v2.8h-3.4zM248.5 848.5h3.4v2.8h-3.4zM249.5 848.5h3.4v2.8h-3.4zM250.5 848.5h3.4v2.8h-3.4zM252.5 848.5h3.4v2.8h-3.4zM253.5 848.5h3.4v2.8h-3.4zM254.5 848.5h3.4v2.8h-3.4zM255.5 848.5h3.4v2.8h-3.4zM256.5 848.5h3.4v2.8h-3.4zM257.5 848.5h3.4v2.8h-3.4zM258.5 848.5h3.4v2.8h-3.4zM259.5 848.5h3.4v2.8h-3.4zM260.5 848.5h3.4v2.8h-3.4zM261.5 848.5h3.4v2.8h-3.4zM262.5 848.5h3.4v2.8h-3.4zM263.5 848.5h3.4v2.8h-3.4zM264.5 848.5h3.4v2.8h-3.4zM265.5 848.5h3.4v2.8h-3.4zM266.5 848.5h3.4v2.8h-3.4zM267.5 848.5h3.4v2.8h-3.4zM268.5 848.5h3.4v2.8h-3.4zM270.5 848.5h3.4v2.8h-3.4zM271.5 848.5h3.4v2.8h-3.4zM272.5 848.5h3.4v2.8h-3.4zM273.5 848.5h3.4v2.8h-3.4zM274.5 848.5h3.4v2.8h-3.4zM275.5 848.5h3.4v2.8h-3.4zM276.5 848.5h3.4v2.8h-3.4zM277.5 848.5h3.4v2.8h-3.4zM278.5 848.5h3.4v2.8h-3.4zM279.5 848.5h3.4v2.8h-3.4zM280.5 848.5h3.4v2.8h-3.4zM281.5 848.5h3.4v2.8h-3.4zM282.5 848.5h3.4v2.8h-3.4zM283.5 848.5h3.4v2.8h-3.4zM284.5 848.5h3.4v2.8h-3.4zM285.5 848.5h3.4v2.8h-3.4zM287.5 848.5h3.4v2.8h-3.4zM288.5 848.5h3.4v2.8h-3.4zM289.5 848.5h3.4v2.8h-3.4zM290.5 848.5h3.4v2.8h-3.4zM291.5 848.5h3.4v2.8h-3.4zM292.5 848.5h3.4v2.8h-3.4zM293.5 848.5h3.4v2.8h-3.4zM294.5 848.5h3.4v2.8h-3.4zM295.5 848.5h3.4v2.8h-3.4zM296.5 848.5h3.4v2.8h-3.4zM297.5 848.5h3.4v2.8h-3.4zM298.5 848.5h3.4v2.8h-3.4zM299.5 848.5h3.4v2.8h-3.4zM300.5 848.5h3.4v2.8h-3.4zM301.5 848.5h3.4v2.8h-3.4zM302.5 848.5h3.4v2.8h-3.4zM303.5 848.5h3.4v2.8h-3.4zM305.5 848.5h3.4v2.8h-3.4zM306.5 848.5h3.4v2.8h-3.4zM307.5 848.5h3.4v2.8h-3.4zM308.5 848.5h3.4v2.8h-3.4zM309.5 848.5h3.4v2.8h-3.4zM310.5 848.5h3.4v2.8h-3.4zM311.5 848.5h3.4v2.8h-3.4zM312.5 848.5h3.4v2.8h-3.4zM313.5 848.5h3.4v2.8h-3.4zM314.5 848.5h3.4v2.8h-3.4zM315.5 848.5h3.4v2.8h-3.4zM316.5 848.5h3.4v2.8h-3.4zM317.5 848.5h3.4v2.8h-3.4zM318.5 848.5h3.4v2.8h-3.4zM319.5 848.5h3.4v2.8h-3.4zM320.5 848.5h3.4v2.8h-3.4zM321.5 848.5h3.4v2.8h-3.4zM323.5 848.5h3.4v2.8h-3.4zM324.5 848.5h3.4v2.8h-3.4zM325.5 848.5h3.4v2.8h-3.4zM326.5 848.5h3.4v2.8h-3.4zM327.5 848.5h3.4v2.8h-3.4zM328.5 848.5h3.4v2.8h-3.4zM329.5 848.5h3.4v2.8h-3.4zM330.5 848.5h3.4v2.8h-3.4zM331.5 848.5h3.4v2.8h-3.4zM332.5 848.5h3.4v2.8h-3.4zM333.5 848.5h3.4v2.8h-3.4zM334.5 848.5h3.4v2.8h-3.4zM335.5 848.5h3.4v2.8h-3.4zM336.5 848.5h3.4v2.8h-3.4zM337.5 848.5h3.4v2.8h-3.4zM338.5 848.5h3.4v2.8h-3.4zM339.5 848.5h3.4v2.8h-3.4zM341.5 848.5h3.4v2.8h-3.4zM342.5 848.5h3.4v2.8h-3.4zM343.5 848.5h3.4v2.8h-3.4zM344.5 848.5h3.4v2.8h-3.4zM345.5 848.5h3.4v2.8h-3.4zM346.5 848.5h3.4v2.8h-3.4zM347.5 848.5h3.4v2.8h-3.4zM348.5 848.5h3.4v2.8h-3.4zM349.5 848.5h3.4v2.8h-3.4zM350.5 848.5h3.4v2.8h-3.4zM351.5 848.5h3.4v2.8h-3.4zM352.5 848.5h3.4v2.8h-3.4zM353.5 848.5h3.4v2.8h-3.4zM354.5 848.5h3.4v2.8h-3.4zM355.5 848.5h3.4v2.8h-3.4zM356.5 848.5h3.4v2.8h-3.4zM357.5 848.5h3.4v2.8h-3.4zM359.5 848.5h3.4v2.8h-3.4zM360.5 848.5h3.4v2.8h-3.4zM361.5 848.5h3.4v2.8h-3.4zM362.5 848.5h3.4v2.8h-3.4zM363.5 848.5h3.4v2.8h-3.4zM364.5 848.5h3.4v2.8h-3.4zM365.5 848.5h3.4v2.8h-3.4zM366.5 848.5h3.4v2.8h-3.4zM367.5 848.5h3.4v2.8h-3.4zM368.5 848.5h3.4v2.8h-3.4zM369.5 848.5h3.4v2.8h-3.4zM370.5 848.5h3.4v2.8h-3.4zM371.5 848.5h3.4v2.8h-3.4zM372.5 848.5h3.4v2.8h-3.4zM373.5 848.5h3.4v2.8h-3.4zM374.5 848.5h3.4v2.8h-3.4zM376.5 848.5h3.4v2.8h-3.4zM377.5 848.5h3.4v2.8h-3.4zM378.5 848.5h3.4v2.8h-3.4zM379.5 848.5h3.4v2.8h-3.4zM380.5 848.5h3.4v2.8h-3.4zM381.5 848.5h3.4v2.8h-3.4zM382.5 848.5h3.4v2.8h-3.4zM383.5 848.5h3.4v2.8h-3.4zM384.5 848.5h3.4v2.8h-3.4zM385.5 848.5h3.4v2.8h-3.4zM386.5 848.5h3.4v2.8h-3.4zM387.5 848.5h3.4v2.8h-3.4zM388.5 848.5h3.4v2.8h-3.4zM389.5 848.5h3.4v2.8h-3.4zM390.5 848.5h3.4v2.8h-3.4zM391.5 848.5h3.4v2.8h-3.4zM392.5 848.5h3.4v2.8h-3.4zM394.5 848.5h3.4v2.8h-3.4zM395.5 848.5h3.4v2.8h-3.4zM396.5 848.5h3.4v2.8h-3.4zM397.5 848.5h3.4v2.8h-3.4zM398.5 848.5h3.4v2.8h-3.4zM399.5 848.5h3.4v2.8h-3.4zM400.5 848.5h3.4v2.8h-3.4zM401.5 848.5h3.4v2.8h-3.4zM402.5 848.5h3.4v2.8h-3.4zM403.5 848.5h3.4v2.8h-3.4zM404.5 848.5h3.4v2.8h-3.4zM405.5 848.5h3.4v2.8h-3.4zM406.5 848.5h3.4v2.8h-3.4zM407.5 848.5h3.4v2.8h-3.4zM408.5 848.5h3.4v2.8h-3.4zM409.5 848.5h3.4v2.8h-3.4zM410.5 848.5h3.4v2.8h-3.4zM412.5 848.5h3.4v2.8h-3.4zM413.5 848.5h3.4v2.8h-3.4zM414.5 848.5h3.4v2.8h-3.4zM415.5 848.5h3.4v2.8h-3.4zM416.5 848.5h3.4v2.8h-3.4zM417.5 848.5h3.4v2.8h-3.4zM418.5 848.5h3.4v2.8h-3.4zM419.5 848.5h3.4v2.8h-3.4zM420.5 848.5h3.4v2.8h-3.4zM421.5 848.5h3.4v2.8h-3.4zM422.5 848.5h3.4v2.8h-3.4zM423.5 848.5h3.4v2.8h-3.4zM424.5 848.5h3.4v2.8h-3.4zM425.5 848.5h3.4v2.8h-3.4zM426.5 848.5h3.4v2.8h-3.4zM427.5 848.5h3.4v2.8h-3.4zM428.5 848.5h3.4v2.8h-3.4zM430.5 848.5h3.4v2.8h-3.4zM431.5 848.5h3.4v2.8h-3.4zM432.5 848.5h3.4v2.8h-3.4zM433.5 848.5h3.4v2.8h-3.4zM434.5 848.5h3.4v2.8h-3.4zM435.5 848.5h3.4v2.8h-3.4zM436.5 848.5h3.4v2.8h-3.4zM437.5 848.5h3.4v2.8h-3.4zM438.5 848.5h3.4v2.8h-3.4zM439.5 848.5h3.4v2.8h-3.4zM440.5 848.5h3.4v2.8h-3.4zM441.5 848.5h3.4v2.8h-3.4zM442.5 848.5h3.4v2.8h-3.4zM443.5 848.5h3.4v2.8h-3.4zM444.5 848.5h3.4v2.8h-3.4zM445.5 848.5h3.4v2.8h-3.4zM447.5 848.5h3.4v2.8h-3.4zM448.5 848.5h3.4v2.8h-3.4zM449.5 848.5h3.4v2.8h-3.4zM450.5 848.5h3.4v2.8h-3.4zM451.5 848.5h3.4v2.8h-3.4zM452.5 848.5h3.4v2.8h-3.4zM453.5 848.5h3.4v2.8h-3.4zM454.5 848.5h3.4v2.8h-3.4zM455.5 848.5h3.4v2.8h-3.4zM456.5 848.5h3.4v2.8h-3.4zM457.5 848.5h3.4v2.8h-3.4zM458.5 848.5h3.4v2.8h-3.4zM459.5 848.5h3.4v2.8h-3.4zM460.5 848.5h3.4v2.8h-3.4zM461.5 848.5h3.4v2.8h-3.4zM462.5 848.5h3.4v2.8h-3.4zM463.5 848.5h3.4v2.8h-3.4zM465.5 848.5h3.4v2.8h-3.4zM466.5 848.5h3.4v2.8h-3.4zM467.5 848.5h3.4v2.8h-3.4zM468.5 848.5h3.4v2.8h-3.4zM469.5 848.5h3.4v2.8h-3.4zM470.5 848.5h3.4v2.8h-3.4zM471.5 848.5h3.4v2.8h-3.4zM472.5 848.5h3.4v2.8h-3.4zM473.5 848.5h3.4v2.8h-3.4zM474.5 848.5h3.4v2.8h-3.4zM475.5 848.5h3.4v2.8h-3.4zM476.5 848.5h3.4v2.8h-3.4zM477.5 848.5h3.4v2.8h-3.4zM478.5 848.5h3.4v2.8h-3.4zM479.5 848.5h3.4v2.8h-3.4zM480.5 848.5h3.4v2.8h-3.4zM481.5 848.5h3.4v2.8h-3.4zM483.5 848.5h3.4v2.8h-3.4zM484.5 848.5h3.4v2.8h-3.4zM485.5 848.5h3.4v2.8h-3.4zM486.5 848.5h3.4v2.8h-3.4zM487.5 848.5h3.4v2.8h-3.4zM488.5 848.5h3.4v2.8h-3.4zM489.5 848.5h3.4v2.8h-3.4zM490.5 848.5h3.4v2.8h-3.4zM491.5 848.5h3.4v2.8h-3.4zM492.5 848.5h3.4v2.8h-3.4zM493.5 848.5h3.4v2.8h-3.4zM494.5 848.5h3.4v2.8h-3.4zM495.5 848.5h3.4v2.8h-3.4zM496.5 848.5h3.4v2.8h-3.4zM497.5 848.5h3.4v2.8h-3.4zM498.5 848.5h3.4v2.8h-3.4zM499.5 848.5h3.4v2.8h-3.4zM501.5 848.5h3.4v2.8h-3.4zM502.5 848.5h3.4v2.8h-3.4zM503.5 848.5h3.4v2.8h-3.4zM504.5 848.5h3.4v2.8h-3.4zM505.5 848.5h3.4v2.8h-3.4zM506.5 848.5h3.4v2.8h-3.4zM507.5 848.5h3.4v2.8h-3.4zM508.5 848.5h3.4v2.8h-3.4zM509.5 848.5h3.4v2.8h-3.4zM510.5 848.5h3.4v2.8h-3.4zM511.5 848.5h3.4v2.8h-3.4zM512.5 848.5h3.4v2.8h-3.4zM513.5 848.5h3.4v2.8h-3.4zM514.5 848.5h3.4v2.8h-3.4zM515.5 848.5h3.4v2.8h-3.4zM516.5 848.5h3.4v2.8h-3.4zM517.5 848.5h3.4v2.8h-3.4zM519.5 848.5h3.4v2.8h-3.4zM520.5 848.5h3.4v2.8h-3.4zM521.5 848.5h3.4v2.8h-3.4zM522.5 848.5h3.4v2.8h-3.4zM523.5 848.5h3.4v2.8h-3.4zM524.5 848.5h3.4v2.8h-3.4zM525.5 848.5h3.4v2.8h-3.4zM526.5 848.5h3.4v2.8h-3.4zM527.5 848.5h3.4v2.8h-3.4zM528.5 848.5h3.4v2.8h-3.4zM529.5 848.5h3.4v2.8h-3.4zM530.5 848.5h3.4v2.8h-3.4zM531.5 848.5h3.4v2.8h-3.4zM532.5 848.5h3.4v2.8h-3.4zM533.5 848.5h3.4v2.8h-3.4zM534.5 848.5h3.4v2.8h-3.4zM536.5 848.5h3.4v2.8h-3.4zM537.5 848.5h3.4v2.8h-3.4zM538.5 848.5h3.4v2.8h-3.4zM539.5 848.5h3.4v2.8h-3.4zM540.5 848.5h3.4v2.8h-3.4zM541.5 848.5h3.4v2.8h-3.4zM542.5 848.5h3.4v2.8h-3.4zM543.5 848.5h3.4v2.8h-3.4zM544.5 848.5h3.4v2.8h-3.4zM545.5 848.5h3.4v2.8h-3.4zM546.5 848.5h3.4v2.8h-3.4zM547.5 848.5h3.4v2.8h-3.4zM548.5 848.5h3.4v2.8h-3.4zM549.5 848.5h3.4v2.8h-3.4zM550.5 848.5h3.4v2.8h-3.4zM551.5 848.5h3.4v2.8h-3.4zM552.5 848.5h3.4v2.8h-3.4zM554.5 848.5h3.4v2.8h-3.4zM555.5 848.5h3.4v2.8h-3.4zM556.5 848.5h3.4v2.8h-3.4zM557.5 848.5h3.4v2.8h-3.4zM558.5 848.5h3.4v2.8h-3.4zM559.5 848.5h3.4v2.8h-3.4zM560.5 848.5h3.4v2.8h-3.4zM561.5 848.5h3.4v2.8h-3.4zM562.5 848.5h3.4v2.8h-3.4zM563.5 848.5h3.4v2.8h-3.4zM564.5 848.5h3.4v2.8h-3.4zM565.5 848.5h3.4v2.8h-3.4zM566.5 848.5h3.4v2.8h-3.4zM567.5 848.5h3.4v2.8h-3.4zM568.5 848.5h3.4v2.8h-3.4zM569.5 848.5h3.4v2.8h-3.4zM570.5 848.5h3.4v2.8h-3.4zM572.5 848.5h3.4v2.8h-3.4zM573.5 848.5h3.4v2.8h-3.4zM574.5 848.5h3.4v2.8h-3.4zM575.5 848.5h3.4v2.8h-3.4zM576.5 848.5h3.4v2.8h-3.4zM577.5 848.5h3.4v2.8h-3.4zM578.5 848.5h3.4v2.8h-3.4zM579.5 848.5h3.4v2.8h-3.4zM580.5 848.5h3.4v2.8h-3.4zM581.5 848.5h3.4v2.8h-3.4zM582.5 848.5h3.4v2.8h-3.4zM583.5 848.5h3.4v2.8h-3.4zM584.5 848.5h3.4v2.8h-3.4zM585.5 848.5h3.4v2.8h-3.4zM586.5 848.5h3.4v2.8h-3.4zM587.5 848.5h3.4v2.8h-3.4zM588.5 848.5h3.4v2.8h-3.4zM590.5 848.5h3.4v2.8h-3.4zM591.5 848.5h3.4v2.8h-3.4zM592.5 848.5h3.4v2.8h-3.4zM593.5 848.5h3.4v2.8h-3.4zM594.5 848.5h3.4v2.8h-3.4zM595.5 848.5h3.4v2.8h-3.4zM596.5 848.5h3.4v2.8h-3.4zM597.5 848.5h3.4v2.8h-3.4zM598.5 848.5h3.4v2.8h-3.4zM599.5 848.5h3.4v2.8h-3.4zM600.5 848.5h3.4v2.8h-3.4zM601.5 848.5h3.4v2.8h-3.4zM602.5 848.5h3.4v2.8h-3.4zM603.5 848.5h3.4v2.8h-3.4zM604.5 848.5h3.4v2.8h-3.4zM605.5 848.5h3.4v2.8h-3.4zM607.5 848.5h3.4v2.8h-3.4zM608.5 848.5h3.4v2.8h-3.4zM609.5 848.5h3.4v2.8h-3.4zM610.5 848.5h3.4v2.8h-3.4zM611.5 848.5h3.4v2.8h-3.4zM612.5 848.5h3.4v2.8h-3.4zM613.5 848.5h3.4v2.8h-3.4zM614.5 848.5h3.4v2.8h-3.4zM615.5 848.5h3.4v2.8h-3.4zM616.5 848.5h3.4v2.8h-3.4z" fill="none" stroke="#1a1aff" stroke-width="0.85"/>
<polyline points="90.3,817.5 91.4,804.5 92.5,798.4 94,795.2 96,794.8 619,794.8" fill="none" stroke="#00ffff" stroke-width="0.8" stroke-dasharray="3 1.5 1 1.5" opacity="0.8"/>
<path d="M88.9 814.4h3.4M90.6 812.7v3.4M89.9 803.3h3.4M91.6 801.6v3.4M91 798h3.4M92.7 796.3v3.4M92 795.8h3.4M93.7 794.1v3.4M93.1 795h3.4M94.8 793.3v3.4M94.2 794.8h3.4M95.9 793.1v3.4M95.2 794.8h3.4M96.9 793.1v3.4M96.3 794.8h3.4M98 793.1v3.4M97.3 794.8h3.4M99 793.1v3.4M98.4 794.8h3.4M100.1 793.1v3.4M99.5 794.8h3.4M101.2 793.1v3.4M100.5 794.8h3.4M102.2 793.1v3.4M101.6 794.8h3.4M103.3 793.1v3.4M102.6 794.8h3.4M104.3 793.1v3.4M103.7 794.8h3.4M105.4 793.1v3.4M104.8 794.8h3.4M106.5 793.1v3.4M105.8 794.8h3.4M107.5 793.1v3.4M106.9 794.8h3.4M108.6 793.1v3.4M107.9 794.8h3.4M109.6 793.1v3.4M109 794.8h3.4M110.7 793.1v3.4M110.1 794.8h3.4M111.8 793.1v3.4M111.1 794.8h3.4M112.8 793.1v3.4M112.2 794.8h3.4M113.9 793.1v3.4M113.2 794.8h3.4M114.9 793.1v3.4M114.3 794.8h3.4M116 793.1v3.4M115.3 794.8h3.4M117 793.1v3.4M116.4 794.8h3.4M118.1 793.1v3.4M117.5 794.8h3.4M119.2 793.1v3.4M118.5 794.8h3.4M120.2 793.1v3.4M119.6 794.8h3.4M121.3 793.1v3.4M120.6 794.8h3.4M122.3 793.1v3.4M121.7 794.8h3.4M123.4 793.1v3.4M122.8 794.8h3.4M124.5 793.1v3.4M123.8 794.8h3.4M125.5 793.1v3.4M124.9 794.8h3.4M126.6 793.1v3.4M125.9 794.8h3.4M127.6 793.1v3.4M127 794.8h3.4M128.7 793.1v3.4M128.1 794.8h3.4M129.8 793.1v3.4M129.1 794.8h3.4M130.8 793.1v3.4M130.2 794.8h3.4M131.9 793.1v3.4M131.2 794.8h3.4M132.9 793.1v3.4M132.3 794.8h3.4M134 793.1v3.4M133.4 794.8h3.4M135.1 793.1v3.4M134.4 794.8h3.4M136.1 793.1v3.4M135.5 794.8h3.4M137.2 793.1v3.4M136.5 794.8h3.4M138.2 793.1v3.4M137.6 794.8h3.4M139.3 793.1v3.4M138.7 794.8h3.4M140.4 793.1v3.4M139.7 794.8h3.4M141.4 793.1v3.4M140.8 794.8h3.4M142.5 793.1v3.4M141.8 794.8h3.4M143.5 793.1v3.4M142.9 794.8h3.4M144.6 793.1v3.4M144 794.8h3.4M145.7 793.1v3.4M145 794.8h3.4M146.7 793.1v3.4M146.1 794.8h3.4M147.8 793.1v3.4M147.1 794.8h3.4M148.8 793.1v3.4M148.2 794.8h3.4M149.9 793.1v3.4M149.3 794.8h3.4M151 793.1v3.4M150.3 794.8h3.4M152 793.1v3.4M151.4 794.8h3.4M153.1 793.1v3.4M152.4 794.8h3.4M154.1 793.1v3.4M153.5 794.8h3.4M155.2 793.1v3.4M154.6 794.8h3.4M156.3 793.1v3.4M155.6 794.8h3.4M157.3 793.1v3.4M156.7 794.8h3.4M158.4 793.1v3.4M157.7 794.8h3.4M159.4 793.1v3.4M158.8 794.8h3.4M160.5 793.1v3.4M159.9 794.8h3.4M161.6 793.1v3.4M160.9 794.8h3.4M162.6 793.1v3.4M162 794.8h3.4M163.7 793.1v3.4M163 794.8h3.4M164.7 793.1v3.4M164.1 794.8h3.4M165.8 793.1v3.4M165.2 794.8h3.4M166.9 793.1v3.4M166.2 794.8h3.4M167.9 793.1v3.4M167.3 794.8h3.4M169 793.1v3.4M168.3 794.8h3.4M170 793.1v3.4M169.4 794.8h3.4M171.1 793.1v3.4M170.4 794.8h3.4M172.1 793.1v3.4M171.5 794.8h3.4M173.2 793.1v3.4M172.6 794.8h3.4M174.3 793.1v3.4M173.6 794.8h3.4M175.3 793.1v3.4M174.7 794.8h3.4M176.4 793.1v3.4M175.7 794.8h3.4M177.4 793.1v3.4M176.8 794.8h3.4M178.5 793.1v3.4M177.9 794.8h3.4M179.6 793.1v3.4M178.9 794.8h3.4M180.6 793.1v3.4M180 794.8h3.4M181.7 793.1v3.4M181 794.8h3.4M182.7 793.1v3.4M182.1 794.8h3.4M183.8 793.1v3.4M183.2 794.8h3.4M184.9 793.1v3.4M184.2 794.8h3.4M185.9 793.1v3.4M185.3 794.8h3.4M187 793.1v3.4M186.3 794.8h3.4M188 793.1v3.4M187.4 794.8h3.4M189.1 793.1v3.4M188.5 794.8h3.4M190.2 793.1v3.4M189.5 794.8h3.4M191.2 793.1v3.4M190.6 794.8h3.4M192.3 793.1v3.4M191.6 794.8h3.4M193.3 793.1v3.4M192.7 794.8h3.4M194.4 793.1v3.4M193.8 794.8h3.4M195.5 793.1v3.4M194.8 794.8h3.4M196.5 793.1v3.4M195.9 794.8h3.4M197.6 793.1v3.4M196.9 794.8h3.4M198.6 793.1v3.4M198 794.8h3.4M199.7 793.1v3.4M199.1 794.8h3.4M200.8 793.1v3.4M200.1 794.8h3.4M201.8 793.1v3.4M201.2 794.8h3.4M202.9 793.1v3.4M202.2 794.8h3.4M203.9 793.1v3.4M203.3 794.8h3.4M205 793.1v3.4M204.4 794.8h3.4M206.1 793.1v3.4M205.4 794.8h3.4M207.1 793.1v3.4M206.5 794.8h3.4M208.2 793.1v3.4M207.5 794.8h3.4M209.2 793.1v3.4M208.6 794.8h3.4M210.3 793.1v3.4M209.7 794.8h3.4M211.4 793.1v3.4M210.7 794.8h3.4M212.4 793.1v3.4M211.8 794.8h3.4M213.5 793.1v3.4M212.8 794.8h3.4M214.5 793.1v3.4M213.9 794.8h3.4M215.6 793.1v3.4M215 794.8h3.4M216.7 793.1v3.4M216 794.8h3.4M217.7 793.1v3.4M217.1 794.8h3.4M218.8 793.1v3.4M218.1 794.8h3.4M219.8 793.1v3.4M219.2 794.8h3.4M220.9 793.1v3.4M220.2 794.8h3.4M221.9 793.1v3.4M221.3 794.8h3.4M223 793.1v3.4M222.4 794.8h3.4M224.1 793.1v3.4M223.4 794.8h3.4M225.1 793.1v3.4M224.5 794.8h3.4M226.2 793.1v3.4M225.5 794.8h3.4M227.2 793.1v3.4M226.6 794.8h3.4M228.3 793.1v3.4M227.7 794.8h3.4M229.4 793.1v3.4M228.7 794.8h3.4M230.4 793.1v3.4M229.8 794.8h3.4M231.5 793.1v3.4M230.8 794.8h3.4M232.5 793.1v3.4M231.9 794.8h3.4M233.6 793.1v3.4M233 794.8h3.4M234.7 793.1v3.4M234 794.8h3.4M235.7 793.1v3.4M235.1 794.8h3.4M236.8 793.1v3.4M236.1 794.8h3.4M237.8 793.1v3.4M237.2 794.8h3.4M238.9 793.1v3.4M238.3 794.8h3.4M240 793.1v3.4M239.3 794.8h3.4M241 793.1v3.4M240.4 794.8h3.4M242.1 793.1v3.4M241.4 794.8h3.4M243.1 793.1v3.4M242.5 794.8h3.4M244.2 793.1v3.4M243.6 794.8h3.4M245.3 793.1v3.4M244.6 794.8h3.4M246.3 793.1v3.4M245.7 794.8h3.4M247.4 793.1v3.4M246.7 794.8h3.4M248.4 793.1v3.4M247.8 794.8h3.4M249.5 793.1v3.4M248.9 794.8h3.4M250.6 793.1v3.4M249.9 794.8h3.4M251.6 793.1v3.4M251 794.8h3.4M252.7 793.1v3.4M252 794.8h3.4M253.7 793.1v3.4M253.1 794.8h3.4M254.8 793.1v3.4M254.2 794.8h3.4M255.9 793.1v3.4M255.2 794.8h3.4M256.9 793.1v3.4M256.3 794.8h3.4M258 793.1v3.4M257.3 794.8h3.4M259 793.1v3.4M258.4 794.8h3.4M260.1 793.1v3.4M259.5 794.8h3.4M261.2 793.1v3.4M260.5 794.8h3.4M262.2 793.1v3.4M261.6 794.8h3.4M263.3 793.1v3.4M262.6 794.8h3.4M264.3 793.1v3.4M263.7 794.8h3.4M265.4 793.1v3.4M264.8 794.8h3.4M266.5 793.1v3.4M265.8 794.8h3.4M267.5 793.1v3.4M266.9 794.8h3.4M268.6 793.1v3.4M267.9 794.8h3.4M269.6 793.1v3.4M269 794.8h3.4M270.7 793.1v3.4M270.1 794.8h3.4M271.8 793.1v3.4M271.1 794.8h3.4M272.8 793.1v3.4M272.2 794.8h3.4M273.9 793.1v3.4M273.2 794.8h3.4M274.9 793.1v3.4M274.3 794.8h3.4M276 793.1v3.4M275.3 794.8h3.4M277 793.1v3.4M276.4 794.8h3.4M278.1 793.1v3.4M277.5 794.8h3.4M279.2 793.1v3.4M278.5 794.8h3.4M280.2 793.1v3.4M279.6 794.8h3.4M281.3 793.1v3.4M280.6 794.8h3.4M282.3 793.1v3.4M281.7 794.8h3.4M283.4 793.1v3.4M282.8 794.8h3.4M284.5 793.1v3.4M283.8 794.8h3.4M285.5 793.1v3.4M284.9 794.8h3.4M286.6 793.1v3.4M285.9 794.8h3.4M287.6 793.1v3.4M287 794.8h3.4M288.7 793.1v3.4M288.1 794.8h3.4M289.8 793.1v3.4M289.1 794.8h3.4M290.8 793.1v3.4M290.2 794.8h3.4M291.9 793.1v3.4M291.2 794.8h3.4M292.9 793.1v3.4M292.3 794.8h3.4M294 793.1v3.4M293.4 794.8h3.4M295.1 793.1v3.4M294.4 794.8h3.4M296.1 793.1v3.4M295.5 794.8h3.4M297.2 793.1v3.4M296.5 794.8h3.4M298.2 793.1v3.4M297.6 794.8h3.4M299.3 793.1v3.4M298.7 794.8h3.4M300.4 793.1v3.4M299.7 794.8h3.4M301.4 793.1v3.4M300.8 794.8h3.4M302.5 793.1v3.4M301.8 794.8h3.4M303.5 793.1v3.4M302.9 794.8h3.4M304.6 793.1v3.4M304 794.8h3.4M305.7 793.1v3.4M305 794.8h3.4M306.7 793.1v3.4M306.1 794.8h3.4M307.8 793.1v3.4M307.1 794.8h3.4M308.8 793.1v3.4M308.2 794.8h3.4M309.9 793.1v3.4M309.3 794.8h3.4M311 793.1v3.4M310.3 794.8h3.4M312 793.1v3.4M311.4 794.8h3.4M313.1 793.1v3.4M312.4 794.8h3.4M314.1 793.1v3.4M313.5 794.8h3.4M315.2 793.1v3.4M314.6 794.8h3.4M316.3 793.1v3.4M315.6 794.8h3.4M317.3 793.1v3.4M316.7 794.8h3.4M318.4 793.1v3.4M317.7 794.8h3.4M319.4 793.1v3.4M318.8 794.8h3.4M320.5 793.1v3.4M319.9 794.8h3.4M321.6 793.1v3.4M320.9 794.8h3.4M322.6 793.1v3.4M322 794.8h3.4M323.7 793.1v3.4M323 794.8h3.4M324.7 793.1v3.4M324.1 794.8h3.4M325.8 793.1v3.4M325.2 794.8h3.4M326.9 793.1v3.4M326.2 794.8h3.4M327.9 793.1v3.4M327.3 794.8h3.4M329 793.1v3.4M328.3 794.8h3.4M330 793.1v3.4M329.4 794.8h3.4M331.1 793.1v3.4M330.4 794.8h3.4M332.1 793.1v3.4M331.5 794.8h3.4M333.2 793.1v3.4M332.6 794.8h3.4M334.3 793.1v3.4M333.6 794.8h3.4M335.3 793.1v3.4M334.7 794.8h3.4M336.4 793.1v3.4M335.7 794.8h3.4M337.4 793.1v3.4M336.8 794.8h3.4M338.5 793.1v3.4M337.9 794.8h3.4M339.6 793.1v3.4M338.9 794.8h3.4M340.6 793.1v3.4M340 794.8h3.4M341.7 793.1v3.4M341 794.8h3.4M342.7 793.1v3.4M342.1 794.8h3.4M343.8 793.1v3.4M343.2 794.8h3.4M344.9 793.1v3.4M344.2 794.8h3.4M345.9 793.1v3.4M345.3 794.8h3.4M347 793.1v3.4M346.3 794.8h3.4M348 793.1v3.4M347.4 794.8h3.4M349.1 793.1v3.4M348.5 794.8h3.4M350.2 793.1v3.4M349.5 794.8h3.4M351.2 793.1v3.4M350.6 794.8h3.4M352.3 793.1v3.4M351.6 794.8h3.4M353.3 793.1v3.4M352.7 794.8h3.4M354.4 793.1v3.4M353.8 794.8h3.4M355.5 793.1v3.4M354.8 794.8h3.4M356.5 793.1v3.4M355.9 794.8h3.4M357.6 793.1v3.4M356.9 794.8h3.4M358.6 793.1v3.4M358 794.8h3.4M359.7 793.1v3.4M359.1 794.8h3.4M360.8 793.1v3.4M360.1 794.8h3.4M361.8 793.1v3.4M361.2 794.8h3.4M362.9 793.1v3.4M362.2 794.8h3.4M363.9 793.1v3.4M363.3 794.8h3.4M365 793.1v3.4M364.4 794.8h3.4M366.1 793.1v3.4M365.4 794.8h3.4M367.1 793.1v3.4M366.5 794.8h3.4M368.2 793.1v3.4M367.5 794.8h3.4M369.2 793.1v3.4M368.6 794.8h3.4M370.3 793.1v3.4M369.7 794.8h3.4M371.4 793.1v3.4M370.7 794.8h3.4M372.4 793.1v3.4M371.8 794.8h3.4M373.5 793.1v3.4M372.8 794.8h3.4M374.5 793.1v3.4M373.9 794.8h3.4M375.6 793.1v3.4M375 794.8h3.4M376.7 793.1v3.4M376 794.8h3.4M377.7 793.1v3.4M377.1 794.8h3.4M378.8 793.1v3.4M378.1 794.8h3.4M379.8 793.1v3.4M379.2 794.8h3.4M380.9 793.1v3.4M380.2 794.8h3.4M381.9 793.1v3.4M381.3 794.8h3.4M383 793.1v3.4M382.4 794.8h3.4M384.1 793.1v3.4M383.4 794.8h3.4M385.1 793.1v3.4M384.5 794.8h3.4M386.2 793.1v3.4M385.5 794.8h3.4M387.2 793.1v3.4M386.6 794.8h3.4M388.3 793.1v3.4M387.7 794.8h3.4M389.4 793.1v3.4M388.7 794.8h3.4M390.4 793.1v3.4M389.8 794.8h3.4M391.5 793.1v3.4M390.8 794.8h3.4M392.5 793.1v3.4M391.9 794.8h3.4M393.6 793.1v3.4M393 794.8h3.4M394.7 793.1v3.4M394 794.8h3.4M395.7 793.1v3.4M395.1 794.8h3.4M396.8 793.1v3.4M396.1 794.8h3.4M397.8 793.1v3.4M397.2 794.8h3.4M398.9 793.1v3.4M398.3 794.8h3.4M400 793.1v3.4M399.3 794.8h3.4M401 793.1v3.4M400.4 794.8h3.4M402.1 793.1v3.4M401.4 794.8h3.4M403.1 793.1v3.4M402.5 794.8h3.4M404.2 793.1v3.4M403.6 794.8h3.4M405.3 793.1v3.4M404.6 794.8h3.4M406.3 793.1v3.4M405.7 794.8h3.4M407.4 793.1v3.4M406.7 794.8h3.4M408.4 793.1v3.4M407.8 794.8h3.4M409.5 793.1v3.4M408.9 794.8h3.4M410.6 793.1v3.4M409.9 794.8h3.4M411.6 793.1v3.4M411 794.8h3.4M412.7 793.1v3.4M412 794.8h3.4M413.7 793.1v3.4M413.1 794.8h3.4M414.8 793.1v3.4M414.2 794.8h3.4M415.9 793.1v3.4M415.2 794.8h3.4M416.9 793.1v3.4M416.3 794.8h3.4M418 793.1v3.4M417.3 794.8h3.4M419 793.1v3.4M418.4 794.8h3.4M420.1 793.1v3.4M419.5 794.8h3.4M421.2 793.1v3.4M420.5 794.8h3.4M422.2 793.1v3.4M421.6 794.8h3.4M423.3 793.1v3.4M422.6 794.8h3.4M424.3 793.1v3.4M423.7 794.8h3.4M425.4 793.1v3.4M424.8 794.8h3.4M426.5 793.1v3.4M425.8 794.8h3.4M427.5 793.1v3.4M426.9 794.8h3.4M428.6 793.1v3.4M427.9 794.8h3.4M429.6 793.1v3.4M429 794.8h3.4M430.7 793.1v3.4M430.1 794.8h3.4M431.8 793.1v3.4M431.1 794.8h3.4M432.8 793.1v3.4M432.2 794.8h3.4M433.9 793.1v3.4M433.2 794.8h3.4M434.9 793.1v3.4M434.3 794.8h3.4M436 793.1v3.4M435.3 794.8h3.4M437 793.1v3.4M436.4 794.8h3.4M438.1 793.1v3.4M437.5 794.8h3.4M439.2 793.1v3.4M438.5 794.8h3.4M440.2 793.1v3.4M439.6 794.8h3.4M441.3 793.1v3.4M440.6 794.8h3.4M442.3 793.1v3.4M441.7 794.8h3.4M443.4 793.1v3.4M442.8 794.8h3.4M444.5 793.1v3.4M443.8 794.8h3.4M445.5 793.1v3.4M444.9 794.8h3.4M446.6 793.1v3.4M445.9 794.8h3.4M447.6 793.1v3.4M447 794.8h3.4M448.7 793.1v3.4M448.1 794.8h3.4M449.8 793.1v3.4M449.1 794.8h3.4M450.8 793.1v3.4M450.2 794.8h3.4M451.9 793.1v3.4M451.2 794.8h3.4M452.9 793.1v3.4M452.3 794.8h3.4M454 793.1v3.4M453.4 794.8h3.4M455.1 793.1v3.4M454.4 794.8h3.4M456.1 793.1v3.4M455.5 794.8h3.4M457.2 793.1v3.4M456.5 794.8h3.4M458.2 793.1v3.4M457.6 794.8h3.4M459.3 793.1v3.4M458.7 794.8h3.4M460.4 793.1v3.4M459.7 794.8h3.4M461.4 793.1v3.4M460.8 794.8h3.4M462.5 793.1v3.4M461.8 794.8h3.4M463.5 793.1v3.4M462.9 794.8h3.4M464.6 793.1v3.4M464 794.8h3.4M465.7 793.1v3.4M465 794.8h3.4M466.7 793.1v3.4M466.1 794.8h3.4M467.8 793.1v3.4M467.1 794.8h3.4M468.8 793.1v3.4M468.2 794.8h3.4M469.9 793.1v3.4M469.3 794.8h3.4M471 793.1v3.4M470.3 794.8h3.4M472 793.1v3.4M471.4 794.8h3.4M473.1 793.1v3.4M472.4 794.8h3.4M474.1 793.1v3.4M473.5 794.8h3.4M475.2 793.1v3.4M474.6 794.8h3.4M476.3 793.1v3.4M475.6 794.8h3.4M477.3 793.1v3.4M476.7 794.8h3.4M478.4 793.1v3.4M477.7 794.8h3.4M479.4 793.1v3.4M478.8 794.8h3.4M480.5 793.1v3.4M479.9 794.8h3.4M481.6 793.1v3.4M480.9 794.8h3.4M482.6 793.1v3.4M482 794.8h3.4M483.7 793.1v3.4M483 794.8h3.4M484.7 793.1v3.4M484.1 794.8h3.4M485.8 793.1v3.4M485.1 794.8h3.4M486.8 793.1v3.4M486.2 794.8h3.4M487.9 793.1v3.4M487.3 794.8h3.4M489 793.1v3.4M488.3 794.8h3.4M490 793.1v3.4M489.4 794.8h3.4M491.1 793.1v3.4M490.4 794.8h3.4M492.1 793.1v3.4M491.5 794.8h3.4M493.2 793.1v3.4M492.6 794.8h3.4M494.3 793.1v3.4M493.6 794.8h3.4M495.3 793.1v3.4M494.7 794.8h3.4M496.4 793.1v3.4M495.7 794.8h3.4M497.4 793.1v3.4M496.8 794.8h3.4M498.5 793.1v3.4M497.9 794.8h3.4M499.6 793.1v3.4M498.9 794.8h3.4M500.6 793.1v3.4M500 794.8h3.4M501.7 793.1v3.4M501 794.8h3.4M502.7 793.1v3.4M502.1 794.8h3.4M503.8 793.1v3.4M503.2 794.8h3.4M504.9 793.1v3.4M504.2 794.8h3.4M505.9 793.1v3.4M505.3 794.8h3.4M507 793.1v3.4M506.3 794.8h3.4M508 793.1v3.4M507.4 794.8h3.4M509.1 793.1v3.4M508.5 794.8h3.4M510.2 793.1v3.4M509.5 794.8h3.4M511.2 793.1v3.4M510.6 794.8h3.4M512.3 793.1v3.4M511.6 794.8h3.4M513.3 793.1v3.4M512.7 794.8h3.4M514.4 793.1v3.4M513.8 794.8h3.4M515.5 793.1v3.4M514.8 794.8h3.4M516.5 793.1v3.4M515.9 794.8h3.4M517.6 793.1v3.4M516.9 794.8h3.4M518.6 793.1v3.4M518 794.8h3.4M519.7 793.1v3.4M519.1 794.8h3.4M520.8 793.1v3.4M520.1 794.8h3.4M521.8 793.1v3.4M521.2 794.8h3.4M522.9 793.1v3.4M522.2 794.8h3.4M523.9 793.1v3.4M523.3 794.8h3.4M525 793.1v3.4M524.4 794.8h3.4M526.1 793.1v3.4M525.4 794.8h3.4M527.1 793.1v3.4M526.5 794.8h3.4M528.2 793.1v3.4M527.5 794.8h3.4M529.2 793.1v3.4M528.6 794.8h3.4M530.3 793.1v3.4M529.7 794.8h3.4M531.4 793.1v3.4M530.7 794.8h3.4M532.4 793.1v3.4M531.8 794.8h3.4M533.5 793.1v3.4M532.8 794.8h3.4M534.5 793.1v3.4M533.9 794.8h3.4M535.6 793.1v3.4M535 794.8h3.4M536.7 793.1v3.4M536 794.8h3.4M537.7 793.1v3.4M537.1 794.8h3.4M538.8 793.1v3.4M538.1 794.8h3.4M539.8 793.1v3.4M539.2 794.8h3.4M540.9 793.1v3.4M540.2 794.8h3.4M541.9 793.1v3.4M541.3 794.8h3.4M543 793.1v3.4M542.4 794.8h3.4M544.1 793.1v3.4M543.4 794.8h3.4M545.1 793.1v3.4M544.5 794.8h3.4M546.2 793.1v3.4M545.5 794.8h3.4M547.2 793.1v3.4M546.6 794.8h3.4M548.3 793.1v3.4M547.7 794.8h3.4M549.4 793.1v3.4M548.7 794.8h3.4M550.4 793.1v3.4M549.8 794.8h3.4M551.5 793.1v3.4M550.8 794.8h3.4M552.5 793.1v3.4M551.9 794.8h3.4M553.6 793.1v3.4M553 794.8h3.4M554.7 793.1v3.4M554 794.8h3.4M555.7 793.1v3.4M555.1 794.8h3.4M556.8 793.1v3.4M556.1 794.8h3.4M557.8 793.1v3.4M557.2 794.8h3.4M558.9 793.1v3.4M558.3 794.8h3.4M560 793.1v3.4M559.3 794.8h3.4M561 793.1v3.4M560.4 794.8h3.4M562.1 793.1v3.4M561.4 794.8h3.4M563.1 793.1v3.4M562.5 794.8h3.4M564.2 793.1v3.4M563.6 794.8h3.4M565.3 793.1v3.4M564.6 794.8h3.4M566.3 793.1v3.4M565.7 794.8h3.4M567.4 793.1v3.4M566.7 794.8h3.4M568.4 793.1v3.4M567.8 794.8h3.4M569.5 793.1v3.4M568.9 794.8h3.4M570.6 793.1v3.4M569.9 794.8h3.4M571.6 793.1v3.4M571 794.8h3.4M572.7 793.1v3.4M572 794.8h3.4M573.7 793.1v3.4M573.1 794.8h3.4M574.8 793.1v3.4M574.2 794.8h3.4M575.9 793.1v3.4M575.2 794.8h3.4M576.9 793.1v3.4M576.3 794.8h3.4M578 793.1v3.4M577.3 794.8h3.4M579 793.1v3.4M578.4 794.8h3.4M580.1 793.1v3.4M579.5 794.8h3.4M581.2 793.1v3.4M580.5 794.8h3.4M582.2 793.1v3.4M581.6 794.8h3.4M583.3 793.1v3.4M582.6 794.8h3.4M584.3 793.1v3.4M583.7 794.8h3.4M585.4 793.1v3.4M584.8 794.8h3.4M586.5 793.1v3.4M585.8 794.8h3.4M587.5 793.1v3.4M586.9 794.8h3.4M588.6 793.1v3.4M587.9 794.8h3.4M589.6 793.1v3.4M589 794.8h3.4M590.7 793.1v3.4M590.1 794.8h3.4M591.8 793.1v3.4M591.1 794.8h3.4M592.8 793.1v3.4M592.2 794.8h3.4M593.9 793.1v3.4M593.2 794.8h3.4M594.9 793.1v3.4M594.3 794.8h3.4M596 793.1v3.4M595.3 794.8h3.4M597 793.1v3.4M596.4 794.8h3.4M598.1 793.1v3.4M597.5 794.8h3.4M599.2 793.1v3.4M598.5 794.8h3.4M600.2 793.1v3.4M599.6 794.8h3.4M601.3 793.1v3.4M600.6 794.8h3.4M602.3 793.1v3.4M601.7 794.8h3.4M603.4 793.1v3.4M602.8 794.8h3.4M604.5 793.1v3.4M603.8 794.8h3.4M605.5 793.1v3.4M604.9 794.8h3.4M606.6 793.1v3.4M605.9 794.8h3.4M607.6 793.1v3.4M607 794.8h3.4M608.7 793.1v3.4M608.1 794.8h3.4M609.8 793.1v3.4M609.1 794.8h3.4M610.8 793.1v3.4M610.2 794.8h3.4M611.9 793.1v3.4M611.2 794.8h3.4M612.9 793.1v3.4M612.3 794.8h3.4M614 793.1v3.4M613.4 794.8h3.4M615.1 793.1v3.4M614.4 794.8h3.4M616.1 793.1v3.4M615.5 794.8h3.4M617.2 793.1v3.4M616.5 794.8h3.4M618.2 793.1v3.4" fill="none" stroke="#00ffff" stroke-width="1"/>
<polyline points="90.7,831.3 91.8,827 93,825.3 619,825.3" fill="none" stroke="#ff00ff" stroke-width="4.1" stroke-linejoin="round" stroke-linecap="round" />
<polyline points="89.5,849.5 619,849.5" fill="none" stroke="#000030" stroke-width="1"/>
<g fill="none">
<rect x="89.5" y="760.8" width="529.8" height="164" stroke="#8c8c8c" stroke-width="1.5"/>
<path d="M89.5 924.8v-5M89.5 760.8v5M142.5 924.8v-5M142.5 760.8v5M195.5 924.8v-5M195.5 760.8v5M248.4 924.8v-5M248.4 760.8v5M301.4 924.8v-5M301.4 760.8v5M354.4 924.8v-5M354.4 760.8v5M407.4 924.8v-5M407.4 760.8v5M460.4 924.8v-5M460.4 760.8v5M513.3 924.8v-5M513.3 760.8v5M566.3 924.8v-5M566.3 760.8v5M619.3 924.8v-5M619.3 760.8v5M89.5 760.8h5M619.3 760.8h-5M89.5 801.8h5M619.3 801.8h-5M89.5 842.8h5M619.3 842.8h-5M89.5 883.8h5M619.3 883.8h-5M89.5 924.8h5M619.3 924.8h-5" stroke="#6e6e6e" stroke-width="1.2"/>
</g>
<text x="84.6" y="766.1" font-size="15.5" text-anchor="end">4</text>
<text x="84.6" y="807.1" font-size="15.5" text-anchor="end">3</text>
<text x="84.6" y="848.1" font-size="15.5" text-anchor="end">2</text>
<text x="84.6" y="889.1" font-size="15.5" text-anchor="end">1</text>
<text x="84.6" y="930.1" font-size="15.5" text-anchor="end">0</text>
<text x="89.8" y="943.8" font-size="15.5" text-anchor="middle">0</text>
<text x="142.8" y="943.8" font-size="15.5" text-anchor="middle">50</text>
<text x="195.8" y="943.8" font-size="15.5" text-anchor="middle">100</text>
<text x="248.7" y="943.8" font-size="15.5" text-anchor="middle">150</text>
<text x="301.7" y="943.8" font-size="15.5" text-anchor="middle">200</text>
<text x="354.7" y="943.8" font-size="15.5" text-anchor="middle">250</text>
<text x="407.7" y="943.8" font-size="15.5" text-anchor="middle">300</text>
<text x="460.7" y="943.8" font-size="15.5" text-anchor="middle">350</text>
<text x="513.6" y="943.8" font-size="15.5" text-anchor="middle">400</text>
<text x="566.6" y="943.8" font-size="15.5" text-anchor="middle">450</text>
<text x="619.6" y="943.8" font-size="15.5" text-anchor="middle">500</text>
<path d="M91.4 749.9l6.6 7.2M98 749.9l-6.6 7.2" stroke="#222" stroke-width="1.2" fill="none"/>
<text x="101" y="757.5" font-size="14.8">10</text>
<text x="117.3" y="750.6" font-size="11.8">-3</text>
<text transform="translate(45.6,842.8) rotate(-90)" font-size="19.5" text-anchor="middle">Susceptance</text>
<text transform="translate(70.6,842.8) rotate(-90)" font-size="19.5" text-anchor="middle">(Per Unit/Mile)</text>
<text x="354.5" y="967.8" font-size="19.6" text-anchor="middle">The number of estimations</text>
<rect x="154.7" y="977.3" width="399" height="45.8" fill="#fff" stroke="#8a8a8a" stroke-width="1"/>
<line x1="156" y1="989.2" x2="175" y2="989.2" stroke="#00f000" stroke-width="1" opacity="0.75" stroke-dasharray="3.2 1 1.2 1"/>
<path d="M165.4 986.6l2.1 2.6l-2.1 2.6l-2.1 -2.6z" fill="none" stroke="#00f000" stroke-width="1.1"/>
<line x1="264" y1="989.2" x2="282.8" y2="989.2" stroke="#0000ff" stroke-width="0.9" opacity="0.75" stroke-dasharray="3.2 1 1.2 1"/>
<rect x="271.2" y="987.9" width="3.8" height="2.5" fill="none" stroke="#0000ff" stroke-width="1"/>
<line x1="460.7" y1="989.2" x2="479" y2="989.2" stroke="#00ffff" stroke-width="1" opacity="0.75" stroke-dasharray="3.2 1 1.2 1"/>
<path d="M467.2 989.2h5M469.7 987v4.4" stroke="#00ffff" stroke-width="1"/>
<line x1="156" y1="1011.2" x2="175" y2="1011.2" stroke="#ff00ff" stroke-width="1" opacity="0.75" stroke-dasharray="3.2 1 1.2 1"/>
<circle cx="165.4" cy="1011.2" r="1.8" fill="#ff00ff"/>
<line x1="264" y1="1011.2" x2="282.6" y2="1011.2" stroke="#222" stroke-width="1" opacity="1" />
<text x="175.8" y="995.6" font-size="17.3" letter-spacing="0.3">Normal KF</text>
<text x="284" y="995.6" font-size="17.3" letter-spacing="0.3">Adjusted Kalman gain</text>
<text x="479.2" y="995.6" font-size="17.3" letter-spacing="0.3">Fast KF1</text>
<text x="175.8" y="1018.6" font-size="17.3" letter-spacing="0.3">Fast KF2</text>
<text x="284" y="1018.6" font-size="17.3" letter-spacing="0.3">Actual value</text>
<text class="cap" x="0" y="1099.5" font-size="30" letter-spacing="0.2"><tspan font-weight="bold">(c)</tspan> shunt susceptance</text>
</svg></body></html>
